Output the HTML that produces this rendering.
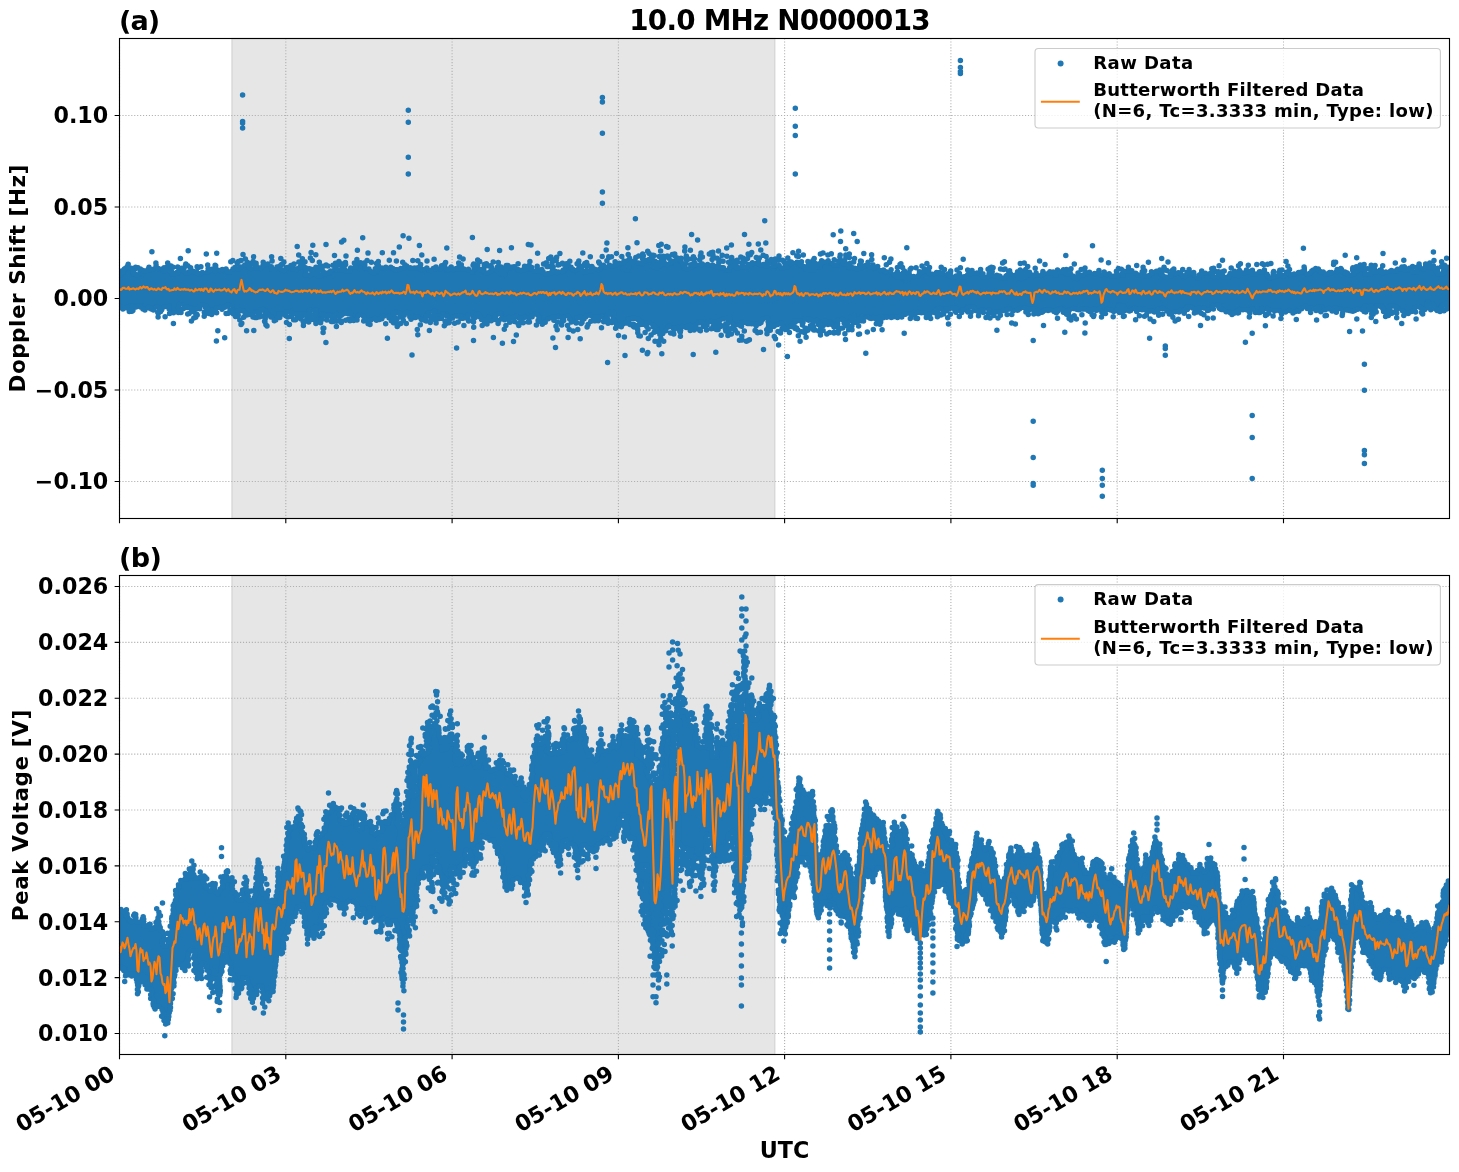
<!DOCTYPE html><html><head><meta charset="utf-8"><title>10.0 MHz N0000013</title><style>html,body{margin:0;padding:0;background:#fff;}svg{display:block;}text{font-family:"DejaVu Sans","Liberation Sans",sans-serif;font-weight:bold;fill:#000;}</style></head><body>
<svg width="1459" height="1172" viewBox="0 0 1459 1172">
<rect width="1459" height="1172" fill="#fff"/>
<defs><clipPath id="c0"><rect x="119.5" y="38.5" width="1330.0" height="480.0"/></clipPath></defs>
<rect x="231.8" y="38.5" width="543.2" height="480.0" fill="#808080" fill-opacity="0.2" stroke="#808080" stroke-opacity="0.2" stroke-width="1.39"/>
<path d="M119.5 38.5V518.5M285.8 38.5V518.5M452.1 38.5V518.5M618.4 38.5V518.5M784.6 38.5V518.5M950.9 38.5V518.5M1117.2 38.5V518.5M1283.5 38.5V518.5M119.5 115.5H1449.5M119.5 207H1449.5M119.5 298.5H1449.5M119.5 390H1449.5M119.5 481.5H1449.5" stroke="#b0b0b0" stroke-width="1.11" stroke-dasharray="1.11 1.83" fill="none"/>
<g clip-path="url(#c0)">
<path d="M119.5 272 L120.5 272 L121.5 270 L122.5 269 L123.5 269 L124.5 268 L125.5 267 L126.5 266 L127.5 263 L128.5 263 L129.5 267 L130.5 267 L131.5 267 L132.5 267 L133.5 267 L134.5 267 L135.5 273 L136.5 274 L137.5 274 L138.5 274 L139.5 268 L140.5 268 L141.5 269 L142.5 269 L143.5 270 L144.5 270 L145.5 270 L146.5 270 L147.5 269 L148.5 266 L149.5 266 L150.5 268 L151.5 268 L152.5 268 L153.5 268 L154.5 268 L155.5 262 L156.5 262 L157.5 266 L158.5 268 L159.5 268 L160.5 268 L161.5 268 L162.5 268 L163.5 267 L164.5 266 L165.5 271 L166.5 271 L167.5 271 L168.5 262 L169.5 265 L170.5 265 L171.5 265 L172.5 266 L173.5 273 L174.5 273 L175.5 273 L176.5 272 L177.5 271 L178.5 266 L179.5 267 L180.5 267 L181.5 267 L182.5 267 L183.5 267 L184.5 272 L185.5 272 L186.5 272 L187.5 272 L188.5 271 L189.5 271 L190.5 266 L191.5 267 L192.5 270 L193.5 270 L194.5 271 L195.5 271 L196.5 271 L197.5 266 L198.5 273 L199.5 273 L200.5 273 L201.5 272 L202.5 271 L203.5 272 L204.5 272 L205.5 272 L206.5 272 L207.5 264 L208.5 264 L209.5 268 L210.5 268 L211.5 268 L212.5 269 L213.5 270 L214.5 270 L215.5 270 L216.5 269 L217.5 269 L218.5 269 L219.5 269 L220.5 269 L221.5 269 L222.5 268 L223.5 268 L224.5 268 L225.5 268 L226.5 268 L227.5 270 L228.5 271 L229.5 271 L230.5 271 L231.5 271 L232.5 268 L233.5 268 L234.5 266 L235.5 266 L236.5 268 L237.5 268 L238.5 268 L239.5 267 L240.5 266 L241.5 266 L242.5 266 L243.5 265 L244.5 264 L245.5 264 L246.5 259 L247.5 261 L248.5 262 L249.5 262 L250.5 262 L251.5 268 L252.5 268 L253.5 268 L254.5 262 L255.5 262 L256.5 262 L257.5 264 L258.5 266 L259.5 267 L260.5 267 L261.5 267 L262.5 262 L263.5 261 L264.5 262 L265.5 263 L266.5 263 L267.5 263 L268.5 263 L269.5 265 L270.5 265 L271.5 266 L272.5 267 L273.5 268 L274.5 268 L275.5 268 L276.5 266 L277.5 266 L278.5 266 L279.5 265 L280.5 264 L281.5 263 L282.5 269 L283.5 269 L284.5 269 L285.5 268 L286.5 267 L287.5 267 L288.5 267 L289.5 267 L290.5 264 L291.5 264 L292.5 264 L293.5 263 L294.5 269 L295.5 269 L296.5 269 L297.5 268 L298.5 267 L299.5 266 L300.5 261 L301.5 257 L302.5 258 L303.5 266 L304.5 266 L305.5 266 L306.5 267 L307.5 274 L308.5 274 L309.5 274 L310.5 274 L311.5 268 L312.5 269 L313.5 269 L314.5 269 L315.5 266 L316.5 266 L317.5 266 L318.5 266 L319.5 274 L320.5 274 L321.5 274 L322.5 265 L323.5 270 L324.5 272 L325.5 272 L326.5 272 L327.5 272 L328.5 272 L329.5 271 L330.5 270 L331.5 270 L332.5 270 L333.5 264 L334.5 263 L335.5 262 L336.5 262 L337.5 269 L338.5 269 L339.5 269 L340.5 269 L341.5 269 L342.5 269 L343.5 269 L344.5 262 L345.5 269 L346.5 270 L347.5 270 L348.5 270 L349.5 268 L350.5 267 L351.5 267 L352.5 267 L353.5 267 L354.5 262 L355.5 262 L356.5 259 L357.5 263 L358.5 263 L359.5 263 L360.5 262 L361.5 262 L362.5 262 L363.5 262 L364.5 262 L365.5 261 L366.5 268 L367.5 268 L368.5 268 L369.5 268 L370.5 270 L371.5 271 L372.5 271 L373.5 271 L374.5 268 L375.5 268 L376.5 262 L377.5 261 L378.5 260 L379.5 265 L380.5 267 L381.5 267 L382.5 267 L383.5 267 L384.5 267 L385.5 266 L386.5 267 L387.5 267 L388.5 267 L389.5 267 L390.5 266 L391.5 267 L392.5 267 L393.5 268 L394.5 268 L395.5 268 L396.5 268 L397.5 269 L398.5 269 L399.5 269 L400.5 268 L401.5 267 L402.5 267 L403.5 267 L404.5 264 L405.5 264 L406.5 265 L407.5 265 L408.5 266 L409.5 266 L410.5 267 L411.5 267 L412.5 267 L413.5 267 L414.5 267 L415.5 267 L416.5 267 L417.5 267 L418.5 266 L419.5 263 L420.5 263 L421.5 268 L422.5 268 L423.5 268 L424.5 268 L425.5 268 L426.5 267 L427.5 267 L428.5 269 L429.5 269 L430.5 269 L431.5 269 L432.5 268 L433.5 267 L434.5 267 L435.5 266 L436.5 266 L437.5 268 L438.5 268 L439.5 268 L440.5 266 L441.5 265 L442.5 264 L443.5 264 L444.5 262 L445.5 261 L446.5 268 L447.5 268 L448.5 268 L449.5 267 L450.5 266 L451.5 266 L452.5 267 L453.5 268 L454.5 268 L455.5 268 L456.5 267 L457.5 267 L458.5 262 L459.5 262 L460.5 263 L461.5 264 L462.5 268 L463.5 268 L464.5 268 L465.5 269 L466.5 269 L467.5 269 L468.5 268 L469.5 269 L470.5 271 L471.5 271 L472.5 271 L473.5 263 L474.5 264 L475.5 264 L476.5 264 L477.5 264 L478.5 259 L479.5 268 L480.5 268 L481.5 268 L482.5 268 L483.5 264 L484.5 263 L485.5 272 L486.5 272 L487.5 272 L488.5 272 L489.5 271 L490.5 270 L491.5 266 L492.5 267 L493.5 269 L494.5 269 L495.5 269 L496.5 267 L497.5 266 L498.5 261 L499.5 266 L500.5 266 L501.5 272 L502.5 272 L503.5 272 L504.5 267 L505.5 265 L506.5 264 L507.5 264 L508.5 265 L509.5 266 L510.5 266 L511.5 266 L512.5 266 L513.5 266 L514.5 266 L515.5 267 L516.5 268 L517.5 268 L518.5 269 L519.5 269 L520.5 269 L521.5 269 L522.5 269 L523.5 269 L524.5 265 L525.5 266 L526.5 266 L527.5 266 L528.5 265 L529.5 260 L530.5 266 L531.5 266 L532.5 267 L533.5 270 L534.5 270 L535.5 270 L536.5 265 L537.5 265 L538.5 270 L539.5 270 L540.5 270 L541.5 268 L542.5 269 L543.5 271 L544.5 273 L545.5 273 L546.5 273 L547.5 272 L548.5 272 L549.5 272 L550.5 272 L551.5 262 L552.5 258 L553.5 266 L554.5 270 L555.5 270 L556.5 271 L557.5 271 L558.5 271 L559.5 271 L560.5 271 L561.5 271 L562.5 270 L563.5 269 L564.5 268 L565.5 268 L566.5 262 L567.5 262 L568.5 262 L569.5 266 L570.5 266 L571.5 266 L572.5 268 L573.5 269 L574.5 269 L575.5 269 L576.5 269 L577.5 269 L578.5 260 L579.5 260 L580.5 265 L581.5 265 L582.5 265 L583.5 270 L584.5 270 L585.5 270 L586.5 270 L587.5 270 L588.5 270 L589.5 270 L590.5 270 L591.5 265 L592.5 266 L593.5 268 L594.5 268 L595.5 269 L596.5 269 L597.5 269 L598.5 269 L599.5 268 L600.5 263 L601.5 264 L602.5 264 L603.5 264 L604.5 265 L605.5 266 L606.5 266 L607.5 266 L608.5 265 L609.5 264 L610.5 265 L611.5 265 L612.5 265 L613.5 265 L614.5 261 L615.5 261 L616.5 262 L617.5 262 L618.5 262 L619.5 262 L620.5 263 L621.5 263 L622.5 263 L623.5 260 L624.5 269 L625.5 269 L626.5 269 L627.5 260 L628.5 254 L629.5 257 L630.5 262 L631.5 262 L632.5 262 L633.5 260 L634.5 260 L635.5 257 L636.5 262 L637.5 262 L638.5 262 L639.5 263 L640.5 263 L641.5 263 L642.5 253 L643.5 253 L644.5 259 L645.5 259 L646.5 259 L647.5 259 L648.5 259 L649.5 258 L650.5 258 L651.5 254 L652.5 254 L653.5 254 L654.5 260 L655.5 267 L656.5 267 L657.5 267 L658.5 262 L659.5 262 L660.5 256 L661.5 256 L662.5 256 L663.5 255 L664.5 255 L665.5 263 L666.5 263 L667.5 263 L668.5 263 L669.5 256 L670.5 260 L671.5 260 L672.5 261 L673.5 261 L674.5 261 L675.5 254 L676.5 257 L677.5 257 L678.5 257 L679.5 257 L680.5 257 L681.5 257 L682.5 264 L683.5 264 L684.5 264 L685.5 255 L686.5 268 L687.5 268 L688.5 268 L689.5 267 L690.5 264 L691.5 263 L692.5 263 L693.5 263 L694.5 257 L695.5 262 L696.5 264 L697.5 264 L698.5 264 L699.5 264 L700.5 264 L701.5 263 L702.5 263 L703.5 264 L704.5 264 L705.5 264 L706.5 264 L707.5 263 L708.5 264 L709.5 265 L710.5 265 L711.5 265 L712.5 264 L713.5 265 L714.5 265 L715.5 265 L716.5 266 L717.5 266 L718.5 266 L719.5 266 L720.5 266 L721.5 266 L722.5 266 L723.5 267 L724.5 268 L725.5 269 L726.5 269 L727.5 269 L728.5 268 L729.5 261 L730.5 258 L731.5 257 L732.5 264 L733.5 264 L734.5 264 L735.5 260 L736.5 259 L737.5 266 L738.5 267 L739.5 267 L740.5 267 L741.5 262 L742.5 257 L743.5 266 L744.5 266 L745.5 266 L746.5 266 L747.5 265 L748.5 264 L749.5 263 L750.5 263 L751.5 262 L752.5 262 L753.5 263 L754.5 263 L755.5 263 L756.5 262 L757.5 257 L758.5 257 L759.5 257 L760.5 263 L761.5 263 L762.5 263 L763.5 263 L764.5 263 L765.5 263 L766.5 261 L767.5 260 L768.5 260 L769.5 266 L770.5 266 L771.5 266 L772.5 265 L773.5 259 L774.5 259 L775.5 258 L776.5 265 L777.5 265 L778.5 265 L779.5 265 L780.5 266 L781.5 267 L782.5 267 L783.5 267 L784.5 261 L785.5 262 L786.5 265 L787.5 265 L788.5 265 L789.5 261 L790.5 261 L791.5 261 L792.5 262 L793.5 263 L794.5 263 L795.5 263 L796.5 261 L797.5 261 L798.5 261 L799.5 261 L800.5 261 L801.5 261 L802.5 265 L803.5 265 L804.5 266 L805.5 266 L806.5 266 L807.5 261 L808.5 269 L809.5 269 L810.5 269 L811.5 261 L812.5 260 L813.5 258 L814.5 267 L815.5 267 L816.5 267 L817.5 266 L818.5 263 L819.5 262 L820.5 261 L821.5 260 L822.5 260 L823.5 261 L824.5 261 L825.5 261 L826.5 261 L827.5 260 L828.5 260 L829.5 261 L830.5 262 L831.5 262 L832.5 262 L833.5 264 L834.5 264 L835.5 264 L836.5 264 L837.5 260 L838.5 260 L839.5 254 L840.5 254 L841.5 259 L842.5 259 L843.5 259 L844.5 259 L845.5 254 L846.5 263 L847.5 263 L848.5 263 L849.5 263 L850.5 262 L851.5 266 L852.5 267 L853.5 267 L854.5 267 L855.5 268 L856.5 268 L857.5 268 L858.5 268 L859.5 264 L860.5 260 L861.5 260 L862.5 265 L863.5 265 L864.5 265 L865.5 264 L866.5 264 L867.5 261 L868.5 261 L869.5 265 L870.5 265 L871.5 265 L872.5 264 L873.5 264 L874.5 267 L875.5 267 L876.5 267 L877.5 266 L878.5 266 L879.5 269 L880.5 270 L881.5 270 L882.5 270 L883.5 269 L884.5 270 L885.5 270 L886.5 271 L887.5 271 L888.5 271 L889.5 271 L890.5 269 L891.5 269 L892.5 274 L893.5 274 L894.5 274 L895.5 273 L896.5 272 L897.5 276 L898.5 276 L899.5 276 L900.5 273 L901.5 273 L902.5 272 L903.5 267 L904.5 279 L905.5 279 L906.5 279 L907.5 272 L908.5 272 L909.5 269 L910.5 275 L911.5 275 L912.5 275 L913.5 275 L914.5 276 L915.5 276 L916.5 276 L917.5 275 L918.5 271 L919.5 271 L920.5 271 L921.5 271 L922.5 271 L923.5 267 L924.5 268 L925.5 269 L926.5 269 L927.5 269 L928.5 266 L929.5 266 L930.5 273 L931.5 273 L932.5 273 L933.5 273 L934.5 273 L935.5 272 L936.5 271 L937.5 272 L938.5 272 L939.5 272 L940.5 272 L941.5 272 L942.5 272 L943.5 268 L944.5 274 L945.5 274 L946.5 274 L947.5 273 L948.5 273 L949.5 271 L950.5 270 L951.5 276 L952.5 276 L953.5 276 L954.5 276 L955.5 275 L956.5 275 L957.5 275 L958.5 272 L959.5 272 L960.5 273 L961.5 276 L962.5 276 L963.5 276 L964.5 275 L965.5 275 L966.5 275 L967.5 274 L968.5 270 L969.5 270 L970.5 270 L971.5 270 L972.5 270 L973.5 272 L974.5 272 L975.5 272 L976.5 272 L977.5 272 L978.5 272 L979.5 269 L980.5 268 L981.5 269 L982.5 272 L983.5 273 L984.5 276 L985.5 276 L986.5 276 L987.5 276 L988.5 268 L989.5 267 L990.5 266 L991.5 266 L992.5 266 L993.5 275 L994.5 275 L995.5 275 L996.5 274 L997.5 275 L998.5 275 L999.5 275 L1000.5 275 L1001.5 277 L1002.5 277 L1003.5 277 L1004.5 277 L1005.5 275 L1006.5 274 L1007.5 274 L1008.5 271 L1009.5 270 L1010.5 270 L1011.5 273 L1012.5 274 L1013.5 274 L1014.5 274 L1015.5 274 L1016.5 272 L1017.5 271 L1018.5 270 L1019.5 269 L1020.5 269 L1021.5 278 L1022.5 278 L1023.5 278 L1024.5 272 L1025.5 268 L1026.5 267 L1027.5 271 L1028.5 271 L1029.5 271 L1030.5 272 L1031.5 274 L1032.5 274 L1033.5 274 L1034.5 274 L1035.5 272 L1036.5 272 L1037.5 274 L1038.5 274 L1039.5 274 L1040.5 274 L1041.5 274 L1042.5 271 L1043.5 271 L1044.5 273 L1045.5 273 L1046.5 273 L1047.5 273 L1048.5 272 L1049.5 271 L1050.5 271 L1051.5 271 L1052.5 271 L1053.5 271 L1054.5 271 L1055.5 274 L1056.5 274 L1057.5 274 L1058.5 270 L1059.5 271 L1060.5 271 L1061.5 271 L1062.5 269 L1063.5 269 L1064.5 269 L1065.5 269 L1066.5 268 L1067.5 272 L1068.5 272 L1069.5 272 L1070.5 268 L1071.5 273 L1072.5 275 L1073.5 275 L1074.5 277 L1075.5 277 L1076.5 277 L1077.5 272 L1078.5 272 L1079.5 274 L1080.5 274 L1081.5 274 L1082.5 274 L1083.5 274 L1084.5 273 L1085.5 267 L1086.5 272 L1087.5 272 L1088.5 272 L1089.5 271 L1090.5 272 L1091.5 273 L1092.5 273 L1093.5 273 L1094.5 272 L1095.5 273 L1096.5 273 L1097.5 273 L1098.5 270 L1099.5 270 L1100.5 273 L1101.5 273 L1102.5 273 L1103.5 271 L1104.5 271 L1105.5 273 L1106.5 273 L1107.5 273 L1108.5 273 L1109.5 273 L1110.5 274 L1111.5 275 L1112.5 275 L1113.5 275 L1114.5 275 L1115.5 275 L1116.5 270 L1117.5 268 L1118.5 274 L1119.5 274 L1120.5 274 L1121.5 268 L1122.5 269 L1123.5 270 L1124.5 270 L1125.5 271 L1126.5 271 L1127.5 271 L1128.5 266 L1129.5 270 L1130.5 270 L1131.5 270 L1132.5 270 L1133.5 272 L1134.5 272 L1135.5 272 L1136.5 273 L1137.5 273 L1138.5 274 L1139.5 274 L1140.5 274 L1141.5 271 L1142.5 266 L1143.5 266 L1144.5 269 L1145.5 275 L1146.5 275 L1147.5 275 L1148.5 275 L1149.5 274 L1150.5 271 L1151.5 271 L1152.5 272 L1153.5 272 L1154.5 272 L1155.5 271 L1156.5 270 L1157.5 270 L1158.5 270 L1159.5 269 L1160.5 269 L1161.5 271 L1162.5 271 L1163.5 275 L1164.5 276 L1165.5 276 L1166.5 276 L1167.5 276 L1168.5 276 L1169.5 273 L1170.5 273 L1171.5 270 L1172.5 269 L1173.5 268 L1174.5 268 L1175.5 272 L1176.5 272 L1177.5 272 L1178.5 272 L1179.5 272 L1180.5 272 L1181.5 272 L1182.5 274 L1183.5 275 L1184.5 275 L1185.5 275 L1186.5 272 L1187.5 271 L1188.5 269 L1189.5 269 L1190.5 272 L1191.5 272 L1192.5 272 L1193.5 271 L1194.5 272 L1195.5 277 L1196.5 277 L1197.5 277 L1198.5 274 L1199.5 274 L1200.5 271 L1201.5 270 L1202.5 270 L1203.5 272 L1204.5 272 L1205.5 272 L1206.5 273 L1207.5 273 L1208.5 273 L1209.5 273 L1210.5 272 L1211.5 268 L1212.5 267 L1213.5 276 L1214.5 277 L1215.5 277 L1216.5 277 L1217.5 270 L1218.5 271 L1219.5 271 L1220.5 271 L1221.5 271 L1222.5 270 L1223.5 270 L1224.5 276 L1225.5 276 L1226.5 276 L1227.5 276 L1228.5 276 L1229.5 273 L1230.5 272 L1231.5 272 L1232.5 272 L1233.5 270 L1234.5 270 L1235.5 275 L1236.5 275 L1237.5 275 L1238.5 270 L1239.5 269 L1240.5 270 L1241.5 272 L1242.5 272 L1243.5 272 L1244.5 272 L1245.5 270 L1246.5 269 L1247.5 270 L1248.5 271 L1249.5 271 L1250.5 271 L1251.5 270 L1252.5 269 L1253.5 273 L1254.5 273 L1255.5 273 L1256.5 273 L1257.5 273 L1258.5 272 L1259.5 271 L1260.5 271 L1261.5 271 L1262.5 271 L1263.5 270 L1264.5 269 L1265.5 273 L1266.5 273 L1267.5 273 L1268.5 275 L1269.5 277 L1270.5 277 L1271.5 277 L1272.5 271 L1273.5 270 L1274.5 271 L1275.5 275 L1276.5 275 L1277.5 275 L1278.5 270 L1279.5 269 L1280.5 274 L1281.5 274 L1282.5 274 L1283.5 274 L1284.5 274 L1285.5 272 L1286.5 271 L1287.5 271 L1288.5 265 L1289.5 268 L1290.5 273 L1291.5 273 L1292.5 273 L1293.5 273 L1294.5 273 L1295.5 273 L1296.5 273 L1297.5 273 L1298.5 272 L1299.5 271 L1300.5 271 L1301.5 271 L1302.5 271 L1303.5 266 L1304.5 266 L1305.5 268 L1306.5 273 L1307.5 273 L1308.5 273 L1309.5 272 L1310.5 271 L1311.5 270 L1312.5 269 L1313.5 269 L1314.5 268 L1315.5 267 L1316.5 268 L1317.5 268 L1318.5 268 L1319.5 269 L1320.5 270 L1321.5 271 L1322.5 271 L1323.5 271 L1324.5 272 L1325.5 273 L1326.5 273 L1327.5 273 L1328.5 272 L1329.5 271 L1330.5 271 L1331.5 271 L1332.5 272 L1333.5 272 L1334.5 272 L1335.5 271 L1336.5 269 L1337.5 269 L1338.5 269 L1339.5 269 L1340.5 268 L1341.5 268 L1342.5 269 L1343.5 271 L1344.5 271 L1345.5 271 L1346.5 272 L1347.5 272 L1348.5 273 L1349.5 274 L1350.5 274 L1351.5 274 L1352.5 274 L1353.5 266 L1354.5 271 L1355.5 271 L1356.5 271 L1357.5 266 L1358.5 266 L1359.5 264 L1360.5 264 L1361.5 269 L1362.5 269 L1363.5 269 L1364.5 264 L1365.5 273 L1366.5 273 L1367.5 273 L1368.5 273 L1369.5 273 L1370.5 265 L1371.5 264 L1372.5 265 L1373.5 265 L1374.5 265 L1375.5 265 L1376.5 271 L1377.5 271 L1378.5 271 L1379.5 269 L1380.5 269 L1381.5 269 L1382.5 270 L1383.5 271 L1384.5 271 L1385.5 271 L1386.5 271 L1387.5 271 L1388.5 271 L1389.5 271 L1390.5 270 L1391.5 269 L1392.5 270 L1393.5 270 L1394.5 270 L1395.5 270 L1396.5 269 L1397.5 268 L1398.5 268 L1399.5 268 L1400.5 267 L1401.5 266 L1402.5 266 L1403.5 266 L1404.5 266 L1405.5 267 L1406.5 268 L1407.5 268 L1408.5 268 L1409.5 267 L1410.5 267 L1411.5 266 L1412.5 265 L1413.5 271 L1414.5 271 L1415.5 271 L1416.5 266 L1417.5 266 L1418.5 263 L1419.5 263 L1420.5 266 L1421.5 267 L1422.5 267 L1423.5 267 L1424.5 267 L1425.5 263 L1426.5 263 L1427.5 263 L1428.5 263 L1429.5 267 L1430.5 267 L1431.5 267 L1432.5 265 L1433.5 265 L1434.5 266 L1435.5 267 L1436.5 267 L1437.5 267 L1438.5 267 L1439.5 273 L1440.5 273 L1441.5 273 L1442.5 261 L1443.5 264 L1444.5 264 L1445.5 265 L1446.5 266 L1447.5 266 L1448.5 267 L1449.5 267 L1449.5 303 L1448.5 303 L1447.5 310 L1446.5 310 L1445.5 306 L1444.5 306 L1443.5 306 L1442.5 312 L1441.5 312 L1440.5 312 L1439.5 312 L1438.5 312 L1437.5 312 L1436.5 311 L1435.5 310 L1434.5 309 L1433.5 309 L1432.5 309 L1431.5 304 L1430.5 303 L1429.5 303 L1428.5 303 L1427.5 309 L1426.5 309 L1425.5 310 L1424.5 311 L1423.5 315 L1422.5 315 L1421.5 314 L1420.5 309 L1419.5 308 L1418.5 308 L1417.5 308 L1416.5 308 L1415.5 313 L1414.5 312 L1413.5 312 L1412.5 312 L1411.5 313 L1410.5 313 L1409.5 313 L1408.5 314 L1407.5 314 L1406.5 314 L1405.5 314 L1404.5 316 L1403.5 316 L1402.5 312 L1401.5 311 L1400.5 309 L1399.5 309 L1398.5 309 L1397.5 309 L1396.5 308 L1395.5 308 L1394.5 307 L1393.5 307 L1392.5 307 L1391.5 307 L1390.5 307 L1389.5 316 L1388.5 317 L1387.5 317 L1386.5 312 L1385.5 312 L1384.5 312 L1383.5 313 L1382.5 312 L1381.5 308 L1380.5 308 L1379.5 307 L1378.5 307 L1377.5 307 L1376.5 308 L1375.5 313 L1374.5 313 L1373.5 315 L1372.5 317 L1371.5 318 L1370.5 311 L1369.5 311 L1368.5 306 L1367.5 306 L1366.5 306 L1365.5 313 L1364.5 313 L1363.5 312 L1362.5 311 L1361.5 310 L1360.5 310 L1359.5 310 L1358.5 310 L1357.5 311 L1356.5 311 L1355.5 311 L1354.5 312 L1353.5 312 L1352.5 312 L1351.5 312 L1350.5 312 L1349.5 312 L1348.5 311 L1347.5 311 L1346.5 311 L1345.5 311 L1344.5 311 L1343.5 315 L1342.5 317 L1341.5 310 L1340.5 310 L1339.5 309 L1338.5 308 L1337.5 308 L1336.5 308 L1335.5 313 L1334.5 312 L1333.5 312 L1332.5 312 L1331.5 312 L1330.5 310 L1329.5 310 L1328.5 310 L1327.5 310 L1326.5 310 L1325.5 311 L1324.5 311 L1323.5 311 L1322.5 311 L1321.5 312 L1320.5 308 L1319.5 308 L1318.5 308 L1317.5 309 L1316.5 311 L1315.5 311 L1314.5 310 L1313.5 310 L1312.5 310 L1311.5 313 L1310.5 314 L1309.5 309 L1308.5 309 L1307.5 309 L1306.5 309 L1305.5 308 L1304.5 308 L1303.5 308 L1302.5 309 L1301.5 310 L1300.5 310 L1299.5 312 L1298.5 312 L1297.5 312 L1296.5 312 L1295.5 313 L1294.5 313 L1293.5 314 L1292.5 314 L1291.5 312 L1290.5 312 L1289.5 312 L1288.5 312 L1287.5 312 L1286.5 312 L1285.5 313 L1284.5 313 L1283.5 313 L1282.5 314 L1281.5 315 L1280.5 314 L1279.5 312 L1278.5 311 L1277.5 311 L1276.5 311 L1275.5 311 L1274.5 312 L1273.5 311 L1272.5 311 L1271.5 311 L1270.5 311 L1269.5 314 L1268.5 315 L1267.5 310 L1266.5 309 L1265.5 309 L1264.5 309 L1263.5 312 L1262.5 312 L1261.5 313 L1260.5 313 L1259.5 314 L1258.5 314 L1257.5 313 L1256.5 313 L1255.5 313 L1254.5 313 L1253.5 310 L1252.5 310 L1251.5 310 L1250.5 314 L1249.5 318 L1248.5 313 L1247.5 311 L1246.5 311 L1245.5 311 L1244.5 311 L1243.5 311 L1242.5 311 L1241.5 311 L1240.5 311 L1239.5 313 L1238.5 314 L1237.5 314 L1236.5 314 L1235.5 314 L1234.5 314 L1233.5 315 L1232.5 315 L1231.5 315 L1230.5 314 L1229.5 313 L1228.5 313 L1227.5 313 L1226.5 313 L1225.5 312 L1224.5 311 L1223.5 311 L1222.5 311 L1221.5 311 L1220.5 310 L1219.5 310 L1218.5 309 L1217.5 307 L1216.5 306 L1215.5 306 L1214.5 306 L1213.5 310 L1212.5 310 L1211.5 310 L1210.5 310 L1209.5 311 L1208.5 311 L1207.5 312 L1206.5 311 L1205.5 309 L1204.5 309 L1203.5 309 L1202.5 309 L1201.5 309 L1200.5 309 L1199.5 313 L1198.5 313 L1197.5 313 L1196.5 313 L1195.5 313 L1194.5 309 L1193.5 309 L1192.5 309 L1191.5 308 L1190.5 308 L1189.5 308 L1188.5 309 L1187.5 311 L1186.5 311 L1185.5 313 L1184.5 314 L1183.5 314 L1182.5 311 L1181.5 311 L1180.5 311 L1179.5 313 L1178.5 313 L1177.5 313 L1176.5 313 L1175.5 313 L1174.5 313 L1173.5 313 L1172.5 318 L1171.5 315 L1170.5 315 L1169.5 315 L1168.5 315 L1167.5 312 L1166.5 312 L1165.5 310 L1164.5 310 L1163.5 310 L1162.5 310 L1161.5 309 L1160.5 309 L1159.5 309 L1158.5 316 L1157.5 315 L1156.5 313 L1155.5 313 L1154.5 313 L1153.5 313 L1152.5 312 L1151.5 312 L1150.5 312 L1149.5 312 L1148.5 312 L1147.5 315 L1146.5 316 L1145.5 311 L1144.5 311 L1143.5 311 L1142.5 311 L1141.5 311 L1140.5 311 L1139.5 311 L1138.5 311 L1137.5 313 L1136.5 312 L1135.5 311 L1134.5 309 L1133.5 309 L1132.5 309 L1131.5 311 L1130.5 312 L1129.5 312 L1128.5 312 L1127.5 312 L1126.5 312 L1125.5 312 L1124.5 312 L1123.5 312 L1122.5 306 L1121.5 306 L1120.5 306 L1119.5 314 L1118.5 313 L1117.5 312 L1116.5 312 L1115.5 312 L1114.5 312 L1113.5 313 L1112.5 312 L1111.5 312 L1110.5 311 L1109.5 310 L1108.5 310 L1107.5 310 L1106.5 314 L1105.5 315 L1104.5 314 L1103.5 314 L1102.5 314 L1101.5 313 L1100.5 310 L1099.5 310 L1098.5 310 L1097.5 311 L1096.5 311 L1095.5 311 L1094.5 311 L1093.5 311 L1092.5 311 L1091.5 316 L1090.5 313 L1089.5 313 L1088.5 312 L1087.5 311 L1086.5 311 L1085.5 310 L1084.5 310 L1083.5 310 L1082.5 310 L1081.5 310 L1080.5 310 L1079.5 311 L1078.5 311 L1077.5 311 L1076.5 310 L1075.5 310 L1074.5 310 L1073.5 310 L1072.5 310 L1071.5 310 L1070.5 310 L1069.5 320 L1068.5 319 L1067.5 316 L1066.5 315 L1065.5 315 L1064.5 314 L1063.5 313 L1062.5 313 L1061.5 310 L1060.5 310 L1059.5 310 L1058.5 312 L1057.5 313 L1056.5 314 L1055.5 313 L1054.5 313 L1053.5 312 L1052.5 311 L1051.5 311 L1050.5 311 L1049.5 311 L1048.5 311 L1047.5 311 L1046.5 311 L1045.5 311 L1044.5 312 L1043.5 312 L1042.5 313 L1041.5 314 L1040.5 314 L1039.5 314 L1038.5 315 L1037.5 315 L1036.5 310 L1035.5 310 L1034.5 310 L1033.5 310 L1032.5 310 L1031.5 310 L1030.5 310 L1029.5 311 L1028.5 311 L1027.5 315 L1026.5 313 L1025.5 313 L1024.5 309 L1023.5 308 L1022.5 308 L1021.5 308 L1020.5 309 L1019.5 310 L1018.5 311 L1017.5 311 L1016.5 310 L1015.5 310 L1014.5 310 L1013.5 312 L1012.5 315 L1011.5 310 L1010.5 310 L1009.5 310 L1008.5 311 L1007.5 311 L1006.5 310 L1005.5 310 L1004.5 310 L1003.5 312 L1002.5 311 L1001.5 311 L1000.5 311 L999.5 317 L998.5 313 L997.5 313 L996.5 313 L995.5 313 L994.5 316 L993.5 316 L992.5 316 L991.5 314 L990.5 314 L989.5 314 L988.5 318 L987.5 310 L986.5 310 L985.5 310 L984.5 312 L983.5 314 L982.5 313 L981.5 312 L980.5 312 L979.5 312 L978.5 317 L977.5 312 L976.5 312 L975.5 312 L974.5 311 L973.5 311 L972.5 308 L971.5 308 L970.5 308 L969.5 308 L968.5 308 L967.5 313 L966.5 312 L965.5 311 L964.5 311 L963.5 311 L962.5 313 L961.5 314 L960.5 316 L959.5 311 L958.5 311 L957.5 311 L956.5 313 L955.5 313 L954.5 312 L953.5 309 L952.5 309 L951.5 309 L950.5 309 L949.5 310 L948.5 310 L947.5 311 L946.5 312 L945.5 312 L944.5 314 L943.5 315 L942.5 315 L941.5 310 L940.5 310 L939.5 310 L938.5 317 L937.5 318 L936.5 317 L935.5 314 L934.5 314 L933.5 313 L932.5 313 L931.5 313 L930.5 320 L929.5 319 L928.5 319 L927.5 319 L926.5 319 L925.5 314 L924.5 314 L923.5 314 L922.5 314 L921.5 314 L920.5 313 L919.5 313 L918.5 313 L917.5 314 L916.5 314 L915.5 319 L914.5 316 L913.5 316 L912.5 316 L911.5 318 L910.5 319 L909.5 314 L908.5 314 L907.5 314 L906.5 314 L905.5 315 L904.5 316 L903.5 316 L902.5 318 L901.5 318 L900.5 318 L899.5 318 L898.5 318 L897.5 319 L896.5 318 L895.5 318 L894.5 318 L893.5 318 L892.5 318 L891.5 319 L890.5 318 L889.5 318 L888.5 318 L887.5 318 L886.5 318 L885.5 318 L884.5 318 L883.5 319 L882.5 318 L881.5 318 L880.5 318 L879.5 318 L878.5 318 L877.5 325 L876.5 325 L875.5 320 L874.5 319 L873.5 319 L872.5 319 L871.5 320 L870.5 320 L869.5 319 L868.5 318 L867.5 318 L866.5 317 L865.5 317 L864.5 317 L863.5 322 L862.5 322 L861.5 322 L860.5 322 L859.5 322 L858.5 322 L857.5 326 L856.5 324 L855.5 317 L854.5 317 L853.5 317 L852.5 322 L851.5 322 L850.5 322 L849.5 322 L848.5 323 L847.5 327 L846.5 327 L845.5 324 L844.5 324 L843.5 324 L842.5 321 L841.5 320 L840.5 320 L839.5 320 L838.5 334 L837.5 334 L836.5 328 L835.5 328 L834.5 328 L833.5 328 L832.5 326 L831.5 325 L830.5 325 L829.5 325 L828.5 325 L827.5 325 L826.5 322 L825.5 322 L824.5 322 L823.5 327 L822.5 331 L821.5 331 L820.5 331 L819.5 332 L818.5 326 L817.5 325 L816.5 323 L815.5 323 L814.5 323 L813.5 331 L812.5 330 L811.5 321 L810.5 321 L809.5 321 L808.5 321 L807.5 321 L806.5 320 L805.5 320 L804.5 320 L803.5 327 L802.5 326 L801.5 322 L800.5 322 L799.5 322 L798.5 322 L797.5 322 L796.5 322 L795.5 323 L794.5 329 L793.5 328 L792.5 328 L791.5 328 L790.5 328 L789.5 328 L788.5 328 L787.5 331 L786.5 331 L785.5 331 L784.5 330 L783.5 330 L782.5 330 L781.5 324 L780.5 324 L779.5 324 L778.5 325 L777.5 326 L776.5 326 L775.5 326 L774.5 327 L773.5 327 L772.5 327 L771.5 330 L770.5 331 L769.5 331 L768.5 331 L767.5 335 L766.5 319 L765.5 319 L764.5 319 L763.5 320 L762.5 321 L761.5 323 L760.5 324 L759.5 325 L758.5 325 L757.5 325 L756.5 327 L755.5 332 L754.5 325 L753.5 325 L752.5 325 L751.5 325 L750.5 325 L749.5 325 L748.5 325 L747.5 325 L746.5 324 L745.5 324 L744.5 323 L743.5 323 L742.5 323 L741.5 327 L740.5 327 L739.5 326 L738.5 326 L737.5 326 L736.5 326 L735.5 326 L734.5 327 L733.5 327 L732.5 327 L731.5 323 L730.5 323 L729.5 323 L728.5 324 L727.5 319 L726.5 319 L725.5 319 L724.5 319 L723.5 320 L722.5 320 L721.5 320 L720.5 321 L719.5 322 L718.5 322 L717.5 322 L716.5 331 L715.5 330 L714.5 330 L713.5 330 L712.5 323 L711.5 323 L710.5 323 L709.5 323 L708.5 323 L707.5 326 L706.5 331 L705.5 327 L704.5 327 L703.5 327 L702.5 323 L701.5 323 L700.5 323 L699.5 323 L698.5 324 L697.5 324 L696.5 329 L695.5 329 L694.5 331 L693.5 331 L692.5 331 L691.5 331 L690.5 332 L689.5 327 L688.5 327 L687.5 327 L686.5 328 L685.5 328 L684.5 328 L683.5 328 L682.5 328 L681.5 332 L680.5 337 L679.5 333 L678.5 331 L677.5 329 L676.5 329 L675.5 329 L674.5 335 L673.5 330 L672.5 329 L671.5 327 L670.5 327 L669.5 327 L668.5 328 L667.5 328 L666.5 331 L665.5 332 L664.5 332 L663.5 334 L662.5 335 L661.5 335 L660.5 341 L659.5 336 L658.5 333 L657.5 332 L656.5 332 L655.5 328 L654.5 328 L653.5 328 L652.5 327 L651.5 325 L650.5 324 L649.5 324 L648.5 324 L647.5 330 L646.5 327 L645.5 326 L644.5 326 L643.5 326 L642.5 326 L641.5 326 L640.5 326 L639.5 326 L638.5 321 L637.5 321 L636.5 320 L635.5 320 L634.5 320 L633.5 320 L632.5 320 L631.5 320 L630.5 320 L629.5 325 L628.5 324 L627.5 324 L626.5 324 L625.5 324 L624.5 324 L623.5 325 L622.5 327 L621.5 328 L620.5 327 L619.5 327 L618.5 327 L617.5 327 L616.5 329 L615.5 329 L614.5 323 L613.5 323 L612.5 323 L611.5 313 L610.5 313 L609.5 313 L608.5 316 L607.5 319 L606.5 322 L605.5 322 L604.5 322 L603.5 323 L602.5 318 L601.5 317 L600.5 317 L599.5 317 L598.5 322 L597.5 322 L596.5 322 L595.5 322 L594.5 322 L593.5 322 L592.5 317 L591.5 317 L590.5 317 L589.5 316 L588.5 316 L587.5 316 L586.5 318 L585.5 318 L584.5 320 L583.5 321 L582.5 323 L581.5 324 L580.5 319 L579.5 319 L578.5 319 L577.5 319 L576.5 324 L575.5 324 L574.5 322 L573.5 322 L572.5 322 L571.5 323 L570.5 323 L569.5 320 L568.5 319 L567.5 317 L566.5 317 L565.5 317 L564.5 321 L563.5 322 L562.5 326 L561.5 326 L560.5 318 L559.5 318 L558.5 318 L557.5 317 L556.5 317 L555.5 317 L554.5 322 L553.5 321 L552.5 319 L551.5 319 L550.5 319 L549.5 319 L548.5 320 L547.5 320 L546.5 320 L545.5 323 L544.5 324 L543.5 324 L542.5 325 L541.5 325 L540.5 323 L539.5 322 L538.5 322 L537.5 316 L536.5 315 L535.5 315 L534.5 315 L533.5 315 L532.5 318 L531.5 318 L530.5 318 L529.5 323 L528.5 318 L527.5 318 L526.5 318 L525.5 318 L524.5 319 L523.5 319 L522.5 323 L521.5 323 L520.5 323 L519.5 326 L518.5 319 L517.5 318 L516.5 318 L515.5 318 L514.5 323 L513.5 322 L512.5 319 L511.5 318 L510.5 318 L509.5 318 L508.5 320 L507.5 320 L506.5 320 L505.5 320 L504.5 321 L503.5 320 L502.5 320 L501.5 320 L500.5 315 L499.5 315 L498.5 315 L497.5 315 L496.5 321 L495.5 321 L494.5 321 L493.5 321 L492.5 321 L491.5 322 L490.5 321 L489.5 319 L488.5 319 L487.5 319 L486.5 325 L485.5 323 L484.5 323 L483.5 323 L482.5 321 L481.5 321 L480.5 320 L479.5 318 L478.5 315 L477.5 315 L476.5 315 L475.5 318 L474.5 322 L473.5 323 L472.5 317 L471.5 315 L470.5 315 L469.5 315 L468.5 322 L467.5 321 L466.5 318 L465.5 318 L464.5 318 L463.5 319 L462.5 319 L461.5 319 L460.5 320 L459.5 318 L458.5 317 L457.5 317 L456.5 317 L455.5 317 L454.5 317 L453.5 318 L452.5 319 L451.5 319 L450.5 322 L449.5 323 L448.5 318 L447.5 317 L446.5 317 L445.5 315 L444.5 315 L443.5 315 L442.5 319 L441.5 319 L440.5 320 L439.5 320 L438.5 320 L437.5 316 L436.5 316 L435.5 316 L434.5 320 L433.5 320 L432.5 312 L431.5 312 L430.5 312 L429.5 316 L428.5 316 L427.5 317 L426.5 322 L425.5 322 L424.5 321 L423.5 321 L422.5 321 L421.5 321 L420.5 320 L419.5 318 L418.5 318 L417.5 318 L416.5 318 L415.5 319 L414.5 319 L413.5 319 L412.5 319 L411.5 320 L410.5 320 L409.5 318 L408.5 314 L407.5 314 L406.5 314 L405.5 315 L404.5 316 L403.5 316 L402.5 316 L401.5 316 L400.5 318 L399.5 318 L398.5 314 L397.5 314 L396.5 314 L395.5 314 L394.5 323 L393.5 324 L392.5 323 L391.5 322 L390.5 321 L389.5 319 L388.5 319 L387.5 316 L386.5 316 L385.5 316 L384.5 317 L383.5 317 L382.5 319 L381.5 320 L380.5 320 L379.5 321 L378.5 321 L377.5 321 L376.5 321 L375.5 321 L374.5 319 L373.5 319 L372.5 319 L371.5 321 L370.5 321 L369.5 325 L368.5 325 L367.5 324 L366.5 322 L365.5 322 L364.5 322 L363.5 322 L362.5 316 L361.5 316 L360.5 316 L359.5 316 L358.5 317 L357.5 321 L356.5 321 L355.5 321 L354.5 321 L353.5 322 L352.5 322 L351.5 322 L350.5 314 L349.5 314 L348.5 314 L347.5 315 L346.5 315 L345.5 315 L344.5 315 L343.5 315 L342.5 315 L341.5 316 L340.5 317 L339.5 317 L338.5 317 L337.5 316 L336.5 315 L335.5 315 L334.5 315 L333.5 323 L332.5 323 L331.5 323 L330.5 317 L329.5 316 L328.5 316 L327.5 316 L326.5 321 L325.5 317 L324.5 316 L323.5 316 L322.5 316 L321.5 323 L320.5 324 L319.5 323 L318.5 323 L317.5 323 L316.5 324 L315.5 324 L314.5 316 L313.5 310 L312.5 310 L311.5 310 L310.5 315 L309.5 315 L308.5 315 L307.5 319 L306.5 319 L305.5 315 L304.5 315 L303.5 315 L302.5 317 L301.5 320 L300.5 320 L299.5 318 L298.5 318 L297.5 318 L296.5 320 L295.5 315 L294.5 315 L293.5 315 L292.5 320 L291.5 318 L290.5 313 L289.5 313 L288.5 313 L287.5 313 L286.5 317 L285.5 317 L284.5 316 L283.5 315 L282.5 315 L281.5 315 L280.5 318 L279.5 319 L278.5 319 L277.5 319 L276.5 321 L275.5 321 L274.5 322 L273.5 321 L272.5 318 L271.5 318 L270.5 318 L269.5 316 L268.5 316 L267.5 316 L266.5 316 L265.5 315 L264.5 314 L263.5 311 L262.5 311 L261.5 311 L260.5 318 L259.5 318 L258.5 318 L257.5 318 L256.5 313 L255.5 313 L254.5 313 L253.5 313 L252.5 318 L251.5 316 L250.5 315 L249.5 315 L248.5 315 L247.5 316 L246.5 316 L245.5 316 L244.5 318 L243.5 312 L242.5 312 L241.5 312 L240.5 312 L239.5 312 L238.5 320 L237.5 318 L236.5 318 L235.5 318 L234.5 317 L233.5 315 L232.5 314 L231.5 313 L230.5 306 L229.5 306 L228.5 306 L227.5 307 L226.5 307 L225.5 308 L224.5 308 L223.5 309 L222.5 310 L221.5 310 L220.5 309 L219.5 308 L218.5 308 L217.5 308 L216.5 314 L215.5 313 L214.5 311 L213.5 311 L212.5 311 L211.5 316 L210.5 315 L209.5 315 L208.5 315 L207.5 309 L206.5 309 L205.5 309 L204.5 308 L203.5 306 L202.5 306 L201.5 306 L200.5 309 L199.5 310 L198.5 310 L197.5 310 L196.5 310 L195.5 310 L194.5 310 L193.5 313 L192.5 313 L191.5 313 L190.5 313 L189.5 309 L188.5 309 L187.5 309 L186.5 309 L185.5 309 L184.5 309 L183.5 310 L182.5 305 L181.5 305 L180.5 305 L179.5 314 L178.5 314 L177.5 313 L176.5 313 L175.5 313 L174.5 313 L173.5 314 L172.5 314 L171.5 314 L170.5 314 L169.5 315 L168.5 310 L167.5 307 L166.5 307 L165.5 307 L164.5 308 L163.5 308 L162.5 310 L161.5 312 L160.5 313 L159.5 313 L158.5 318 L157.5 308 L156.5 308 L155.5 308 L154.5 310 L153.5 311 L152.5 310 L151.5 310 L150.5 310 L149.5 309 L148.5 308 L147.5 308 L146.5 308 L145.5 311 L144.5 311 L143.5 310 L142.5 310 L141.5 308 L140.5 308 L139.5 307 L138.5 307 L137.5 307 L136.5 308 L135.5 308 L134.5 308 L133.5 311 L132.5 312 L131.5 307 L130.5 307 L129.5 307 L128.5 312 L127.5 309 L126.5 309 L125.5 309 L124.5 309 L123.5 310 L122.5 310 L121.5 309 L120.5 308 L119.5 308Z" fill="#1f77b4"/>
<path d="M635.4 218.8h0M764.7 220.7h0M607.6 362.6h0M840.8 230.9h0M787.4 356.4h0M412 355.1h0M625 355.4h0M693.2 354.4h0M853.7 233.6h0M647.2 353.8h0M661.8 353.7h0M865.8 353.2h0M744.5 234.5h0M691.6 234.5h0M833.2 234.8h0M647.8 352.4h0M715.8 352.3h0M403.1 235.7h0M642.4 350.2h0M472.4 237.5h0M763.5 349.5h0M456.6 348h0M408.9 238.2h0M362.7 237.8h0M555.5 347.6h0M697.6 240.1h0M840.5 241.6h0M857.2 241.5h0M343.8 240.2h0M778.6 345h0M659 344.7h0M637 242.7h0M216.4 340.9h0M765.8 243.1h0M325.9 342.5h0M606.9 243.1h0M758.3 243.9h0M341.6 241.9h0M502.4 343.3h0M748.9 244.2h0M661.2 244.3h0M528.3 244.5h0M731.4 245h0M531 245.1h0M658.8 245.5h0M513.5 341.6h0M663.7 341.3h0M655 341.3h0M224.7 337.7h0M658.5 341.2h0M419.4 245.5h0M746.4 341.3h0M800.1 341.3h0M326 244.4h0M289.3 338.5h0M473.5 340.6h0M666.5 246.6h0M684.9 246.9h0M747.6 340.7h0M1092.5 245.8h0M668 247.2h0M312.8 245.2h0M739.5 340.2h0M742 340.1h0M627.9 247.7h0M749.4 339.8h0M387.4 338.3h0M1149.6 338.2h0M399.3 246.9h0M726.7 248.1h0M906.8 247.7h0M845.5 339.5h0M511.4 247.7h0M446.8 248h0M580.2 338.7h0M845.7 248.8h0M297.2 246.5h0M775.5 338.7h0M648.3 338.4h0M552.9 338.1h0M660.8 338.3h0M493.4 337.6h0M760.8 249.9h0M568.1 337.5h0M487.2 249.4h0M606.2 249.9h0M690.4 250.3h0M624.4 337h0M806.1 337.2h0M1303.4 248.3h0M499.6 250.5h0M660.6 250.9h0M718.5 251.1h0M798.6 251.3h0M684.7 251.1h0M774.3 336.4h0M680.4 336.3h0M647.7 251.3h0M741.8 336.2h0M640.3 335.9h0M638.9 335.7h0M618.5 335.6h0M357.4 250.2h0M417.8 334.7h0M798.3 335.8h0M516.3 335.1h0M712.8 252.2h0M727.9 335.4h0M751.7 252.4h0M651.1 335.1h0M721.2 335.3h0M792.9 252.7h0M1362.5 331.1h0M711.1 252.7h0M820.5 335h0M323.1 332.6h0M823 252.9h0M659.9 334.6h0M701 252.9h0M217.8 330.8h0M858.6 334.3h0M582.8 253h0M1084.9 332.9h0M859.5 334h0M649 253.4h0M537.6 253.2h0M616.5 253.4h0M731.3 334.1h0M863.8 253.5h0M826.8 334h0M246.6 330.7h0M673.8 333.9h0M844.9 333.8h0M831.3 253.8h0M748.1 253.9h0M820.4 253.9h0M559.9 253.5h0M767 333.8h0M849.3 253.9h0M382.3 252.7h0M1064.8 332.2h0M253.8 330.4h0M709.3 254.1h0M393.5 252.8h0M904.2 333.2h0M642.7 254h0M662.8 333.4h0M674.7 254.1h0M670.6 333.1h0M672.3 254.4h0M749.5 254.7h0M838.2 333h0M834 333h0M750.3 254.7h0M780.5 333.1h0M803.3 254.9h0M368 253.1h0M737.3 333h0M637.8 332.7h0M628.2 254.6h0M827.9 254.9h0M871.6 254.7h0M840.2 254.9h0M757.6 332.8h0M311.1 252.6h0M845.8 254.9h0M645.1 332.5h0M188.2 250.8h0M829.7 332.6h0M804.7 332.7h0M722.2 255.2h0M763.2 255.3h0M789.4 332.5h0M654.2 332.2h0M760.5 332.3h0M652.7 255.3h0M680.3 332.1h0M654.1 255.4h0M834.4 332.1h0M713 255.5h0M867.3 331.9h0M797 255.8h0M796.8 255.9h0M674.8 255.7h0M643.3 255.7h0M658.4 331.7h0M779 256.1h0M700.4 255.9h0M421.8 255.1h0M667.3 255.9h0M801.4 331.8h0M686.3 256h0M638.8 256h0M996.9 330.2h0M573.2 331.1h0M798.5 256.4h0M679.8 331.3h0M778 331.5h0M726.9 256.3h0M663.3 256.3h0M429.4 330.4h0M657.1 331.1h0M766.2 256.6h0M659.3 256.5h0M729 331.1h0M621.8 256.4h0M151.9 251.7h0M744.3 331h0M818.8 331h0M664.5 256.7h0M755.9 331h0M602.2 256.6h0M700.4 330.8h0M725.8 330.9h0M693.4 256.8h0M1065.8 255.5h0M665.8 330.7h0M608.7 256.7h0M611.5 256.7h0M740.8 257h0M315.8 254.7h0M690.2 330.6h0M590.3 256.8h0M702.4 257h0M839.9 257h0M216.7 253.3h0M323.1 328.3h0M417.3 329.5h0M699.9 330.4h0M1433.4 252h0M823.1 330.5h0M323.8 328.2h0M845.9 257.2h0M550.8 257h0M728.3 330.4h0M755.1 330.4h0M838.7 330.3h0M298.7 254.9h0M679.5 330.1h0M459.6 256.9h0M807.8 330.3h0M756.3 257.5h0M735.2 330.2h0M556.6 257.2h0M849.2 257.4h0M680.7 330h0M706.5 330.1h0M882.1 329.8h0M731.7 257.6h0M557.2 329.7h0M770.3 330.2h0M334.5 255.6h0M690.5 330h0M813.7 330.1h0M694.1 329.9h0M609 257.5h0M814.9 330.1h0M787.8 257.9h0M637.7 329.7h0M635.8 257.6h0M852 329.8h0M848.6 329.8h0M577.8 329.6h0M1383 253.5h0M797.9 330h0M206.3 253.9h0M742.8 257.9h0M346 256h0M651.6 257.8h0M243 254.6h0M766.7 329.8h0M504.3 329.3h0M686 257.9h0M759.3 258.1h0M569.2 329.4h0M884.3 257.8h0M674.2 329.5h0M729.3 329.6h0M873.3 329.4h0M652.2 258h0M717 258.2h0M681.1 258.2h0M716.3 329.4h0M785.3 329.5h0M718.1 329.4h0M668.9 258.2h0M677.9 258.3h0M648.2 329.1h0M747.5 258.5h0M692.9 258.4h0M629.6 258.3h0M838.8 329.1h0M814.2 258.6h0M691.8 329h0M692.6 258.6h0M267 326.1h0M1345.2 255.2h0M854.5 258.6h0M698.5 328.9h0M694.4 258.7h0M725.4 328.9h0M839.6 328.8h0M657.2 328.7h0M820.4 328.9h0M650.5 258.7h0M688.8 258.9h0M548.7 258.6h0M787.1 328.9h0M730.7 328.8h0M711.3 328.7h0M775.3 259.1h0M731.6 259h0M850.5 328.5h0M782 328.7h0M642.7 259h0M677.2 259.1h0M615.6 328.3h0M717.6 328.5h0M890.9 258.9h0M686.5 259.2h0M336.4 326.4h0M713.4 328.3h0M795.2 328.5h0M771.3 259.5h0M463.1 258.9h0M1401.7 323.5h0M767.9 328.3h0M712.1 259.4h0M173.4 323.6h0M673.1 328.1h0M601.5 327.8h0M842.7 328h0M271.6 256.8h0M241 324.6h0M303.4 325.6h0M805.1 328.1h0M809.7 328.1h0M840.1 259.7h0M649 259.6h0M796.6 328.1h0M871.8 259.6h0M1265.4 325.8h0M811 328h0M699.7 259.8h0M834.2 259.8h0M719.1 259.8h0M265.9 324.8h0M253.6 256.7h0M434.1 259.2h0M686.7 259.9h0M1161.7 258.5h0M643 259.8h0M473.7 327.2h0M782.6 260.2h0M397.2 326.4h0M778.8 260.2h0M553.3 259.8h0M676.1 260h0M677.7 327.4h0M963.2 259.2h0M649.1 260.1h0M686.2 327.4h0M737.1 260.3h0M692.2 327.3h0M634.2 327.1h0M310.4 258.1h0M477.7 260h0M719.4 260.5h0M289.4 324.6h0M661.4 260.4h0M587.1 326.9h0M813 260.6h0M838 327.1h0M1200.5 325.5h0M628.2 260.5h0M645.7 260.5h0M653.3 326.9h0M655.3 326.9h0M663.6 260.6h0M668.2 326.9h0M821.6 260.8h0M843.4 260.7h0M621.3 326.7h0M1043.5 325.5h0M813.6 327h0M634.9 260.6h0M828.2 260.8h0M556.2 260.5h0M767.6 261h0M833.9 326.7h0M735.6 261h0M241.8 323.3h0M758.4 261.1h0M767.5 261.1h0M556 326.3h0M828 261.1h0M606.9 260.8h0M646.8 326.5h0M773 261.2h0M721.5 261.1h0M302.4 258.7h0M726.8 326.6h0M782.9 326.7h0M682.4 326.5h0M792.7 326.7h0M723.1 261.2h0M720.4 326.5h0M790.4 326.6h0M633.3 326.3h0M624 261h0M713.2 326.5h0M844.7 261.1h0M705.9 326.4h0M633.7 326.3h0M654.3 261.1h0M280.8 258.5h0M444.3 325.8h0M774.7 261.4h0M860.5 261.1h0M771.2 326.5h0M838.8 261.3h0M861.3 261.2h0M356.9 259.6h0M578.8 261.1h0M619.4 326.1h0M633.9 261.2h0M703.2 326.2h0M669.1 326.2h0M745 261.5h0M671.9 261.3h0M858.6 326.1h0M1356.7 257.7h0M1101.1 260h0M807.9 261.6h0M412.8 260.4h0M655 261.3h0M716.7 326.1h0M851.9 326h0M636.3 326h0M741.5 326.2h0M774.4 261.7h0M801.5 261.7h0M771.8 326.2h0M569.8 261.3h0M625.6 261.4h0M784 261.7h0M774.1 326.2h0M389.3 260.3h0M417.8 260.7h0M681.1 261.6h0M482.2 325.6h0M822.3 326.1h0M789.4 261.8h0M463.9 325.5h0M370 324.4h0M734.3 326h0M655.1 261.6h0M518.8 325.5h0M740.8 325.9h0M529.9 261.4h0M567.6 325.6h0M1375.8 321.6h0M847 325.8h0M823.9 261.9h0M791.3 262h0M810.8 325.9h0M427 261.1h0M505.9 325.4h0M398.5 324.6h0M718.9 261.9h0M615.1 261.7h0M661.3 261.8h0M479.7 261.5h0M810.4 325.8h0M756.1 325.8h0M1222.5 260.3h0M721.7 325.7h0M315.9 323.4h0M367.1 260.4h0M420.3 324.7h0M670.8 262h0M633.5 325.4h0M797 262.3h0M811.5 262.2h0M767.3 262.3h0M536.4 325.1h0M793.7 325.6h0M853.7 262.1h0M823.3 325.5h0M638.5 325.3h0M646.1 325.3h0M1039.6 260.9h0M689.8 325.4h0M737.5 262.3h0M598.7 262h0M728.6 262.3h0M695.4 325.3h0M821.8 262.4h0M396.4 261.1h0M245.4 259.1h0M368.1 323.7h0M561.7 324.9h0M1015.4 323.9h0M286.5 322.6h0M191.4 320.9h0M616.7 325h0M493.2 262h0M718.8 262.5h0M656.9 262.4h0M868 262.3h0M707 325.1h0M385.7 323.7h0M814.5 262.7h0M652.8 325h0M654.4 262.5h0M889.5 262.3h0M802.4 325.1h0M739.2 325h0M752.4 262.8h0M320.6 322.7h0M731.1 262.8h0M741.9 262.8h0M768.4 262.8h0M586.6 262.5h0M784.8 262.9h0M639.3 324.7h0M756.5 324.9h0M312.3 260.5h0M757.1 262.9h0M670.9 262.8h0M768.6 324.9h0M792.3 263.1h0M630 324.6h0M640.4 324.6h0M948.5 323.9h0M180.4 258.5h0M316.9 322.4h0M264.9 321.7h0M498.3 262.6h0M542.3 324.3h0M378.3 261.6h0M588.1 324.4h0M445.5 324h0M631.3 324.4h0M400.7 323.4h0M445.6 262.5h0M822.8 324.6h0M546.3 262.8h0M1085.2 323.1h0M774.9 263.3h0M631 263h0M1004.4 261.8h0M879.9 324.3h0M406.3 323.4h0M552 262.9h0M777.7 324.6h0M832 324.5h0M303.9 322h0M818.6 324.5h0M828 324.5h0M303.3 322h0M694.8 263.2h0M308.7 322.1h0M643 324.2h0M850.2 263.2h0M622.6 324.2h0M487 323.9h0M638.4 263.1h0M633.5 324.2h0M1011.7 323h0M646 324.2h0M831.9 263.4h0M341.3 322.4h0M619.2 263.2h0M458.7 262.9h0M402.7 262.3h0M1168 261.9h0M757.6 263.6h0M685.9 263.4h0M599.4 263.3h0M264.6 321.2h0M338.9 261.5h0M518.1 323.7h0M562.4 263.2h0M843.6 263.5h0M725.8 324.1h0M800 263.8h0M1286.1 261.4h0M658.1 263.5h0M1446.6 258.2h0M819.2 263.7h0M756.6 324.1h0M876.3 323.8h0M393.5 322.7h0M584.9 263.5h0M1416.1 319h0M664.7 263.7h0M1148.4 262.3h0M727.3 323.9h0M733 323.9h0M498.1 323.4h0M436.1 323.1h0M371.3 262.3h0M627.4 263.7h0M567.2 263.6h0M454.6 323.3h0M272.1 261.1h0M665.4 263.8h0M642.2 263.8h0M232.8 260.4h0M704.1 323.7h0M241 260.6h0M702.3 263.9h0M566.1 263.7h0M751.8 323.8h0M577.1 263.7h0M331.3 321.6h0M812.6 264.1h0M793.4 323.8h0M581.1 323.4h0M518.1 263.7h0M926.9 263.5h0M900.9 263.7h0M843.8 264h0M837.7 323.6h0M305 261.7h0M848.8 264h0M759.6 323.6h0M789.8 264.3h0M692.6 264.1h0M274.3 320.7h0M608 323.3h0M333.3 321.4h0M578.3 263.9h0M486.4 263.8h0M714.3 323.4h0M1108.5 262.8h0M751.7 264.3h0M623.3 264.1h0M430.3 322.6h0M749 323.5h0M239.8 320h0M345.4 262.4h0M576.1 323.1h0M747.5 323.4h0M1002.6 263h0M1024.2 263h0M360.7 262.7h0M878.1 323.1h0M707.6 264.4h0M298.9 261.9h0M701.7 264.4h0M543.6 264.1h0M735.5 264.5h0M749 264.5h0M448.9 322.7h0M768.5 323.3h0M626.8 323h0M364.8 262.8h0M625.5 323h0M563.8 264.2h0M763.5 264.6h0M319.3 262.3h0M698.5 323.1h0M473.7 264.1h0M486.6 322.6h0M523.2 322.7h0M847.5 323h0M283.9 262h0M253.1 261.5h0M760.7 264.7h0M1153.8 321.5h0M700.6 264.6h0M336 321h0M837 264.7h0M627.3 322.8h0M813.2 323.1h0M690.8 264.7h0M337.3 321h0M666.8 264.6h0M341.1 321h0M444.8 264.1h0M354.4 263h0M844.1 322.9h0M781.3 323h0M315.5 320.6h0M1356.8 319.1h0M576.5 322.6h0M586.9 264.6h0M833.7 264.8h0M800.5 265h0M1316.6 320.1h0M1020.3 263.5h0M646.8 322.7h0M857 322.7h0M730.5 264.9h0M275.7 320h0M582 322.5h0M363.7 321.1h0M509.8 322.3h0M900 264.6h0M356.3 263.2h0M238.4 261.6h0M485.2 264.5h0M872.9 264.8h0M559 264.7h0M376.4 263.5h0M741.6 322.7h0M854 322.6h0M1403.8 260.3h0M684.1 265h0M458.2 322.1h0M612 322.4h0M649.1 322.5h0M696.1 265h0M886.3 264.8h0M616.1 264.9h0M350 320.8h0M557.5 322.3h0M545.2 322.2h0M484.3 264.6h0M859.7 265h0M712.5 265.1h0M568 264.9h0M302.5 262.7h0M477.7 264.7h0M528.1 322.1h0M449.3 322h0M558.1 264.9h0M473.5 322h0M263.2 262.2h0M808.2 265.4h0M315 320.2h0M867.2 265.1h0M335.4 263.2h0M293.6 319.8h0M571.3 322.1h0M529.4 322h0M461.3 264.8h0M561.9 322.1h0M1175.1 320.9h0M1396.7 317.7h0M880.7 322.1h0M561.9 322h0M761.1 322.4h0M230.8 261.8h0M803 322.5h0M353.7 320.5h0M603.4 265.2h0M1333.8 262.3h0M609.5 265.3h0M1074.3 264.1h0M659.9 265.4h0M295.6 319.7h0M247.3 262.2h0M683.2 265.4h0M1335.6 262.3h0M715.3 322.2h0M583.8 265.2h0M779.2 265.6h0M420.6 264.6h0M744.7 322.2h0M715.9 322.1h0M193.8 317.9h0M391.3 320.8h0M345.7 320.2h0M856.4 322h0M877.2 321.9h0M795.2 322.2h0M691.5 265.5h0M821.7 322.1h0M1240.4 263.8h0M295.8 319.5h0M772.8 265.8h0M603.7 321.8h0M774.9 265.8h0M326.8 319.9h0M484.4 321.5h0M426.2 321.1h0M601.2 265.5h0M1270.9 263.6h0M660.2 265.6h0M473.1 265.3h0M701.1 321.9h0M761 322h0M366.5 320.3h0M514.5 321.5h0M396 320.7h0M1296.3 319.6h0M506.3 265.4h0M582.1 321.6h0M728.5 321.9h0M587.8 265.6h0M335.1 319.8h0M855.4 321.7h0M707.9 321.8h0M1262.3 263.8h0M729.5 321.8h0M828.8 321.8h0M743.6 321.9h0M507.9 265.5h0M321.7 319.6h0M1434 260.6h0M265.2 318.8h0M376.4 320.3h0M445.1 321.2h0M1045 264.5h0M708.3 321.7h0M158.1 316.9h0M311.1 319.4h0M404.8 264.8h0M862.1 265.8h0M864.9 265.8h0M529 265.6h0M786.5 266.1h0M357 319.9h0M342.1 264.1h0M711 321.6h0M652.7 265.9h0M767.4 266.2h0M539.3 321.2h0M659.4 266h0M613.2 265.9h0M1371.3 317.4h0M613 265.9h0M468.6 321h0M301.1 319.1h0M165.1 316.8h0M370.9 319.9h0M823.8 321.6h0M490.3 265.7h0M590.9 321.2h0M403.3 320.3h0M628.8 321.3h0M803.7 266.4h0M614.9 321.2h0M345.6 264.4h0M1071 320h0M640.6 321.2h0M195.7 317.2h0M787.7 266.4h0M639.5 321.2h0M341.9 264.4h0M441.6 265.7h0M610.6 266.1h0M562.9 321h0M1267.6 264.3h0M768.1 321.4h0M491.2 320.8h0M256.1 263.3h0M747.4 266.5h0M922 265.9h0M1256.8 264.5h0M731.1 266.5h0M1135.6 319.7h0M719.3 321.2h0M484.4 266.1h0M537.2 266.2h0M364.6 264.9h0M488.8 266.1h0M364.8 264.9h0M611.6 320.9h0M863.5 320.9h0M343.9 264.7h0M254 263.5h0M348.5 319.2h0M379.4 319.6h0M598.3 320.8h0M743.4 266.7h0M627.9 266.5h0M524.6 266.3h0M715.7 266.6h0M595.2 320.8h0M852.3 320.9h0M594.2 320.7h0M605.4 320.8h0M294 264.1h0M538.1 320.6h0M378.3 265.2h0M795.8 321.1h0M547.9 266.4h0M587 266.5h0M861.1 320.8h0M341.3 264.8h0M591.9 266.5h0M825 321h0M691.7 266.7h0M653.5 266.6h0M237.2 263.3h0M250.9 263.6h0M820.1 266.8h0M819.5 266.9h0M1263.8 264.8h0M580.8 266.5h0M812.7 266.9h0M547.1 266.5h0M747 266.9h0M579.1 266.5h0M538.5 320.5h0M1280.9 318.6h0M499 320.4h0M267.8 263.9h0M877.7 266.6h0M855.8 320.7h0M473.4 320.3h0M1385.6 316.4h0M1136.7 265.4h0M423.9 319.9h0M521.4 320.4h0M729.9 320.7h0M552.5 266.6h0M1178.4 319.2h0M719.5 267h0M282.7 264.3h0M591.2 266.7h0M563.7 320.4h0M612.5 320.5h0M406.6 265.9h0M339.8 265h0M254.9 317.5h0M869.9 266.9h0M435.3 319.9h0M1441.6 261.7h0M554.2 320.2h0M485.8 320.1h0M243.7 317.2h0M799.7 320.7h0M326.1 265h0M598.8 320.3h0M730 320.5h0M817.5 267.2h0M1150.1 319h0M862.6 320.3h0M553.9 320.2h0M848.6 267.1h0M256.8 317.4h0M1248.3 265.3h0M1076.4 319h0M277.3 317.7h0M514.5 266.8h0M837.7 320.4h0M355.4 265.5h0M421.4 319.5h0M719.8 320.4h0M852.7 320.3h0M281.6 264.6h0M814 267.4h0M306.8 318h0M691.3 267.2h0M512.9 266.9h0M741.8 267.3h0M628.9 267.1h0M580 267h0M333 265.3h0M491.4 266.9h0M279.8 317.6h0M375.4 318.8h0M316.2 318h0M411 319.2h0M784.1 267.5h0M350.9 318.5h0M431.4 319.5h0M736.3 267.4h0M504.4 319.8h0M551.3 267.1h0M380.7 318.8h0M459.7 266.9h0M253 317.1h0M812.7 320.4h0M397 319h0M1219.1 265.7h0M204.2 316.2h0M1403.8 315.5h0M1386.8 315.7h0M256.1 264.4h0M501 267.1h0M816.5 320.3h0M571 267.2h0M1333.6 264.4h0M729.7 267.6h0M235.5 316.6h0M605.6 267.3h0M1238.5 265.7h0M808.6 320.2h0M167.7 262.9h0M381.8 318.7h0M393.9 318.8h0M604.6 319.8h0M451.2 267.1h0M768.3 320.1h0M1395.3 263h0M722.1 267.7h0M852 267.6h0M1388.3 315.5h0M738.5 267.7h0M436 267h0M468.1 319.5h0M808.1 320.1h0M495.2 319.5h0M497.3 267.3h0M902.5 267.4h0M481.6 319.4h0M508.7 267.4h0M335.9 265.8h0M375.2 318.4h0M723.4 267.8h0M897.4 267.5h0M1207.5 318.2h0M1027.7 266.5h0M627.9 319.6h0M506.6 267.4h0M1069.1 318.4h0M810.2 319.9h0M637.9 319.6h0M683.8 267.8h0M270.9 316.9h0M511 267.5h0M851.7 267.8h0M1213.2 318.1h0M259.8 316.7h0M287.9 317.1h0M873.3 267.7h0M458.3 267.4h0M562.5 319.4h0M290.9 265.4h0M531.7 267.6h0M1057.5 318.3h0M553.1 267.6h0M477.7 267.5h0M237.8 316.2h0M941.2 267.2h0M861.1 267.8h0M155.9 263.1h0M271.3 316.8h0M809.2 319.7h0M444.9 267.4h0M781.7 268.2h0M327.8 266h0M809.9 319.7h0M1287.9 265.9h0M656.9 268h0M391.2 318.3h0M685.2 268.1h0M500.6 267.7h0M929.5 267.5h0M842.1 319.5h0M324 266h0M861.3 268h0M809.5 319.6h0M1429.8 263h0M320.6 266h0M762.5 319.5h0M998 318.1h0M502.7 267.9h0M506.2 318.9h0M261.2 316.3h0M916.1 267.8h0M689.9 268.3h0M854.8 268.3h0M857.9 319.2h0M197.2 315.1h0M244.8 265.1h0M605.8 319h0M185.8 264.1h0M622.9 268.3h0M930.7 318.6h0M439.3 318.5h0M569.7 318.9h0M991.4 267.3h0M297.6 316.6h0M548.3 318.8h0M385.8 267.2h0M1364.1 264.6h0M990 317.9h0M332 317h0M390.8 267.3h0M263.1 265.6h0M389 317.8h0M450.8 318.5h0M278.9 316.3h0M332.5 317h0M960.4 267.7h0M911.2 268.2h0M1422.7 313.9h0M301.4 316.5h0M1342.2 315.6h0M584.1 318.7h0M917.5 318.5h0M291.5 316.4h0M1249.3 317h0M628.9 318.8h0M1164 267.3h0M441.3 318.3h0M1128.4 267.3h0M291.8 266.2h0M410.2 267.7h0M1143.1 267.3h0M300.6 266.3h0M355.8 267h0M501.8 318.4h0M1172.9 317.3h0M807.7 319h0M581.4 268.6h0M426.8 268h0M871.2 318.6h0M417.4 267.9h0M910.3 318.4h0M723.7 318.8h0M729.7 318.8h0M915.8 318.3h0M483.9 268.4h0M500.7 268.4h0M279.9 266.1h0M195.9 314.6h0M450 268.4h0M1325.1 315.8h0M632.4 318.6h0M461.2 318.2h0M404.3 267.8h0M1419.1 263.9h0M238.2 315.3h0M417.1 268h0M863.1 318.6h0M303.2 266.5h0M467.9 318.2h0M207.7 265h0M804.9 318.8h0M1360.2 265.1h0M986 317.5h0M322.3 266.8h0M434.9 268.3h0M463.1 318.2h0M857 268.9h0M414.5 268h0M607.3 318.4h0M531.2 268.7h0M875.1 318.4h0M519.2 318.2h0M474.3 268.6h0M947.7 317.8h0M993.1 267.8h0M394.6 317.3h0M414.9 317.6h0M686.9 269h0M565.4 268.8h0M989.9 267.9h0M215.1 265.3h0M805.5 318.7h0M435.6 268.4h0M806 269.3h0M1326.4 315.5h0M456.2 268.6h0M500.3 268.7h0M449.4 317.9h0M285.8 315.8h0M292.1 266.6h0M411.4 268.2h0M578.9 268.9h0M452.5 317.9h0M433.3 268.5h0M1425.6 264.1h0M634.7 318.3h0M600.2 269h0M303.8 266.8h0M578.6 269h0M415.5 317.4h0M768 318.5h0M1373.1 314.2h0M870.1 318.2h0M1304.1 266.9h0M211.7 314.5h0M1371.2 265.2h0M1101.5 316.9h0M924.3 268.8h0M1408.2 313.5h0M459.6 268.9h0M460.6 317.8h0M522.6 317.9h0M187.7 313.9h0M1113.2 316.8h0M463.8 268.9h0M420.8 268.5h0M729.3 318.3h0M522.3 317.8h0M1085 268h0M926.3 317.6h0M246.8 314.9h0M1273.1 316.1h0M376.6 268h0M851 318.1h0M593.2 269.3h0M300.3 267.1h0M128.2 264.2h0M215.7 265.7h0M271.3 266.7h0M727.8 318.2h0M594.8 269.3h0M332.7 316.1h0M529.4 317.8h0M381.8 268.1h0M363.7 316.5h0M572.7 269.3h0M158.3 313.3h0M577.2 317.8h0M266.6 315.2h0M440.4 268.9h0M623.3 269.4h0M251.5 314.9h0M330.5 316h0M315.9 267.3h0M246.9 314.8h0M196.5 313.9h0M526.3 269.2h0M1035.2 268.3h0M169.6 313.4h0M247.5 314.8h0M512.7 317.6h0M883.3 317.8h0M339.3 316h0M326.2 315.9h0M364.9 268h0M277 266.9h0M392.8 268.4h0M468.4 269.2h0M811.5 269.8h0M246.8 314.7h0M456.2 269.2h0M876.5 317.7h0M474.1 269.2h0M258.7 314.9h0M1093.5 316.5h0M452.5 317.4h0M400.8 268.6h0M475.1 317.4h0M1123.4 316.4h0M464.3 317.4h0M877.7 317.7h0M400.1 316.7h0M1069.5 316.5h0M1231.2 268h0M1391.9 313.3h0M1188.7 316.4h0M409.8 316.8h0M1375.1 265.6h0M1213.6 268.2h0M248.7 266.6h0M897.5 317.5h0M508.7 317.4h0M541.8 269.5h0M517.9 269.5h0M552.6 269.5h0M350.7 268h0M333 315.8h0M1371.7 313.7h0M488.7 317.3h0M318.9 267.6h0M357.9 316.1h0M873.2 317.6h0M551.8 317.4h0M581 269.6h0M810.3 270h0M729.1 269.9h0M388.7 316.4h0M563.5 317.4h0M189.1 313.4h0M293.1 267.4h0M891.3 317.4h0M1144.5 316.2h0M809.4 270.1h0M492.4 269.5h0M185.4 265.6h0M1118.4 268.5h0M325.4 315.5h0M851 317.6h0M426.4 316.8h0M850.8 317.6h0M910.1 269.6h0M593.7 317.4h0M417.7 316.7h0M891.1 269.7h0M598.4 269.8h0M453 269.5h0M305.5 267.7h0M524.9 317.2h0M766.5 317.7h0M1396.7 313h0M538.9 317.2h0M156.1 265.2h0M1421.5 312.5h0M233.5 314.1h0M480 317.1h0M1405.1 312.8h0M383.6 316.2h0M1382.7 265.7h0M506.1 269.7h0M580.2 317.3h0M1265.5 315.5h0M1071 268.7h0M258.8 314.4h0M480.7 269.7h0M187.8 265.8h0M421.4 269.3h0M268.2 314.6h0M886.8 317.2h0M883.5 269.9h0M727 270.2h0M208.8 313.5h0M901.8 317.1h0M287.3 267.6h0M937.4 316.7h0M585.6 317.1h0M375.3 268.8h0M1005 268.9h0M537.2 269.9h0M597.6 317.1h0M970.5 316.3h0M240.8 266.9h0M1000.5 269h0M563.4 270h0M306.5 314.9h0M337.7 315.3h0M1124.2 315.9h0M1211.8 268.7h0M312.6 315h0M959.3 316.4h0M173.5 312.7h0M881.5 317h0M334.9 268.4h0M432 316.5h0M944.4 269.6h0M1074.2 315.8h0M885 317h0M988.1 269.2h0M447.4 269.9h0M157.8 312.4h0M422.5 269.6h0M554.2 316.9h0M627.4 270.3h0M505.2 270h0M522.9 270.1h0M473.5 316.7h0M324.7 315h0M311.4 314.9h0M867.4 317h0M329.2 315.1h0M468.3 270h0M460.5 316.6h0M341.4 315.2h0M1139.4 315.7h0M850.7 317.1h0M1356.3 266.8h0M178.3 312.6h0M1173.8 269.1h0M285 314.4h0M1004.5 269.3h0M1304.3 268.2h0M226.1 313.4h0M368.9 269h0M532.1 316.7h0M980.6 269.5h0M558.6 316.7h0M893.7 316.7h0M613.3 316.8h0M852.2 316.9h0M1444.5 265.2h0M1342.5 313.6h0M427.3 316.2h0M350.4 268.9h0M879.6 270.4h0M1121.3 269.3h0M441.9 316.3h0M607.2 316.7h0M258.7 267.7h0M1070.6 269.3h0M181 312.5h0M171 266.1h0M1415.6 311.9h0M880.2 316.7h0M574.9 270.5h0M978.5 315.8h0M248.8 267.6h0M495.5 316.4h0M129.3 311.5h0M459 316.3h0M520.6 270.4h0M1066.3 269.4h0M1003.7 269.5h0M298.3 268.3h0M200.9 266.7h0M497 270.4h0M438.9 316.1h0M400 315.6h0M393.5 315.6h0M278.8 314.1h0M396 269.7h0M1182.7 269.4h0M957 270h0M1025.7 269.5h0M234.9 267.4h0M1440 311.4h0M228.4 313.2h0M862.3 316.6h0M197.1 266.8h0M286.5 268.3h0M537.5 270.6h0M1189.1 269.5h0M516.2 316.3h0M344.5 269.1h0M1158.7 315.2h0M1081.2 269.6h0M397.2 269.8h0M254.7 267.9h0M1433.3 265.8h0M993.8 315.4h0M591.1 270.8h0M1419.3 266h0M129.9 311.3h0M1394.3 312h0M282 313.9h0M558.4 316.3h0M428.9 270.3h0M281.6 313.9h0M937.7 315.9h0M233.3 313.1h0M601.6 316.3h0M308.9 268.8h0M967.7 270.1h0M1000.4 315.2h0M216.6 312.7h0M245.2 313.2h0M131.9 311.2h0M586 270.9h0M541.5 270.8h0M446.9 315.9h0M1266.9 314.4h0M1146.4 315h0M1063.5 269.8h0M297.8 314h0M531.5 316.1h0M430.8 270.4h0M1411.6 311.6h0M567.9 316.1h0M1094 315h0M1315.7 268.5h0M499.8 270.8h0M404.2 315.3h0M456.6 315.9h0M321.9 314.2h0M1232 314.6h0M613.1 316.2h0M904.4 270.9h0M1057.5 270h0M434 315.6h0M301.3 313.9h0M1352.9 267.7h0M310.2 269.1h0M1203.9 314.7h0M1092.1 314.8h0M1020.2 270.1h0M160.6 311.4h0M1412.6 266.5h0M303.7 313.8h0M336.6 314.2h0M292.7 268.9h0M294.2 313.7h0M177.7 267h0M1444 310.8h0M167.4 266.8h0M204.3 312.2h0M1081.9 314.7h0M359.8 314.4h0M1404.3 266.8h0M587.1 271.3h0M1353.6 267.9h0M239.4 268.2h0M1376.2 311.9h0M434.5 315.4h0M534.2 271.2h0M1281.6 313.9h0M1365.7 312.1h0M311.2 269.3h0M198.3 267.5h0M1159.9 270.1h0M260.6 268.6h0M586.7 315.8h0M972 270.6h0M172.6 267h0M563.1 271.3h0M1316.2 268.9h0M885.1 271.4h0M1383.6 311.6h0M562.3 271.4h0M344 269.8h0M315.6 269.4h0M1028.3 314.6h0M539.5 271.3h0M265.3 313h0M1011.8 314.6h0M1402 267h0M1267.2 313.9h0M925.8 271.1h0M341.5 269.8h0M1007.1 314.6h0M168.9 267.1h0M1246.5 269.9h0M950.7 270.9h0M928.7 271.2h0M555.5 271.5h0M250.9 268.6h0M890.5 271.5h0M173.1 267.2h0M1441.5 266.4h0M428.1 315.1h0M586.1 271.5h0M1289.5 269.6h0M1403.9 267.1h0M490.4 271.4h0M583.5 271.6h0M1318.3 269.1h0M132.9 310.5h0M376.3 270.4h0M265.4 312.8h0M1098.9 270.5h0M941 315h0M928.3 315.1h0M337.2 270h0M1066.6 314.3h0M190.6 267.7h0M318.7 269.7h0M1340.8 268.6h0M499.8 271.5h0M1162.6 314.2h0M612.7 315.5h0M1437.1 310.4h0M434.3 314.9h0M281.1 269.3h0M232.7 312.1h0M208.6 311.7h0M271.8 269.2h0M127.2 266.6h0M1166.8 270.6h0M192.8 311.4h0M886.1 271.8h0M1172.2 270.6h0M1364.1 311.6h0M1390.3 311.1h0M590.2 315.3h0M854.2 315.4h0M543 271.8h0M1402.5 310.8h0M1336.3 312.3h0M467.8 315h0M1009.6 270.8h0M1264.4 270.1h0M556.1 271.9h0M1144.7 270.7h0M897.6 271.9h0M1131.8 270.7h0M911.5 315h0M1252.4 270.2h0M1428.5 267h0M989.5 271h0M558.3 271.9h0M274.6 269.4h0M1169.3 313.9h0M1282 270h0M1171.3 313.9h0M914.6 314.9h0M344.3 313.5h0M296.6 269.8h0M1268.7 313.3h0M347.6 313.5h0M1388 310.9h0M208.1 268.4h0M1239.6 270.5h0M149 267.3h0M919.5 271.8h0M1279.8 270.2h0M350.8 313.5h0M1352.6 268.7h0M209.5 311.3h0M322.2 270.2h0M922.1 271.9h0M1033.8 313.9h0M1293 313h0M168.2 267.8h0M1201.7 270.9h0M1128.5 271h0M315.8 312.9h0M164.1 267.8h0M1038.2 313.8h0M1020.8 271.1h0M259.8 312.1h0M144.9 310.1h0M233 269h0M1310.6 312.5h0M1416.3 267.6h0M135.6 267.3h0M1313.3 269.9h0M950.4 314.3h0M311.5 270.3h0M469 314.6h0M255.6 312h0M1234 313.3h0M181.6 268.2h0M349.9 270.8h0M1058.6 271.2h0M1116.4 271.2h0M1105.5 313.6h0M1124.3 271.2h0M484.5 272.2h0M291.2 312.4h0M897.1 272.3h0M1156.4 271.2h0M472.1 272.2h0M556.9 272.4h0M1251.6 270.7h0M1038.6 313.6h0M226 269.1h0M1425.1 267.6h0M1352.9 311.3h0M1249.8 313h0M153.4 310h0M1313.3 270.1h0M903.5 272.4h0M238.1 269.3h0M912 314.5h0M1224.2 271h0M1364.5 268.8h0M1430.8 309.7h0M992.2 271.5h0M1447.6 267.3h0M537.1 314.5h0M929.8 314.3h0M1201.2 313.3h0M392.8 313.6h0M1367.5 268.8h0M215.5 311h0M183.9 268.4h0M1184.2 313.3h0M427.6 314h0M607.8 314.6h0M903.7 314.5h0M1337.1 269.6h0M370.2 271.3h0M1341.5 269.5h0M1238 312.9h0M1008.7 271.6h0M988.5 313.5h0M138 267.7h0M1422.3 309.7h0M237.2 311.3h0M478.4 314.2h0M1234.5 271.2h0M1304.4 270.5h0M1360.4 269.1h0M1042.9 271.6h0M551.1 272.7h0M943.5 313.9h0M988.4 313.4h0M1374.3 268.8h0M286.8 312h0M939.8 313.9h0M1409.4 268.2h0M283.8 270.4h0M1017.6 271.7h0M370.6 271.5h0M346.8 271.2h0M1446.7 309.1h0M1049.9 271.7h0M1320.8 311.7h0M330.7 271h0M497.4 314.1h0M1351.7 311h0M936.6 272.4h0M1400.9 268.4h0M905.4 314.2h0M161.7 309.8h0M1238.5 312.7h0M1424.8 309.4h0M405.3 313.4h0M500.7 272.7h0M1436 309.2h0M376.4 271.7h0M1142.2 271.7h0M222.3 269.5h0M1258.5 312.5h0M399.5 313.3h0M607.5 314.2h0M370.6 271.6h0M443 313.8h0M1194.4 312.9h0M1337.9 270h0M1169.7 312.9h0M211.9 269.3h0M1259.9 312.4h0M939.9 272.5h0M265.6 311.5h0M1411.1 268.4h0M410.6 313.4h0M318.1 271h0M1151.4 271.8h0M122.9 308.9h0M497.7 313.9h0M1255.4 312.4h0M243.5 311h0M1230 312.6h0M1370.8 269.3h0M905.4 273h0M1162 271.9h0M487.5 272.9h0M237.8 310.8h0M910.4 313.8h0M1354.7 310.6h0M1218.4 271.7h0M909.1 273h0M1216.6 271.8h0M1342.9 310.8h0M1158.1 312.7h0M158.3 268.6h0M1222.2 271.7h0M1432.8 268.2h0M1053.2 272.1h0M1448.5 268h0M1285.5 312h0M1061.9 272.1h0M191.5 309.9h0M950.5 272.7h0M1068.4 312.8h0M535.5 313.8h0M1437.6 268.2h0M180.1 309.7h0M143 309h0M179.5 309.6h0M1311.8 270.9h0M131.4 268.3h0M1104.2 272.1h0M1056.3 312.7h0M1273.7 271.5h0M1370.2 310h0M1435.7 308.7h0M1349.2 310.5h0M907.1 273.2h0M239.8 310.6h0M1332.1 310.9h0M162.3 268.9h0M1119.4 312.5h0M1213.5 272h0M398.3 312.8h0M1029.5 272.3h0M1089.5 272.3h0M1238.6 271.9h0M376.1 272.2h0M928.9 273.1h0M1247.6 271.8h0M473.6 313.4h0M614.1 313.7h0M992.4 312.6h0M217.6 270h0M500.9 313.4h0M151.2 308.9h0M169.8 269.2h0M217.8 270h0M429.1 313h0M240.4 310.4h0M1259.5 271.8h0M125.2 268.4h0M375.3 272.4h0M949.7 273h0M1352.7 270.2h0M549.1 273.5h0M1295.6 311.5h0M1423.1 268.8h0M122.3 308.3h0M330.3 271.8h0M1397.6 269.3h0M151.4 308.8h0M1250.8 272h0M1085.8 272.5h0M1193.7 272.4h0M211.2 309.8h0M1101.9 312.3h0M1319.6 271.2h0M547.3 273.7h0M373.2 272.5h0M1187 272.5h0M265 310.7h0M1042 312.2h0M1197.4 312.1h0M1070.2 272.7h0M315.2 311.3h0M140.4 268.9h0M983.3 312.4h0M1364.9 309.6h0M1063.3 312.2h0M1184.3 312.1h0M1147.2 312.1h0M1298.8 311.3h0M226.7 270.5h0M961.7 312.6h0M1154.3 312h0M396.2 312.3h0M1116.8 272.7h0M133.8 268.9h0M971 312.5h0M500.9 273.7h0M169.1 308.9h0M1260.9 272.1h0M1357.8 270.4h0M1120.4 312h0M1179 312h0M1178.2 272.7h0M1371.6 270.1h0M1421.7 308.4h0M1172.2 272.7h0M153.4 269.3h0M407.1 312.4h0M976.9 273.1h0M1346.8 309.9h0M230 309.9h0M919.4 273.7h0M545.3 273.9h0M1024.5 272.9h0M1320.2 271.4h0M1226.1 311.7h0M971.1 273.2h0M323.4 272.1h0M148.2 269.3h0M1362 309.5h0M1025.9 312h0M190.9 270h0M1301.4 271.9h0M1381.2 269.9h0M935 312.7h0M1261.6 272.3h0M1250.6 272.4h0M149.8 308.3h0M942.8 273.6h0M921.3 312.8h0M305.9 272h0M1357.6 270.6h0M924.4 312.7h0M973.2 273.3h0M150 269.4h0M1036.1 273h0M955.9 312.3h0M1175.3 311.7h0M159.1 308.4h0M1262.6 311.2h0M1189.9 272.9h0M126.3 307.8h0M969.3 312.2h0M1374.2 270.3h0M607.8 313h0M1042.7 311.8h0M1346.6 309.7h0M1420.9 308.1h0M1286.6 272.3h0M1365.8 309.2h0M1398.1 308.5h0M124.4 269.1h0M1370.3 309.1h0M1179.7 273h0M260.2 310.1h0M982.9 312h0M959.4 273.6h0M1078 273.1h0M1316.1 310.4h0M996.6 311.8h0M215.7 270.7h0M1357.7 309.3h0M1379.9 270.3h0M180.3 270.1h0M1336.6 271.4h0M1273.2 272.5h0M1274.6 310.9h0M183.6 308.6h0M967.9 312h0M1048.5 273.2h0M313.1 272.3h0M1122.6 273.2h0M1135.7 273.2h0M1241.5 272.8h0M998.9 311.7h0M933.8 312.3h0M1089.7 311.6h0M309.3 310.6h0M1098.3 273.3h0M1374.1 270.5h0M215 270.9h0M1279.3 310.8h0M1010.3 273.4h0M1113.8 311.5h0M937.3 312.2h0M222 309.2h0M947.9 273.9h0M1279.1 272.6h0M1152.3 273.3h0M949.3 273.9h0M978.3 311.8h0M1054 311.5h0M1382.7 308.5h0M917.7 312.4h0M1205.4 273.2h0M316.9 272.5h0M196 308.7h0M1322.6 310h0M1210.5 273.2h0M1044 273.4h0M504.8 274.4h0M901.6 274.5h0M1136.7 311.4h0M134.6 269.6h0M199.8 308.7h0M614.2 312.6h0M1428.1 307.6h0M1440.9 307.4h0M961.3 311.8h0M968.7 273.9h0M1323.2 272h0M150 307.7h0M904.9 274.6h0M170.8 270.3h0M932.6 274.3h0M982.9 273.8h0M1113.4 311.3h0M328.4 272.9h0M1298.6 272.6h0M260.6 309.7h0M931.1 274.3h0M1405.2 270.2h0M182.7 270.6h0M943.6 311.9h0M1414.9 307.8h0M1342.3 271.6h0M1289.4 310.4h0M1441.8 307.3h0M1175.5 273.5h0M1094.6 273.6h0M1325.3 309.7h0M1447.4 307.1h0M310.4 310.3h0M608.7 312.4h0M1122.9 311.2h0M1375.3 308.4h0M1057.6 311.2h0M989.1 273.8h0M1437.6 269.7h0M1391.4 270.6h0M1066.1 273.7h0M263.1 309.6h0M894.2 274.8h0M327.7 273h0M1150.6 311h0M1243.6 273.3h0M1129.3 311h0M1157.4 311h0M1018.1 273.8h0M1230.2 273.4h0M1129.5 311h0M1109.2 273.8h0M1146.9 310.9h0M227.5 271.6h0M178.5 307.9h0M1237.7 310.6h0M909.4 274.9h0M1166.9 310.9h0M315.7 310.1h0M1396.2 270.7h0M1151.5 310.8h0M1345 271.9h0M1198.4 310.7h0M191.2 308h0M142.3 270.3h0M434.9 311.5h0M169.8 270.8h0M136 307h0M1181 274h0M148.4 307.2h0M1441.9 306.8h0M1222.4 273.8h0M325.8 273.4h0M1115.1 310.7h0M909.4 275.1h0M1013.2 310.8h0M323.1 273.4h0M1136.7 310.7h0M1207.6 310.5h0M1340.2 308.8h0M1043.8 310.7h0M140.5 306.9h0M1130.7 310.6h0M1329.6 272.5h0M1207.6 310.5h0M1160.9 274.1h0M1331.6 272.5h0M207.2 308.1h0M1412 270.7h0M1170.2 274.1h0M230 272h0M1270.2 309.9h0M1180.1 310.5h0M1310.1 273.1h0M1056.9 310.6h0M1247.1 310.1h0M193.8 271.5h0M129 306.6h0M967.7 274.7h0M1064.3 310.6h0M1042.3 274.3h0M1088 310.5h0M1375.2 271.5h0M967.3 310.9h0M1394.1 271.2h0M1003.2 310.6h0M184.9 307.5h0M1029.3 274.4h0M1419.4 306.9h0M1030.7 274.4h0M1370.9 307.8h0M171.5 271.2h0M1116.9 274.3h0M1375.9 271.6h0M433.8 311.1h0M1016.8 274.5h0M1106.6 274.4h0M1443.7 270.4h0M1390.4 271.3h0M187.8 307.5h0M132.1 306.5h0M120.4 306.3h0M1121.9 310.4h0M1208.5 310.2h0M612.2 311.6h0M1125.6 310.3h0M1256 273.9h0M1070.6 274.5h0M1048.1 310.4h0M980.9 310.6h0M1200.6 274.4h0M1433.1 306.5h0M1433.5 306.5h0M1187.9 274.4h0M1328.9 308.7h0M1396 307.1h0M1020 274.6h0M1234 274.2h0M1069.2 310.3h0M1334.3 308.5h0M196.5 271.8h0M1063 310.3h0M144.8 270.9h0M164.6 271.3h0M156.7 306.8h0M1242.9 309.8h0M1376.6 271.8h0M1096.8 310.2h0M1328.6 308.6h0M208.3 272.1h0M946.5 310.8h0M975.6 310.5h0M1053.6 274.7h0M1388.7 307.1h0M123 270.6h0M1208.3 310h0M1017.6 310.2h0M1083.7 274.7h0M1110.6 310.1h0M1101.1 274.7h0M1427.7 306.4h0M1137.6 274.7h0M955 310.7h0M948.6 275.3h0M1315.2 308.8h0M122.2 270.7h0M1024.8 274.8h0M1447.3 306h0M1045.6 310.1h0M1273.2 274.1h0M1251.1 309.5h0M1036.6 274.8h0M216.7 307.7h0M1199.6 274.7h0M1267 274.2h0M178.1 271.7h0M1049.7 310.1h0M205.6 307.4h0M1294.1 273.9h0M164.4 306.7h0M948.7 275.4h0M1417.6 306.4h0M1240.1 309.5h0M207.3 272.3h0M1018.1 310h0M1199.2 309.9h0M959.2 275.4h0M1252.6 274.3h0M311.5 274h0M956.8 310.5h0M1194.1 274.8h0M988.8 310.1h0M991.2 275.1h0M194.9 272.1h0M195.6 272.2h0M1142 309.8h0M1223 309.6h0M1335.4 308.1h0M188.6 272.1h0M1229.9 274.6h0M1381.8 306.9h0M1311.9 308.6h0M1079 309.8h0M1234.3 274.6h0M1184.4 309.7h0M1062.4 309.8h0M1162.2 274.9h0M1122.8 275h0M958.9 275.5h0M1443.8 271h0M1344.9 273h0M140.1 271.3h0M220.3 307.4h0M1037.4 309.8h0M1120.7 275h0M311.9 274.2h0M323.2 274.3h0M1056.2 275.1h0M1301.6 308.8h0M918 276h0M910 276.1h0M1137.6 309.7h0M1385.9 272.1h0M1347.3 273h0M1317.3 308.3h0M1025.1 275.2h0M1221.2 309.4h0M990.1 275.3h0M983.2 309.9h0M1328.8 273.6h0M974.1 310h0M1195.8 309.5h0M202.4 272.6h0M1390.1 306.5h0M1029.7 309.7h0M996.8 275.3h0M1117.4 275.2h0M1092.6 309.6h0M1119 275.2h0M139.4 305.8h0M896.5 276.4h0M1307.7 274.2h0M1187.3 309.5h0M1007.2 309.6h0M1140.6 275.2h0M1290.3 274.4h0M1252.5 309h0M1371.3 272.6h0M1024.8 275.3h0M1307.2 308.4h0M1120.2 309.5h0M1077.4 309.5h0M1301.4 308.6h0M132.8 271.4h0M196.8 272.6h0M1080.5 275.3h0M1014.2 275.4h0M1144.5 309.4h0M1106.8 309.5h0M1412.7 271.9h0M1279.7 274.6h0M1157.8 309.4h0M936.9 310.2h0M1380.7 306.5h0M1040.9 275.4h0M956.1 275.9h0M1286.3 274.6h0M224.8 307.2h0M169.2 306.2h0M1006.7 275.5h0M902.2 276.5h0M1057.6 309.4h0M1307.2 274.3h0M1416.9 271.9h0M1144.1 275.4h0M1033.8 275.5h0M1149.1 275.4h0M949.8 276.1h0M1326.7 273.9h0M1086.9 309.3h0M1442.3 305.3h0M1309.8 308.1h0M963 309.7h0M1078.2 275.6h0M913.7 276.5h0M1139.8 309.2h0M1076.6 309.2h0M1094.1 309.2h0M1026 309.3h0M908.8 276.7h0M1085.6 309.1h0M1436.6 271.8h0M132.8 271.8h0M1433.5 305.3h0M902.7 276.8h0M1213.4 308.9h0M176.8 272.6h0M1222.1 275.4h0M305.1 274.7h0M1261.9 308.5h0M994.9 275.9h0M936.6 309.8h0M1171.1 275.7h0M1145.5 275.7h0M1266.7 308.4h0M225 306.8h0M1393.3 305.9h0M1009.5 309.1h0M1212.6 308.8h0M1382.7 272.9h0M197.3 273.1h0M188.3 272.9h0M908.8 276.9h0M1183.1 275.8h0M1083.6 308.9h0M1082.3 308.9h0M1183 275.8h0M960.8 276.4h0M898.9 277h0M999.6 276h0M1136.3 308.8h0M1073 276h0M1114.4 275.9h0M187.3 273.1h0M1032.6 308.9h0M1111.5 276h0M1370.7 306.1h0M1376.9 306h0M1061.5 308.8h0M1377.1 306h0M1443 304.8h0M1034.6 308.8h0M197.3 273.3h0M1238.4 275.7h0M1082.4 308.7h0M1030.4 308.8h0M1000 276.2h0M965.6 276.6h0M982.4 276.4h0M1219.6 308.4h0M1284.7 275.4h0M1163.3 308.6h0M1364.7 306.1h0M1282 275.4h0M186.3 273.2h0M1353.9 273.9h0M1005.9 276.3h0M1073.3 308.6h0M1124.7 308.5h0M309.1 275.3h0M1317.9 307.2h0M1437.3 272.4h0M964.2 276.7h0M310.1 275.4h0M1365.1 273.7h0M123 272.3h0M321.1 275.5h0M1099.7 308.5h0M177 273.2h0M1019 276.4h0M1161.9 308.4h0M988.3 276.6h0M1212.3 308.2h0M937.6 309.1h0M947.9 309h0M1347.6 274.3h0M907.9 277.4h0M1025.5 276.5h0M955.2 277h0M317.5 275.6h0M952.4 277h0M1025.6 308.4h0M903 277.5h0M1019.6 308.4h0M952.9 277.1h0M1184.6 276.4h0M205.9 305.7h0M1020 308.4h0M320 275.7h0M1369.3 273.9h0M1321.5 306.8h0M1134.3 308.2h0M1118.3 308.2h0M1365.8 305.7h0M1199.1 308.1h0M1073 276.6h0M943.9 308.8h0M1192.6 308.1h0M1445.7 304.1h0M226.4 305.9h0M1267.8 276.1h0M1217.8 276.5h0M984 277h0M1213 276.5h0M949.3 308.7h0M184.2 305.1h0M1204.1 307.9h0M1276.7 276.1h0M199.6 274.1h0M226.5 305.8h0M122.6 272.8h0M956.4 308.5h0M1267.9 276.2h0M200.6 305.2h0M1213.4 276.7h0M940.3 308.5h0M1444.3 273h0M172.2 273.9h0M227.5 305.6h0M1024.6 307.8h0M967.1 308.2h0M1228.9 276.8h0M1165.4 277.1h0M179.3 304.5h0M1073.5 277.2h0M1432.3 303.8h0M1223.4 277h0M999.6 277.4h0M908.9 278.3h0M173.8 274.1h0M1350.6 275.2h0M952 308h0M953.3 308h0M974.3 307.8h0M1187.6 307.3h0M1427 303.7h0M908.5 278.4h0M1443.3 273.5h0M228 305.2h0M1166.8 277.4h0M999.8 277.6h0M232.3 305.2h0M1212.4 307.1h0M202.3 304.7h0M1305.4 306.3h0M1226.9 277.2h0M1446.7 303.2h0M1437.9 273.7h0M1212.5 307h0M120.1 273.5h0M1019.4 277.7h0M120.2 273.6h0M1212.7 306.8h0M1218.7 306.8h0M1273.5 277.1h0M1191 306.9h0M133.6 274h0M973.4 307.2h0M1447.1 302.8h0M1118.1 306.8h0M135 274.2h0M139.3 274.2h0M1440.6 274.1h0M1198.9 278h0M1197.6 278h0M1004.1 278.3h0M135.7 274.4h0M969.7 307h0M1077.1 278.4h0M908.2 279.5h0M136.4 274.7h0M904.1 279.6h0M1269.7 278h0M1021.6 278.8h0M120.9 274.7h0M1219.1 305.5h0M1123.4 305.7h0M1213.4 305.5h0M1448.8 301.6h0M1427.9 301.8h0M1448.9 301.2h0M1217.7 304.8h0M1119.3 304.9h0" stroke="#1f77b4" stroke-width="5.50" stroke-linecap="round" fill="none"/>
<path d="M119.5 288.7 L120.5 290 L121.5 289.8 L122.5 288.1 L123.5 287.8 L124.5 287.9 L125.5 288.8 L126.5 288.7 L127.5 288.7 L128.5 287.2 L129.5 289.6 L130.5 288.9 L131.5 289.1 L132.5 288.5 L133.5 288.3 L134.5 289.1 L135.5 289.5 L136.5 288.6 L137.5 288.6 L138.5 289.1 L139.5 287.6 L140.5 287 L141.5 288.5 L142.5 287.7 L143.5 286.4 L144.5 287.3 L145.5 287.8 L146.5 287.1 L147.5 287 L148.5 288.7 L149.5 289.7 L150.5 288.7 L151.5 288.2 L152.5 289.3 L153.5 289.6 L154.5 288.9 L155.5 289.7 L156.5 290.1 L157.5 288.8 L158.5 288.2 L159.5 289.2 L160.5 289.6 L161.5 289.9 L162.5 287.9 L163.5 287.9 L164.5 287.7 L165.5 287.2 L166.5 289 L167.5 289.5 L168.5 288.9 L169.5 290.6 L170.5 290.5 L171.5 290.2 L172.5 290 L173.5 290 L174.5 288.3 L175.5 289.7 L176.5 289.6 L177.5 287.8 L178.5 289.2 L179.5 289.4 L180.5 290 L181.5 289.2 L182.5 289.4 L183.5 289.6 L184.5 288.8 L185.5 289.8 L186.5 289.6 L187.5 289.8 L188.5 289.4 L189.5 290.6 L190.5 290.4 L191.5 289.7 L192.5 290.5 L193.5 291.5 L194.5 291.3 L195.5 288.7 L196.5 290.3 L197.5 290.3 L198.5 289.5 L199.5 289 L200.5 290.4 L201.5 288.9 L202.5 290.3 L203.5 290.8 L204.5 288.5 L205.5 288.8 L206.5 288.5 L207.5 290.2 L208.5 291.9 L209.5 291.8 L210.5 288.5 L211.5 289.1 L212.5 290.9 L213.5 291.8 L214.5 290.6 L215.5 289.4 L216.5 290.1 L217.5 290 L218.5 289.7 L219.5 289.4 L220.5 290.4 L221.5 290.5 L222.5 290 L223.5 289.6 L224.5 288.7 L225.5 289.7 L226.5 291.2 L227.5 290 L228.5 289.1 L229.5 291.4 L230.5 291.6 L231.5 292.5 L232.5 290.8 L233.5 289.5 L234.5 289.1 L235.5 291.9 L236.5 293 L237.5 290.1 L238.5 289.7 L239.5 289.7 L240.5 284.2 L241.5 279.9 L242.5 284.6 L243.5 289.9 L244.5 291.6 L245.5 291.1 L246.5 291.4 L247.5 290.4 L248.5 290.3 L249.5 288.2 L250.5 288.8 L251.5 290.9 L252.5 290.4 L253.5 291.2 L254.5 291.7 L255.5 292.4 L256.5 292.1 L257.5 291.9 L258.5 290.7 L259.5 289.9 L260.5 289.8 L261.5 289.9 L262.5 289.4 L263.5 290 L264.5 290.7 L265.5 291 L266.5 290.1 L267.5 288.9 L268.5 290.4 L269.5 291.4 L270.5 292.2 L271.5 291.7 L272.5 290.3 L273.5 290.6 L274.5 293 L275.5 292.8 L276.5 293.6 L277.5 293.4 L278.5 290.9 L279.5 291.4 L280.5 291.8 L281.5 291.9 L282.5 291.9 L283.5 291.5 L284.5 291 L285.5 289.7 L286.5 290.5 L287.5 290.4 L288.5 291 L289.5 290.9 L290.5 291.9 L291.5 292.3 L292.5 291.9 L293.5 291.7 L294.5 291.4 L295.5 290.8 L296.5 290.9 L297.5 290.9 L298.5 291.6 L299.5 291.6 L300.5 291.6 L301.5 290.4 L302.5 291.8 L303.5 290.7 L304.5 290.5 L305.5 290.9 L306.5 290.9 L307.5 291.5 L308.5 290.7 L309.5 290.1 L310.5 290.7 L311.5 292.6 L312.5 291.6 L313.5 290.4 L314.5 290.9 L315.5 290.4 L316.5 292.6 L317.5 290.6 L318.5 291.8 L319.5 291.9 L320.5 290.4 L321.5 291.8 L322.5 292.8 L323.5 292.4 L324.5 292.3 L325.5 292.7 L326.5 292.2 L327.5 292.1 L328.5 291.8 L329.5 292.1 L330.5 291.2 L331.5 292.2 L332.5 291.2 L333.5 290.7 L334.5 292.3 L335.5 293.8 L336.5 293.1 L337.5 291.7 L338.5 292.3 L339.5 291.6 L340.5 291.7 L341.5 291.4 L342.5 289.7 L343.5 291.3 L344.5 290.8 L345.5 290.6 L346.5 289.9 L347.5 289.9 L348.5 290.9 L349.5 293 L350.5 293.9 L351.5 292.7 L352.5 293.1 L353.5 291.6 L354.5 290.1 L355.5 291.9 L356.5 292.5 L357.5 291.9 L358.5 292.5 L359.5 292.6 L360.5 291.1 L361.5 290.4 L362.5 291.5 L363.5 291.8 L364.5 292 L365.5 293.5 L366.5 294.1 L367.5 292.4 L368.5 293.1 L369.5 293.5 L370.5 293.5 L371.5 293.4 L372.5 292.4 L373.5 293.5 L374.5 294.7 L375.5 293.5 L376.5 292.1 L377.5 293.1 L378.5 293.9 L379.5 292.9 L380.5 292.3 L381.5 293.5 L382.5 291.7 L383.5 292.6 L384.5 292.3 L385.5 291.6 L386.5 293.5 L387.5 292.8 L388.5 291.6 L389.5 292.7 L390.5 291.8 L391.5 290.4 L392.5 291.5 L393.5 292.8 L394.5 293.3 L395.5 292.9 L396.5 292.8 L397.5 293.1 L398.5 292.8 L399.5 293.8 L400.5 293.2 L401.5 293.1 L402.5 293 L403.5 291.6 L404.5 292.1 L405.5 293.9 L406.5 291 L407.5 284.9 L408.5 285.2 L409.5 290.1 L410.5 292.6 L411.5 292.3 L412.5 292.5 L413.5 291.7 L414.5 293.6 L415.5 292.3 L416.5 291.1 L417.5 292.2 L418.5 292.5 L419.5 292.7 L420.5 291.9 L421.5 293.9 L422.5 296.3 L423.5 292.7 L424.5 292.9 L425.5 292.8 L426.5 292.7 L427.5 291 L428.5 291.5 L429.5 293.2 L430.5 293.5 L431.5 294.5 L432.5 292.8 L433.5 293.8 L434.5 295.8 L435.5 292.8 L436.5 292 L437.5 292.9 L438.5 293.3 L439.5 294 L440.5 293.3 L441.5 292.5 L442.5 293.9 L443.5 296.2 L444.5 294.5 L445.5 290.8 L446.5 292.2 L447.5 292.5 L448.5 293.6 L449.5 293.8 L450.5 295.4 L451.5 294.9 L452.5 294.5 L453.5 293.7 L454.5 293.4 L455.5 294 L456.5 294.8 L457.5 294.1 L458.5 293.4 L459.5 294.6 L460.5 293.8 L461.5 293.1 L462.5 292.4 L463.5 292.4 L464.5 291.9 L465.5 290.6 L466.5 293.8 L467.5 294.1 L468.5 293.5 L469.5 294.4 L470.5 294.1 L471.5 293.2 L472.5 290.9 L473.5 292.6 L474.5 294.2 L475.5 295.5 L476.5 295.9 L477.5 294.9 L478.5 292 L479.5 291 L480.5 293.4 L481.5 293.8 L482.5 294.3 L483.5 293.5 L484.5 293.2 L485.5 292 L486.5 293.3 L487.5 293.1 L488.5 293.7 L489.5 293.9 L490.5 293.5 L491.5 293.7 L492.5 293.6 L493.5 294.3 L494.5 293.9 L495.5 292.8 L496.5 293.1 L497.5 295 L498.5 294 L499.5 294.5 L500.5 293.9 L501.5 292.8 L502.5 292.6 L503.5 293.4 L504.5 293.8 L505.5 293.8 L506.5 292.2 L507.5 292.5 L508.5 293.6 L509.5 294.4 L510.5 291.6 L511.5 293.1 L512.5 293.1 L513.5 293.6 L514.5 293.1 L515.5 294.1 L516.5 295.2 L517.5 294.3 L518.5 294.1 L519.5 293.7 L520.5 292.9 L521.5 293.7 L522.5 293.2 L523.5 292.6 L524.5 293.2 L525.5 293.4 L526.5 294.1 L527.5 293.5 L528.5 293.3 L529.5 295 L530.5 295.1 L531.5 295.1 L532.5 294.4 L533.5 293.4 L534.5 293 L535.5 293.3 L536.5 294.4 L537.5 293.5 L538.5 292 L539.5 292.7 L540.5 292.1 L541.5 293 L542.5 292 L543.5 292 L544.5 293.3 L545.5 293 L546.5 292 L547.5 294.4 L548.5 295.5 L549.5 293 L550.5 294.8 L551.5 293.1 L552.5 292.8 L553.5 292.8 L554.5 292.3 L555.5 294.6 L556.5 294.1 L557.5 292.8 L558.5 292.7 L559.5 291.9 L560.5 293 L561.5 293.9 L562.5 291.9 L563.5 292.7 L564.5 293.8 L565.5 294.9 L566.5 295 L567.5 293.2 L568.5 292.8 L569.5 293.7 L570.5 293.2 L571.5 293.4 L572.5 295 L573.5 295.6 L574.5 294.2 L575.5 293.6 L576.5 293.6 L577.5 291.8 L578.5 292.8 L579.5 293.1 L580.5 295.9 L581.5 294.9 L582.5 293.8 L583.5 292.8 L584.5 291.2 L585.5 294.1 L586.5 295.2 L587.5 293.4 L588.5 294.3 L589.5 294.1 L590.5 292.5 L591.5 294.5 L592.5 295.2 L593.5 294.1 L594.5 293.8 L595.5 294 L596.5 292.3 L597.5 293.6 L598.5 294.3 L599.5 292.2 L600.5 289.8 L601.5 284 L602.5 285.8 L603.5 291.7 L604.5 292.6 L605.5 293.4 L606.5 292.8 L607.5 294.2 L608.5 293.2 L609.5 293.6 L610.5 293 L611.5 293.5 L612.5 294.8 L613.5 294 L614.5 293 L615.5 292.6 L616.5 294.7 L617.5 294.6 L618.5 293.6 L619.5 293.5 L620.5 292.4 L621.5 292.2 L622.5 292.7 L623.5 293.9 L624.5 293.8 L625.5 293.2 L626.5 294.4 L627.5 294.7 L628.5 294.3 L629.5 294.7 L630.5 293.6 L631.5 293.6 L632.5 294.1 L633.5 293.9 L634.5 294.1 L635.5 293 L636.5 294.6 L637.5 293.2 L638.5 293 L639.5 292.4 L640.5 294.3 L641.5 295.4 L642.5 295.3 L643.5 294.4 L644.5 292.2 L645.5 292.4 L646.5 292.8 L647.5 292.9 L648.5 294.6 L649.5 294.2 L650.5 293.8 L651.5 293.9 L652.5 292.6 L653.5 292.4 L654.5 292.7 L655.5 294.1 L656.5 294.3 L657.5 294.6 L658.5 294.6 L659.5 292.5 L660.5 292.9 L661.5 293.4 L662.5 292.3 L663.5 293.1 L664.5 294.9 L665.5 295.3 L666.5 295.1 L667.5 294 L668.5 293.8 L669.5 294.7 L670.5 293.7 L671.5 294.3 L672.5 295.1 L673.5 293.6 L674.5 293.1 L675.5 293.7 L676.5 294.5 L677.5 294.4 L678.5 294.2 L679.5 294 L680.5 292.1 L681.5 292.5 L682.5 293.5 L683.5 292.5 L684.5 291.9 L685.5 292 L686.5 292.5 L687.5 293.1 L688.5 292.8 L689.5 294.2 L690.5 295.5 L691.5 294.4 L692.5 295.1 L693.5 294.1 L694.5 292.7 L695.5 293 L696.5 292.9 L697.5 294 L698.5 293.2 L699.5 295 L700.5 294.2 L701.5 292.1 L702.5 294.5 L703.5 295.3 L704.5 293.6 L705.5 294.2 L706.5 292.3 L707.5 293.2 L708.5 292.3 L709.5 293.4 L710.5 291.5 L711.5 290.9 L712.5 294.1 L713.5 296 L714.5 294 L715.5 294.5 L716.5 294.1 L717.5 293.7 L718.5 294.8 L719.5 295.3 L720.5 293.2 L721.5 294.2 L722.5 294 L723.5 292.9 L724.5 295.6 L725.5 296 L726.5 293.8 L727.5 295.4 L728.5 294.3 L729.5 294.1 L730.5 295.4 L731.5 294.5 L732.5 294.6 L733.5 295.8 L734.5 295.7 L735.5 294.7 L736.5 292.3 L737.5 292.2 L738.5 294.4 L739.5 293.3 L740.5 293.5 L741.5 292.8 L742.5 293.1 L743.5 293 L744.5 294.9 L745.5 293.2 L746.5 293.5 L747.5 294 L748.5 294.7 L749.5 292.8 L750.5 293.5 L751.5 293.8 L752.5 294.5 L753.5 294.4 L754.5 293.6 L755.5 293.9 L756.5 293.7 L757.5 294.3 L758.5 293.8 L759.5 293.2 L760.5 293.8 L761.5 294.8 L762.5 296.2 L763.5 294.1 L764.5 294.5 L765.5 294.9 L766.5 291.8 L767.5 291.4 L768.5 292.3 L769.5 294.1 L770.5 296.4 L771.5 295.2 L772.5 295.2 L773.5 293.4 L774.5 290.9 L775.5 291.3 L776.5 294.4 L777.5 294.1 L778.5 293 L779.5 294.4 L780.5 293 L781.5 295.1 L782.5 295.5 L783.5 293.3 L784.5 292.9 L785.5 294.3 L786.5 293.3 L787.5 294.3 L788.5 293.2 L789.5 294.5 L790.5 294.2 L791.5 293.4 L792.5 292.9 L793.5 291.7 L794.5 286.1 L795.5 287.1 L796.5 291.8 L797.5 294.1 L798.5 293.3 L799.5 295.3 L800.5 293.8 L801.5 293.1 L802.5 295.5 L803.5 295.9 L804.5 294 L805.5 293 L806.5 293.6 L807.5 293.2 L808.5 293.9 L809.5 295.5 L810.5 294.8 L811.5 294.3 L812.5 294.3 L813.5 294.2 L814.5 295 L815.5 294.9 L816.5 293.8 L817.5 294.5 L818.5 296.4 L819.5 294.9 L820.5 294.3 L821.5 295.9 L822.5 294.1 L823.5 293 L824.5 294.1 L825.5 293 L826.5 293.2 L827.5 294 L828.5 293.6 L829.5 292.9 L830.5 293 L831.5 293.4 L832.5 294.7 L833.5 293.3 L834.5 293.6 L835.5 295.6 L836.5 294.1 L837.5 295.5 L838.5 295.4 L839.5 293.6 L840.5 292.5 L841.5 294.1 L842.5 294.8 L843.5 294.9 L844.5 294.4 L845.5 295.3 L846.5 295.2 L847.5 293.4 L848.5 295 L849.5 294.1 L850.5 293.2 L851.5 293.8 L852.5 295.8 L853.5 294.7 L854.5 292.2 L855.5 293.3 L856.5 293.5 L857.5 293.4 L858.5 292.8 L859.5 292.3 L860.5 294 L861.5 292.9 L862.5 292.9 L863.5 292.8 L864.5 293 L865.5 294.3 L866.5 294.1 L867.5 292.9 L868.5 292.4 L869.5 293.2 L870.5 294.5 L871.5 294.1 L872.5 293.8 L873.5 293.3 L874.5 293.3 L875.5 293.3 L876.5 292.2 L877.5 294.6 L878.5 293.1 L879.5 293.2 L880.5 294.8 L881.5 294.2 L882.5 293.5 L883.5 292.6 L884.5 291.9 L885.5 293.7 L886.5 294.6 L887.5 293.3 L888.5 294.4 L889.5 292.6 L890.5 292.7 L891.5 293.9 L892.5 293.8 L893.5 294 L894.5 292.7 L895.5 291.8 L896.5 291.1 L897.5 291.6 L898.5 291.8 L899.5 291.9 L900.5 293.3 L901.5 292.4 L902.5 291.9 L903.5 295.2 L904.5 292.9 L905.5 292.3 L906.5 294.6 L907.5 294.6 L908.5 292.2 L909.5 291.4 L910.5 292.3 L911.5 294.2 L912.5 293.1 L913.5 292.5 L914.5 293.4 L915.5 294.2 L916.5 292.1 L917.5 292.3 L918.5 292.4 L919.5 295.6 L920.5 295.9 L921.5 294.7 L922.5 293.5 L923.5 293.4 L924.5 291.4 L925.5 292.7 L926.5 291.6 L927.5 291.4 L928.5 292.1 L929.5 292.8 L930.5 293.9 L931.5 294.1 L932.5 293.4 L933.5 292.5 L934.5 293.6 L935.5 293.5 L936.5 294 L937.5 291.8 L938.5 290 L939.5 292.5 L940.5 295.2 L941.5 294 L942.5 293.2 L943.5 294 L944.5 293.9 L945.5 293.5 L946.5 292.7 L947.5 293 L948.5 293.1 L949.5 292.1 L950.5 291.8 L951.5 293.1 L952.5 294.1 L953.5 294 L954.5 293.7 L955.5 294.2 L956.5 295.7 L957.5 293.7 L958.5 291.2 L959.5 286.6 L960.5 286.8 L961.5 291.8 L962.5 294.3 L963.5 294.9 L964.5 293.7 L965.5 293.3 L966.5 292.7 L967.5 291.9 L968.5 293.6 L969.5 292.4 L970.5 291 L971.5 291.8 L972.5 290.8 L973.5 291.3 L974.5 292.3 L975.5 292.1 L976.5 293.2 L977.5 291.6 L978.5 292.8 L979.5 293.7 L980.5 294.5 L981.5 294 L982.5 293.2 L983.5 292.8 L984.5 292.9 L985.5 293.6 L986.5 292.4 L987.5 293 L988.5 292.7 L989.5 292.8 L990.5 292.9 L991.5 294.5 L992.5 292.5 L993.5 292.7 L994.5 293.1 L995.5 293.4 L996.5 293.3 L997.5 293.3 L998.5 293.2 L999.5 291.3 L1000.5 291.9 L1001.5 291.3 L1002.5 292.1 L1003.5 291.2 L1004.5 291.3 L1005.5 292.6 L1006.5 294 L1007.5 293.5 L1008.5 293.3 L1009.5 293.7 L1010.5 291.4 L1011.5 290.1 L1012.5 291.5 L1013.5 292.4 L1014.5 294.2 L1015.5 294.6 L1016.5 292.3 L1017.5 295 L1018.5 294.9 L1019.5 293.8 L1020.5 293.7 L1021.5 295 L1022.5 293.1 L1023.5 292.1 L1024.5 292.2 L1025.5 291.3 L1026.5 292.6 L1027.5 292.6 L1028.5 292.9 L1029.5 292.7 L1030.5 292.7 L1031.5 298.7 L1032.5 303 L1033.5 299.5 L1034.5 292.5 L1035.5 292.3 L1036.5 291.8 L1037.5 292.2 L1038.5 291.3 L1039.5 289.9 L1040.5 290.8 L1041.5 292.4 L1042.5 292.7 L1043.5 290.6 L1044.5 289.8 L1045.5 291 L1046.5 291.9 L1047.5 291.6 L1048.5 291.7 L1049.5 293.4 L1050.5 293.8 L1051.5 293.2 L1052.5 291.7 L1053.5 292.3 L1054.5 291.9 L1055.5 291.2 L1056.5 293 L1057.5 292.7 L1058.5 292.4 L1059.5 293.9 L1060.5 293.8 L1061.5 293.8 L1062.5 294 L1063.5 293.2 L1064.5 291.3 L1065.5 292 L1066.5 293.2 L1067.5 291.9 L1068.5 292.4 L1069.5 293.2 L1070.5 294.3 L1071.5 294.3 L1072.5 293.6 L1073.5 292.7 L1074.5 293.4 L1075.5 293.2 L1076.5 292.8 L1077.5 293.9 L1078.5 293.1 L1079.5 292.1 L1080.5 293.5 L1081.5 292.6 L1082.5 292.6 L1083.5 291.1 L1084.5 291.8 L1085.5 291.2 L1086.5 290.8 L1087.5 290.8 L1088.5 294 L1089.5 292.9 L1090.5 292.9 L1091.5 293.6 L1092.5 292.7 L1093.5 292.6 L1094.5 291.2 L1095.5 292.2 L1096.5 292.2 L1097.5 292.9 L1098.5 292.4 L1099.5 291.3 L1100.5 295.1 L1101.5 302.8 L1102.5 301.2 L1103.5 294.9 L1104.5 292.5 L1105.5 289.8 L1106.5 289.1 L1107.5 291 L1108.5 291.8 L1109.5 291.8 L1110.5 292.6 L1111.5 292 L1112.5 291 L1113.5 291.3 L1114.5 292.3 L1115.5 292.5 L1116.5 292.9 L1117.5 294.6 L1118.5 292.7 L1119.5 292.2 L1120.5 291.3 L1121.5 291.9 L1122.5 293 L1123.5 293 L1124.5 292.5 L1125.5 292.7 L1126.5 292 L1127.5 289.7 L1128.5 289.2 L1129.5 294.1 L1130.5 293.7 L1131.5 292.1 L1132.5 290.3 L1133.5 291 L1134.5 292.7 L1135.5 289.8 L1136.5 291.6 L1137.5 293.2 L1138.5 292.9 L1139.5 293.1 L1140.5 293 L1141.5 294.5 L1142.5 291.6 L1143.5 290.8 L1144.5 292.6 L1145.5 293.8 L1146.5 292.9 L1147.5 293.3 L1148.5 291.8 L1149.5 291.4 L1150.5 293.8 L1151.5 294.6 L1152.5 294.2 L1153.5 292 L1154.5 290.8 L1155.5 290.8 L1156.5 292 L1157.5 293 L1158.5 292.6 L1159.5 291.1 L1160.5 292.2 L1161.5 292.4 L1162.5 292.5 L1163.5 293.3 L1164.5 295.7 L1165.5 296.4 L1166.5 293.7 L1167.5 292.5 L1168.5 291.8 L1169.5 292.5 L1170.5 291.8 L1171.5 290.3 L1172.5 292.2 L1173.5 292.4 L1174.5 293.1 L1175.5 292.4 L1176.5 292.2 L1177.5 292.5 L1178.5 292.2 L1179.5 291.4 L1180.5 290.9 L1181.5 293.3 L1182.5 291.1 L1183.5 291.8 L1184.5 293 L1185.5 293 L1186.5 293.2 L1187.5 293.5 L1188.5 293.8 L1189.5 293.6 L1190.5 295 L1191.5 292.1 L1192.5 292.2 L1193.5 291.9 L1194.5 291.8 L1195.5 292.8 L1196.5 293.6 L1197.5 291.8 L1198.5 291.6 L1199.5 293 L1200.5 293.5 L1201.5 294.6 L1202.5 293.8 L1203.5 292.7 L1204.5 292 L1205.5 292.3 L1206.5 291.8 L1207.5 290.8 L1208.5 291.9 L1209.5 292 L1210.5 291.8 L1211.5 292.1 L1212.5 294 L1213.5 293.5 L1214.5 293.1 L1215.5 291.6 L1216.5 290.9 L1217.5 291.7 L1218.5 292.2 L1219.5 291.8 L1220.5 292.1 L1221.5 293.1 L1222.5 292.4 L1223.5 291.1 L1224.5 291.3 L1225.5 291.4 L1226.5 291.8 L1227.5 290.9 L1228.5 291.8 L1229.5 292.7 L1230.5 292 L1231.5 291 L1232.5 291.2 L1233.5 292.1 L1234.5 292.7 L1235.5 292.9 L1236.5 291.8 L1237.5 291 L1238.5 293.2 L1239.5 292.7 L1240.5 292.5 L1241.5 292.1 L1242.5 290.9 L1243.5 291.4 L1244.5 292.4 L1245.5 293 L1246.5 291.5 L1247.5 288.8 L1248.5 291 L1249.5 292.6 L1250.5 294.5 L1251.5 297 L1252.5 298.3 L1253.5 295.3 L1254.5 293.9 L1255.5 292.8 L1256.5 290.9 L1257.5 292.5 L1258.5 292.5 L1259.5 291.6 L1260.5 292.4 L1261.5 292.3 L1262.5 291.4 L1263.5 291.5 L1264.5 291.5 L1265.5 291.8 L1266.5 291.5 L1267.5 291.7 L1268.5 289.9 L1269.5 290.6 L1270.5 289.9 L1271.5 291 L1272.5 292.1 L1273.5 291.8 L1274.5 291.6 L1275.5 292.1 L1276.5 293 L1277.5 291.2 L1278.5 291.9 L1279.5 290.3 L1280.5 290.9 L1281.5 291.5 L1282.5 290.9 L1283.5 291.8 L1284.5 292.1 L1285.5 290.6 L1286.5 291.1 L1287.5 290.7 L1288.5 289.5 L1289.5 290.7 L1290.5 291.1 L1291.5 292.5 L1292.5 291.4 L1293.5 292.9 L1294.5 291.9 L1295.5 293.5 L1296.5 292.7 L1297.5 292.3 L1298.5 292.7 L1299.5 293 L1300.5 293.5 L1301.5 293.4 L1302.5 291.2 L1303.5 289.4 L1304.5 288.3 L1305.5 290.5 L1306.5 292.1 L1307.5 291.9 L1308.5 291.4 L1309.5 290.8 L1310.5 290.4 L1311.5 290.9 L1312.5 291.1 L1313.5 289.7 L1314.5 291.1 L1315.5 289.8 L1316.5 290.4 L1317.5 290.3 L1318.5 290.2 L1319.5 289.6 L1320.5 289.5 L1321.5 290.2 L1322.5 290.4 L1323.5 293 L1324.5 290.9 L1325.5 290 L1326.5 289.8 L1327.5 289 L1328.5 288 L1329.5 290 L1330.5 290.6 L1331.5 289.3 L1332.5 290 L1333.5 289.4 L1334.5 290.4 L1335.5 291.1 L1336.5 291.3 L1337.5 290.9 L1338.5 290.2 L1339.5 291.1 L1340.5 290.3 L1341.5 290.9 L1342.5 291.1 L1343.5 290 L1344.5 289.2 L1345.5 290.4 L1346.5 289.1 L1347.5 288.9 L1348.5 289.2 L1349.5 290.8 L1350.5 289.7 L1351.5 288.1 L1352.5 290.9 L1353.5 292.8 L1354.5 292.3 L1355.5 290 L1356.5 290.1 L1357.5 290.8 L1358.5 291 L1359.5 290.1 L1360.5 290.4 L1361.5 294.9 L1362.5 294.7 L1363.5 290 L1364.5 289.4 L1365.5 290 L1366.5 290 L1367.5 290.5 L1368.5 290.8 L1369.5 290.5 L1370.5 289.4 L1371.5 288.5 L1372.5 290.3 L1373.5 291.7 L1374.5 291.9 L1375.5 290.1 L1376.5 289.9 L1377.5 291.3 L1378.5 291.4 L1379.5 290.4 L1380.5 290.1 L1381.5 289 L1382.5 289.6 L1383.5 288.7 L1384.5 289 L1385.5 289.1 L1386.5 288.3 L1387.5 286.9 L1388.5 288.1 L1389.5 289.4 L1390.5 289.2 L1391.5 289 L1392.5 289.8 L1393.5 290.2 L1394.5 290 L1395.5 288.6 L1396.5 288.9 L1397.5 288.6 L1398.5 287.8 L1399.5 287.4 L1400.5 288.4 L1401.5 288.7 L1402.5 291 L1403.5 289.4 L1404.5 288.7 L1405.5 289 L1406.5 290.6 L1407.5 288.5 L1408.5 288.4 L1409.5 288.1 L1410.5 288.6 L1411.5 289.1 L1412.5 289.6 L1413.5 287.8 L1414.5 288.9 L1415.5 290.3 L1416.5 288.7 L1417.5 288.3 L1418.5 287.2 L1419.5 285.9 L1420.5 288.3 L1421.5 289.8 L1422.5 288.1 L1423.5 286.8 L1424.5 288.5 L1425.5 289.1 L1426.5 289.9 L1427.5 289.7 L1428.5 288.7 L1429.5 288.5 L1430.5 287.2 L1431.5 289.3 L1432.5 289.3 L1433.5 289.9 L1434.5 289.8 L1435.5 288.5 L1436.5 288.1 L1437.5 287.1 L1438.5 286.2 L1439.5 287.8 L1440.5 288.3 L1441.5 287.5 L1442.5 288.9 L1443.5 288.8 L1444.5 288.6 L1445.5 287.3 L1446.5 286.6 L1447.5 288.8 L1448.5 289.1 L1449.5 288.3" stroke="#ff7f0e" stroke-width="2.08" fill="none" stroke-linejoin="round"/>
</g>
<rect x="119.5" y="38.5" width="1330.0" height="480.0" fill="none" stroke="#000" stroke-width="1.11"/>
<path d="M119.5 518.5v4.86M285.8 518.5v4.86M452.1 518.5v4.86M618.4 518.5v4.86M784.6 518.5v4.86M950.9 518.5v4.86M1117.2 518.5v4.86M1283.5 518.5v4.86M119.5 115.5h-4.86M119.5 207h-4.86M119.5 298.5h-4.86M119.5 390h-4.86M119.5 481.5h-4.86" stroke="#000" stroke-width="1.11" fill="none"/>
<text x="108.3" y="123.4" font-size="22.22" text-anchor="end">0.10</text>
<text x="108.3" y="214.9" font-size="22.22" text-anchor="end">0.05</text>
<text x="108.3" y="306.4" font-size="22.22" text-anchor="end">0.00</text>
<text x="108.3" y="397.9" font-size="22.22" text-anchor="end">−0.05</text>
<text x="108.3" y="489.4" font-size="22.22" text-anchor="end">−0.10</text>
<text x="118.9" y="30.1" font-size="27.08" text-anchor="start" textLength="41.3" lengthAdjust="spacing">(a)</text>
<text x="779.9" y="30" font-size="27.78" text-anchor="middle" textLength="301.3" lengthAdjust="spacing">10.0 MHz N0000013</text>
<text x="0" y="0" font-size="21.53" text-anchor="middle" textLength="227.8" lengthAdjust="spacing" transform="translate(24.9 278.6) rotate(-90)">Doppler Shift [Hz]</text>
<rect x="1035" y="48.5" width="405.4" height="79.5" rx="3.5" fill="#fff" fill-opacity="0.8" stroke="#cccccc" stroke-width="1.11"/>
<path d="M1060.6 63.5h0" stroke="#1f77b4" stroke-width="6" stroke-linecap="round"/>
<path d="M1040.9 101.8H1079.8" stroke="#ff7f0e" stroke-width="2.08"/>
<text x="1093.2" y="69.1" font-size="18.06" text-anchor="start" textLength="100" lengthAdjust="spacing">Raw Data</text>
<text x="1093.2" y="95.8" font-size="18.06" text-anchor="start" textLength="270.8" lengthAdjust="spacing">Butterworth Filtered Data</text>
<text x="1093.2" y="117.1" font-size="18.06" text-anchor="start" textLength="340.2" lengthAdjust="spacing">(N=6, Tc=3.3333 min, Type: low)</text>
<defs><clipPath id="c1"><rect x="119.5" y="575.5" width="1330.0" height="479.0"/></clipPath></defs>
<rect x="231.8" y="575.5" width="543.2" height="479.0" fill="#808080" fill-opacity="0.2" stroke="#808080" stroke-opacity="0.2" stroke-width="1.39"/>
<path d="M119.5 575.5V1054.5M285.8 575.5V1054.5M452.1 575.5V1054.5M618.4 575.5V1054.5M784.6 575.5V1054.5M950.9 575.5V1054.5M1117.2 575.5V1054.5M1283.5 575.5V1054.5M119.5 1033.5H1449.5M119.5 977.6H1449.5M119.5 921.8H1449.5M119.5 865.9H1449.5M119.5 810H1449.5M119.5 754.1H1449.5M119.5 698.2H1449.5M119.5 642.4H1449.5M119.5 586.5H1449.5" stroke="#b0b0b0" stroke-width="1.11" stroke-dasharray="1.11 1.83" fill="none"/>
<g clip-path="url(#c1)">
<path d="M119.5 909 L120.5 909 L121.5 909 L122.5 910 L123.5 910 L124.5 910 L125.5 909 L126.5 909 L127.5 913 L128.5 917 L129.5 919 L130.5 920 L131.5 920 L132.5 920 L133.5 920 L134.5 913 L135.5 913 L136.5 914 L137.5 921 L138.5 921 L139.5 921 L140.5 921 L141.5 918 L142.5 916 L143.5 916 L144.5 919 L145.5 924 L146.5 924 L147.5 924 L148.5 924 L149.5 923 L150.5 923 L151.5 927 L152.5 927 L153.5 927 L154.5 927 L155.5 926 L156.5 921 L157.5 917 L158.5 911 L159.5 921 L160.5 926 L161.5 930 L162.5 930 L163.5 931 L164.5 945 L165.5 945 L166.5 945 L167.5 939 L168.5 939 L169.5 937 L170.5 937 L171.5 916 L172.5 905 L173.5 903 L174.5 900 L175.5 889 L176.5 889 L177.5 884 L178.5 883 L179.5 883 L180.5 880 L181.5 880 L182.5 880 L183.5 880 L184.5 878 L185.5 872 L186.5 873 L187.5 875 L188.5 875 L189.5 875 L190.5 868 L191.5 868 L192.5 868 L193.5 864 L194.5 874 L195.5 877 L196.5 877 L197.5 877 L198.5 877 L199.5 877 L200.5 876 L201.5 875 L202.5 875 L203.5 875 L204.5 875 L205.5 884 L206.5 885 L207.5 885 L208.5 890 L209.5 890 L210.5 890 L211.5 889 L212.5 882 L213.5 883 L214.5 883 L215.5 883 L216.5 892 L217.5 892 L218.5 892 L219.5 889 L220.5 888 L221.5 886 L222.5 881 L223.5 875 L224.5 875 L225.5 875 L226.5 870 L227.5 870 L228.5 878 L229.5 878 L230.5 878 L231.5 877 L232.5 877 L233.5 889 L234.5 891 L235.5 892 L236.5 894 L237.5 894 L238.5 899 L239.5 899 L240.5 899 L241.5 898 L242.5 898 L243.5 889 L244.5 888 L245.5 881 L246.5 879 L247.5 890 L248.5 890 L249.5 900 L250.5 900 L251.5 900 L252.5 899 L253.5 897 L254.5 895 L255.5 883 L256.5 883 L257.5 866 L258.5 867 L259.5 867 L260.5 867 L261.5 872 L262.5 888 L263.5 892 L264.5 892 L265.5 892 L266.5 892 L267.5 890 L268.5 900 L269.5 900 L270.5 900 L271.5 900 L272.5 899 L273.5 899 L274.5 899 L275.5 895 L276.5 890 L277.5 868 L278.5 872 L279.5 872 L280.5 872 L281.5 872 L282.5 867 L283.5 862 L284.5 855 L285.5 854 L286.5 838 L287.5 832 L288.5 822 L289.5 826 L290.5 826 L291.5 826 L292.5 826 L293.5 826 L294.5 826 L295.5 821 L296.5 817 L297.5 816 L298.5 815 L299.5 815 L300.5 819 L301.5 823 L302.5 831 L303.5 832 L304.5 833 L305.5 838 L306.5 843 L307.5 847 L308.5 847 L309.5 847 L310.5 846 L311.5 847 L312.5 847 L313.5 847 L314.5 841 L315.5 839 L316.5 832 L317.5 831 L318.5 836 L319.5 836 L320.5 836 L321.5 833 L322.5 832 L323.5 827 L324.5 827 L325.5 816 L326.5 811 L327.5 811 L328.5 811 L329.5 811 L330.5 811 L331.5 804 L332.5 803 L333.5 802 L334.5 806 L335.5 806 L336.5 807 L337.5 807 L338.5 808 L339.5 808 L340.5 819 L341.5 819 L342.5 819 L343.5 820 L344.5 823 L345.5 823 L346.5 823 L347.5 821 L348.5 816 L349.5 816 L350.5 816 L351.5 814 L352.5 813 L353.5 807 L354.5 808 L355.5 816 L356.5 816 L357.5 829 L358.5 829 L359.5 829 L360.5 829 L361.5 824 L362.5 812 L363.5 812 L364.5 813 L365.5 822 L366.5 822 L367.5 822 L368.5 821 L369.5 821 L370.5 820 L371.5 825 L372.5 826 L373.5 833 L374.5 833 L375.5 833 L376.5 832 L377.5 831 L378.5 831 L379.5 831 L380.5 831 L381.5 821 L382.5 821 L383.5 821 L384.5 821 L385.5 821 L386.5 821 L387.5 821 L388.5 818 L389.5 817 L390.5 814 L391.5 814 L392.5 813 L393.5 804 L394.5 803 L395.5 800 L396.5 798 L397.5 798 L398.5 824 L399.5 845 L400.5 845 L401.5 845 L402.5 824 L403.5 824 L404.5 819 L405.5 808 L406.5 802 L407.5 800 L408.5 791 L409.5 766 L410.5 759 L411.5 760 L412.5 762 L413.5 762 L414.5 793 L415.5 793 L416.5 793 L417.5 761 L418.5 761 L419.5 752 L420.5 752 L421.5 746 L422.5 750 L423.5 750 L424.5 753 L425.5 753 L426.5 753 L427.5 721 L428.5 721 L429.5 725 L430.5 725 L431.5 725 L432.5 725 L433.5 724 L434.5 722 L435.5 722 L436.5 719 L437.5 726 L438.5 726 L439.5 727 L440.5 737 L441.5 737 L442.5 737 L443.5 748 L444.5 748 L445.5 748 L446.5 742 L447.5 737 L448.5 736 L449.5 734 L450.5 733 L451.5 733 L452.5 743 L453.5 743 L454.5 743 L455.5 742 L456.5 735 L457.5 763 L458.5 763 L459.5 763 L460.5 753 L461.5 753 L462.5 755 L463.5 760 L464.5 761 L465.5 761 L466.5 761 L467.5 757 L468.5 750 L469.5 750 L470.5 751 L471.5 751 L472.5 754 L473.5 756 L474.5 757 L475.5 766 L476.5 766 L477.5 766 L478.5 761 L479.5 752 L480.5 752 L481.5 749 L482.5 748 L483.5 747 L484.5 747 L485.5 760 L486.5 760 L487.5 766 L488.5 766 L489.5 767 L490.5 769 L491.5 769 L492.5 769 L493.5 768 L494.5 768 L495.5 768 L496.5 768 L497.5 761 L498.5 760 L499.5 759 L500.5 760 L501.5 760 L502.5 767 L503.5 767 L504.5 768 L505.5 770 L506.5 772 L507.5 772 L508.5 772 L509.5 769 L510.5 769 L511.5 775 L512.5 776 L513.5 776 L514.5 776 L515.5 775 L516.5 782 L517.5 782 L518.5 782 L519.5 781 L520.5 777 L521.5 777 L522.5 782 L523.5 786 L524.5 799 L525.5 799 L526.5 799 L527.5 799 L528.5 788 L529.5 783 L530.5 783 L531.5 774 L532.5 756 L533.5 755 L534.5 744 L535.5 743 L536.5 736 L537.5 735 L538.5 743 L539.5 743 L540.5 743 L541.5 743 L542.5 737 L543.5 737 L544.5 736 L545.5 735 L546.5 735 L547.5 726 L548.5 731 L549.5 752 L550.5 752 L551.5 752 L552.5 752 L553.5 749 L554.5 744 L555.5 743 L556.5 751 L557.5 751 L558.5 751 L559.5 750 L560.5 751 L561.5 751 L562.5 751 L563.5 734 L564.5 738 L565.5 739 L566.5 739 L567.5 739 L568.5 739 L569.5 738 L570.5 738 L571.5 738 L572.5 737 L573.5 737 L574.5 727 L575.5 727 L576.5 727 L577.5 727 L578.5 721 L579.5 726 L580.5 727 L581.5 727 L582.5 727 L583.5 726 L584.5 732 L585.5 735 L586.5 746 L587.5 748 L588.5 750 L589.5 750 L590.5 750 L591.5 755 L592.5 756 L593.5 758 L594.5 758 L595.5 758 L596.5 754 L597.5 754 L598.5 748 L599.5 742 L600.5 740 L601.5 740 L602.5 749 L603.5 750 L604.5 750 L605.5 750 L606.5 750 L607.5 750 L608.5 750 L609.5 750 L610.5 744 L611.5 744 L612.5 741 L613.5 740 L614.5 741 L615.5 745 L616.5 745 L617.5 745 L618.5 735 L619.5 730 L620.5 729 L621.5 729 L622.5 734 L623.5 734 L624.5 734 L625.5 735 L626.5 735 L627.5 735 L628.5 736 L629.5 736 L630.5 736 L631.5 719 L632.5 719 L633.5 726 L634.5 726 L635.5 726 L636.5 726 L637.5 754 L638.5 754 L639.5 754 L640.5 754 L641.5 745 L642.5 758 L643.5 760 L644.5 760 L645.5 760 L646.5 759 L647.5 751 L648.5 775 L649.5 775 L650.5 775 L651.5 780 L652.5 784 L653.5 784 L654.5 784 L655.5 784 L656.5 778 L657.5 778 L658.5 785 L659.5 785 L660.5 785 L661.5 758 L662.5 737 L663.5 736 L664.5 723 L665.5 731 L666.5 731 L667.5 731 L668.5 730 L669.5 729 L670.5 729 L671.5 720 L672.5 721 L672.5 851 L671.5 920 L670.5 907 L669.5 907 L668.5 907 L667.5 862 L666.5 862 L665.5 862 L664.5 925 L663.5 925 L662.5 925 L661.5 936 L660.5 942 L659.5 944 L658.5 963 L657.5 969 L656.5 970 L655.5 970 L654.5 969 L653.5 959 L652.5 931 L651.5 931 L650.5 931 L649.5 936 L648.5 934 L647.5 932 L646.5 867 L645.5 867 L644.5 867 L643.5 900 L642.5 899 L641.5 898 L640.5 895 L639.5 888 L638.5 881 L637.5 872 L636.5 866 L635.5 851 L634.5 851 L633.5 840 L632.5 840 L631.5 840 L630.5 840 L629.5 840 L628.5 838 L627.5 837 L626.5 837 L625.5 818 L624.5 817 L623.5 817 L622.5 817 L621.5 817 L620.5 817 L619.5 829 L618.5 831 L617.5 832 L616.5 838 L615.5 838 L614.5 839 L613.5 840 L612.5 835 L611.5 835 L610.5 835 L609.5 835 L608.5 843 L607.5 842 L606.5 842 L605.5 842 L604.5 842 L603.5 844 L602.5 844 L601.5 844 L600.5 844 L599.5 844 L598.5 845 L597.5 850 L596.5 851 L595.5 852 L594.5 852 L593.5 848 L592.5 848 L591.5 848 L590.5 851 L589.5 851 L588.5 850 L587.5 849 L586.5 848 L585.5 846 L584.5 846 L583.5 846 L582.5 855 L581.5 855 L580.5 855 L579.5 863 L578.5 866 L577.5 866 L576.5 860 L575.5 859 L574.5 859 L573.5 847 L572.5 845 L571.5 845 L570.5 845 L569.5 845 L568.5 849 L567.5 841 L566.5 841 L565.5 841 L564.5 841 L563.5 848 L562.5 851 L561.5 852 L560.5 866 L559.5 866 L558.5 867 L557.5 863 L556.5 857 L555.5 856 L554.5 844 L553.5 844 L552.5 844 L551.5 849 L550.5 847 L549.5 844 L548.5 835 L547.5 835 L546.5 835 L545.5 841 L544.5 840 L543.5 840 L542.5 840 L541.5 844 L540.5 844 L539.5 845 L538.5 856 L537.5 856 L536.5 857 L535.5 858 L534.5 859 L533.5 860 L532.5 860 L531.5 865 L530.5 875 L529.5 881 L528.5 886 L527.5 896 L526.5 896 L525.5 889 L524.5 889 L523.5 885 L522.5 884 L521.5 884 L520.5 884 L519.5 883 L518.5 880 L517.5 880 L516.5 879 L515.5 879 L514.5 879 L513.5 881 L512.5 889 L511.5 890 L510.5 889 L509.5 889 L508.5 889 L507.5 891 L506.5 891 L505.5 888 L504.5 888 L503.5 879 L502.5 873 L501.5 865 L500.5 865 L499.5 857 L498.5 855 L497.5 855 L496.5 854 L495.5 848 L494.5 847 L493.5 843 L492.5 841 L491.5 841 L490.5 841 L489.5 841 L488.5 840 L487.5 839 L486.5 839 L485.5 838 L484.5 838 L483.5 838 L482.5 838 L481.5 838 L480.5 848 L479.5 848 L478.5 848 L477.5 849 L476.5 863 L475.5 863 L474.5 867 L473.5 868 L472.5 868 L471.5 865 L470.5 865 L469.5 860 L468.5 851 L467.5 851 L466.5 851 L465.5 866 L464.5 867 L463.5 866 L462.5 866 L461.5 866 L460.5 869 L459.5 878 L458.5 875 L457.5 875 L456.5 875 L455.5 875 L454.5 869 L453.5 869 L452.5 869 L451.5 869 L450.5 882 L449.5 882 L448.5 882 L447.5 888 L446.5 888 L445.5 888 L444.5 888 L443.5 880 L442.5 880 L441.5 879 L440.5 876 L439.5 874 L438.5 874 L437.5 863 L436.5 856 L435.5 856 L434.5 856 L433.5 876 L432.5 876 L431.5 877 L430.5 882 L429.5 881 L428.5 880 L427.5 877 L426.5 869 L425.5 869 L424.5 869 L423.5 869 L422.5 878 L421.5 878 L420.5 878 L419.5 880 L418.5 884 L417.5 889 L416.5 908 L415.5 908 L414.5 909 L413.5 925 L412.5 925 L411.5 910 L410.5 910 L409.5 910 L408.5 921 L407.5 937 L406.5 937 L405.5 956 L404.5 956 L403.5 992 L402.5 952 L401.5 952 L400.5 951 L399.5 950 L398.5 933 L397.5 932 L396.5 932 L395.5 924 L394.5 922 L393.5 922 L392.5 922 L391.5 925 L390.5 926 L389.5 926 L388.5 926 L387.5 925 L386.5 923 L385.5 920 L384.5 920 L383.5 920 L382.5 922 L381.5 933 L380.5 933 L379.5 921 L378.5 921 L377.5 921 L376.5 921 L375.5 921 L374.5 915 L373.5 915 L372.5 910 L371.5 909 L370.5 909 L369.5 909 L368.5 918 L367.5 918 L366.5 919 L365.5 915 L364.5 914 L363.5 914 L362.5 911 L361.5 911 L360.5 911 L359.5 910 L358.5 910 L357.5 910 L356.5 910 L355.5 904 L354.5 903 L353.5 903 L352.5 903 L351.5 902 L350.5 902 L349.5 902 L348.5 902 L347.5 903 L346.5 904 L345.5 909 L344.5 915 L343.5 906 L342.5 906 L341.5 906 L340.5 909 L339.5 909 L338.5 907 L337.5 902 L336.5 901 L335.5 901 L334.5 901 L333.5 901 L332.5 901 L331.5 901 L330.5 901 L329.5 901 L328.5 904 L327.5 904 L326.5 904 L325.5 916 L324.5 917 L323.5 918 L322.5 918 L321.5 929 L320.5 929 L319.5 929 L318.5 929 L317.5 930 L316.5 930 L315.5 930 L314.5 930 L313.5 939 L312.5 936 L311.5 936 L310.5 936 L309.5 935 L308.5 935 L307.5 935 L306.5 935 L305.5 928 L304.5 927 L303.5 913 L302.5 913 L301.5 907 L300.5 907 L299.5 907 L298.5 908 L297.5 910 L296.5 914 L295.5 917 L294.5 917 L293.5 917 L292.5 917 L291.5 923 L290.5 923 L289.5 924 L288.5 925 L287.5 933 L286.5 933 L285.5 940 L284.5 940 L283.5 950 L282.5 954 L281.5 955 L280.5 954 L279.5 954 L278.5 954 L277.5 954 L276.5 967 L275.5 977 L274.5 985 L273.5 992 L272.5 993 L271.5 993 L270.5 996 L269.5 997 L268.5 1002 L267.5 1001 L266.5 1000 L265.5 1000 L264.5 1000 L263.5 1007 L262.5 993 L261.5 989 L260.5 987 L259.5 987 L258.5 987 L257.5 995 L256.5 996 L255.5 996 L254.5 994 L253.5 994 L252.5 994 L251.5 1003 L250.5 1000 L249.5 995 L248.5 989 L247.5 984 L246.5 979 L245.5 979 L244.5 979 L243.5 979 L242.5 989 L241.5 990 L240.5 990 L239.5 994 L238.5 995 L237.5 995 L236.5 998 L235.5 982 L234.5 981 L233.5 981 L232.5 975 L231.5 975 L230.5 974 L229.5 964 L228.5 962 L227.5 962 L226.5 962 L225.5 963 L224.5 951 L223.5 951 L222.5 951 L221.5 974 L220.5 976 L219.5 996 L218.5 996 L217.5 995 L216.5 992 L215.5 980 L214.5 979 L213.5 979 L212.5 979 L211.5 981 L210.5 988 L209.5 986 L208.5 979 L207.5 972 L206.5 971 L205.5 965 L204.5 965 L203.5 965 L202.5 966 L201.5 979 L200.5 978 L199.5 978 L198.5 978 L197.5 980 L196.5 980 L195.5 974 L194.5 972 L193.5 952 L192.5 952 L191.5 952 L190.5 952 L189.5 954 L188.5 967 L187.5 966 L186.5 966 L185.5 966 L184.5 972 L183.5 970 L182.5 969 L181.5 968 L180.5 965 L179.5 965 L178.5 965 L177.5 966 L176.5 971 L175.5 977 L174.5 987 L173.5 987 L172.5 989 L171.5 1000 L170.5 1012 L169.5 1019 L168.5 1024 L167.5 1024 L166.5 1024 L165.5 1025 L164.5 1024 L163.5 1021 L162.5 1018 L161.5 1011 L160.5 1008 L159.5 1008 L158.5 1007 L157.5 1007 L156.5 1007 L155.5 1010 L154.5 1010 L153.5 1008 L152.5 1006 L151.5 1000 L150.5 991 L149.5 990 L148.5 990 L147.5 990 L146.5 990 L145.5 986 L144.5 977 L143.5 977 L142.5 977 L141.5 982 L140.5 983 L139.5 987 L138.5 994 L137.5 995 L136.5 985 L135.5 980 L134.5 976 L133.5 976 L132.5 976 L131.5 977 L130.5 976 L129.5 976 L128.5 976 L127.5 976 L126.5 976 L125.5 977 L124.5 972 L123.5 971 L122.5 970 L121.5 969 L120.5 969 L119.5 969ZM676.5 729 L677.5 726 L678.5 707 L679.5 691 L680.5 697 L681.5 709 L682.5 709 L683.5 709 L684.5 710 L685.5 711 L686.5 711 L687.5 714 L688.5 714 L689.5 724 L690.5 724 L691.5 725 L692.5 726 L693.5 726 L694.5 726 L695.5 724 L696.5 729 L697.5 737 L698.5 745 L699.5 746 L700.5 746 L701.5 746 L702.5 746 L703.5 746 L704.5 746 L705.5 746 L706.5 705 L707.5 711 L708.5 722 L709.5 731 L710.5 731 L711.5 735 L712.5 746 L713.5 757 L714.5 757 L715.5 757 L716.5 741 L717.5 737 L718.5 741 L719.5 741 L720.5 741 L721.5 740 L722.5 739 L723.5 740 L724.5 743 L725.5 743 L726.5 743 L727.5 742 L728.5 726 L729.5 720 L730.5 710 L731.5 703 L732.5 704 L733.5 725 L734.5 725 L735.5 725 L736.5 725 L737.5 725 L738.5 696 L739.5 696 L740.5 696 L741.5 792 L742.5 792 L743.5 792 L744.5 670 L745.5 676 L746.5 679 L747.5 695 L748.5 695 L749.5 695 L750.5 694 L751.5 694 L752.5 695 L753.5 709 L754.5 718 L755.5 718 L756.5 718 L757.5 708 L758.5 703 L759.5 703 L760.5 704 L761.5 705 L762.5 705 L763.5 705 L764.5 705 L765.5 705 L766.5 705 L767.5 692 L768.5 685 L769.5 684 L770.5 690 L771.5 712 L772.5 714 L773.5 714 L774.5 723 L775.5 731 L776.5 742 L777.5 781 L778.5 782 L779.5 806 L780.5 807 L781.5 815 L782.5 828 L783.5 837 L784.5 838 L785.5 839 L786.5 839 L787.5 839 L788.5 837 L789.5 836 L790.5 834 L791.5 828 L792.5 822 L793.5 812 L794.5 811 L795.5 807 L796.5 800 L797.5 785 L798.5 777 L799.5 777 L800.5 778 L801.5 786 L802.5 789 L803.5 789 L804.5 791 L805.5 793 L806.5 793 L807.5 793 L808.5 793 L809.5 793 L810.5 793 L811.5 791 L812.5 800 L813.5 801 L814.5 806 L815.5 834 L816.5 845 L817.5 853 L818.5 858 L819.5 858 L820.5 858 L821.5 850 L822.5 845 L823.5 837 L824.5 836 L825.5 825 L826.5 824 L827.5 824 L828.5 824 L829.5 825 L830.5 826 L831.5 826 L832.5 826 L833.5 816 L834.5 822 L835.5 837 L836.5 845 L837.5 856 L838.5 857 L839.5 857 L840.5 857 L841.5 855 L842.5 854 L843.5 853 L844.5 852 L845.5 852 L846.5 854 L847.5 854 L848.5 858 L849.5 865 L850.5 868 L851.5 869 L852.5 877 L853.5 878 L854.5 878 L855.5 878 L856.5 865 L857.5 865 L858.5 857 L859.5 847 L860.5 833 L861.5 828 L862.5 820 L863.5 814 L864.5 813 L865.5 808 L866.5 802 L867.5 804 L868.5 807 L869.5 808 L870.5 809 L871.5 813 L872.5 814 L873.5 814 L874.5 815 L875.5 818 L876.5 818 L877.5 818 L878.5 820 L879.5 821 L880.5 822 L881.5 822 L882.5 822 L883.5 821 L884.5 828 L885.5 838 L886.5 850 L887.5 850 L888.5 850 L889.5 850 L890.5 850 L891.5 845 L892.5 833 L893.5 822 L894.5 821 L895.5 825 L896.5 826 L897.5 826 L898.5 830 L899.5 830 L900.5 830 L901.5 830 L902.5 823 L903.5 824 L904.5 826 L905.5 827 L906.5 829 L907.5 847 L908.5 852 L909.5 852 L910.5 852 L911.5 853 L912.5 854 L913.5 858 L914.5 860 L915.5 863 L916.5 865 L917.5 867 L918.5 867 L919.5 867 L920.5 863 L921.5 869 L922.5 870 L923.5 870 L924.5 870 L925.5 870 L926.5 869 L927.5 864 L928.5 852 L929.5 846 L930.5 845 L931.5 838 L932.5 830 L933.5 829 L934.5 828 L935.5 822 L936.5 817 L937.5 810 L938.5 811 L939.5 813 L940.5 814 L941.5 822 L942.5 823 L943.5 825 L944.5 827 L945.5 832 L946.5 832 L947.5 832 L948.5 838 L949.5 839 L950.5 839 L951.5 839 L952.5 840 L953.5 843 L954.5 843 L955.5 852 L956.5 852 L957.5 856 L958.5 873 L959.5 880 L960.5 890 L961.5 891 L962.5 891 L963.5 891 L964.5 890 L965.5 889 L966.5 888 L967.5 888 L968.5 873 L969.5 872 L970.5 863 L971.5 858 L972.5 856 L973.5 849 L974.5 843 L975.5 836 L976.5 832 L977.5 837 L978.5 839 L979.5 839 L980.5 839 L981.5 839 L982.5 844 L983.5 846 L984.5 847 L985.5 847 L986.5 847 L987.5 843 L988.5 841 L989.5 847 L990.5 847 L991.5 848 L992.5 851 L993.5 852 L994.5 858 L995.5 862 L996.5 872 L997.5 876 L998.5 877 L999.5 880 L1000.5 886 L1001.5 886 L1002.5 886 L1003.5 885 L1004.5 877 L1005.5 871 L1006.5 863 L1007.5 861 L1008.5 854 L1009.5 851 L1010.5 847 L1011.5 847 L1012.5 858 L1013.5 859 L1014.5 859 L1015.5 859 L1016.5 854 L1017.5 846 L1018.5 846 L1019.5 846 L1020.5 847 L1021.5 849 L1022.5 850 L1023.5 854 L1024.5 855 L1025.5 855 L1026.5 855 L1027.5 855 L1028.5 854 L1029.5 855 L1030.5 855 L1031.5 855 L1032.5 854 L1033.5 853 L1034.5 847 L1035.5 843 L1036.5 843 L1037.5 845 L1038.5 850 L1039.5 857 L1040.5 858 L1041.5 870 L1042.5 882 L1043.5 892 L1044.5 892 L1045.5 892 L1046.5 892 L1047.5 892 L1048.5 879 L1049.5 867 L1050.5 866 L1051.5 861 L1052.5 866 L1053.5 867 L1054.5 867 L1055.5 867 L1056.5 861 L1057.5 855 L1058.5 852 L1059.5 851 L1060.5 851 L1061.5 844 L1062.5 843 L1063.5 843 L1064.5 843 L1065.5 842 L1066.5 841 L1067.5 841 L1068.5 841 L1069.5 835 L1070.5 838 L1071.5 840 L1072.5 848 L1073.5 850 L1074.5 853 L1075.5 855 L1076.5 858 L1077.5 858 L1078.5 858 L1079.5 858 L1080.5 858 L1081.5 858 L1082.5 863 L1083.5 866 L1084.5 869 L1085.5 870 L1086.5 872 L1087.5 872 L1088.5 872 L1089.5 872 L1090.5 869 L1091.5 868 L1092.5 861 L1093.5 861 L1094.5 860 L1095.5 860 L1096.5 858 L1097.5 859 L1098.5 859 L1099.5 860 L1100.5 861 L1101.5 862 L1102.5 863 L1103.5 867 L1104.5 873 L1105.5 877 L1106.5 877 L1107.5 877 L1108.5 876 L1109.5 874 L1110.5 874 L1111.5 875 L1112.5 876 L1113.5 876 L1114.5 877 L1115.5 881 L1116.5 881 L1117.5 882 L1118.5 882 L1119.5 884 L1120.5 884 L1121.5 885 L1122.5 887 L1123.5 887 L1124.5 887 L1125.5 887 L1126.5 874 L1127.5 864 L1128.5 857 L1129.5 854 L1130.5 845 L1131.5 844 L1132.5 839 L1133.5 838 L1134.5 843 L1135.5 845 L1136.5 847 L1137.5 864 L1138.5 867 L1139.5 873 L1140.5 873 L1141.5 873 L1142.5 868 L1143.5 867 L1144.5 862 L1145.5 854 L1146.5 855 L1147.5 858 L1148.5 858 L1149.5 858 L1150.5 857 L1151.5 852 L1152.5 847 L1153.5 843 L1154.5 841 L1155.5 836 L1156.5 840 L1157.5 842 L1158.5 843 L1159.5 843 L1160.5 848 L1161.5 855 L1162.5 857 L1163.5 865 L1164.5 866 L1165.5 867 L1166.5 873 L1167.5 874 L1168.5 874 L1169.5 874 L1170.5 874 L1171.5 871 L1172.5 870 L1173.5 870 L1174.5 863 L1175.5 863 L1176.5 863 L1177.5 863 L1178.5 854 L1179.5 854 L1180.5 854 L1181.5 854 L1182.5 854 L1183.5 855 L1184.5 859 L1185.5 861 L1186.5 863 L1187.5 863 L1188.5 864 L1189.5 866 L1190.5 866 L1191.5 867 L1192.5 871 L1193.5 871 L1194.5 871 L1195.5 871 L1196.5 870 L1197.5 869 L1198.5 867 L1199.5 864 L1200.5 864 L1201.5 868 L1202.5 868 L1203.5 870 L1204.5 870 L1205.5 870 L1206.5 863 L1207.5 857 L1208.5 857 L1209.5 857 L1210.5 857 L1211.5 857 L1212.5 862 L1213.5 863 L1214.5 863 L1215.5 864 L1216.5 868 L1217.5 872 L1218.5 876 L1219.5 893 L1220.5 903 L1221.5 905 L1222.5 906 L1223.5 906 L1224.5 911 L1225.5 912 L1226.5 913 L1227.5 916 L1228.5 917 L1229.5 917 L1230.5 917 L1231.5 915 L1232.5 914 L1233.5 909 L1234.5 909 L1235.5 907 L1236.5 901 L1237.5 900 L1238.5 898 L1239.5 897 L1240.5 895 L1241.5 890 L1242.5 890 L1243.5 890 L1244.5 890 L1245.5 890 L1246.5 890 L1247.5 890 L1248.5 891 L1249.5 891 L1250.5 891 L1251.5 891 L1252.5 896 L1253.5 897 L1254.5 898 L1255.5 908 L1256.5 915 L1257.5 918 L1258.5 926 L1259.5 942 L1260.5 943 L1261.5 943 L1262.5 943 L1263.5 939 L1264.5 932 L1265.5 926 L1266.5 920 L1267.5 908 L1268.5 898 L1269.5 896 L1270.5 894 L1271.5 893 L1272.5 889 L1273.5 881 L1274.5 878 L1275.5 886 L1276.5 890 L1277.5 890 L1278.5 891 L1279.5 907 L1280.5 910 L1281.5 910 L1282.5 910 L1283.5 910 L1284.5 909 L1285.5 910 L1286.5 915 L1287.5 916 L1288.5 917 L1289.5 920 L1290.5 922 L1291.5 922 L1292.5 923 L1293.5 924 L1294.5 924 L1295.5 924 L1296.5 923 L1297.5 917 L1298.5 917 L1299.5 920 L1300.5 920 L1301.5 920 L1302.5 923 L1303.5 923 L1304.5 923 L1305.5 923 L1306.5 913 L1307.5 908 L1308.5 912 L1309.5 916 L1310.5 917 L1311.5 920 L1312.5 922 L1313.5 922 L1314.5 926 L1315.5 926 L1316.5 926 L1317.5 921 L1318.5 921 L1319.5 919 L1320.5 917 L1321.5 901 L1322.5 900 L1323.5 900 L1324.5 893 L1325.5 895 L1326.5 895 L1327.5 895 L1328.5 894 L1329.5 889 L1330.5 888 L1331.5 887 L1332.5 888 L1333.5 891 L1334.5 894 L1335.5 894 L1336.5 898 L1337.5 901 L1338.5 902 L1339.5 906 L1340.5 907 L1341.5 907 L1342.5 907 L1343.5 907 L1344.5 911 L1345.5 921 L1346.5 921 L1347.5 921 L1348.5 921 L1349.5 913 L1350.5 895 L1351.5 889 L1352.5 884 L1353.5 886 L1354.5 887 L1355.5 887 L1356.5 887 L1357.5 887 L1358.5 886 L1359.5 881 L1360.5 887 L1361.5 892 L1362.5 894 L1363.5 901 L1364.5 902 L1365.5 902 L1366.5 903 L1367.5 906 L1368.5 906 L1369.5 906 L1370.5 902 L1371.5 906 L1372.5 907 L1373.5 913 L1374.5 914 L1375.5 915 L1376.5 917 L1377.5 917 L1378.5 917 L1379.5 915 L1380.5 915 L1381.5 914 L1382.5 914 L1383.5 913 L1384.5 911 L1385.5 910 L1386.5 910 L1387.5 909 L1388.5 914 L1389.5 916 L1390.5 917 L1391.5 917 L1392.5 918 L1393.5 918 L1394.5 918 L1395.5 917 L1396.5 916 L1397.5 916 L1398.5 911 L1399.5 917 L1400.5 918 L1401.5 919 L1402.5 920 L1403.5 923 L1404.5 924 L1405.5 924 L1406.5 924 L1407.5 924 L1408.5 916 L1409.5 917 L1410.5 920 L1411.5 921 L1412.5 928 L1413.5 928 L1414.5 928 L1415.5 928 L1416.5 928 L1417.5 927 L1418.5 926 L1419.5 926 L1420.5 925 L1421.5 922 L1422.5 922 L1423.5 926 L1424.5 926 L1425.5 926 L1426.5 921 L1427.5 923 L1428.5 925 L1429.5 928 L1430.5 931 L1431.5 931 L1432.5 931 L1433.5 927 L1434.5 926 L1435.5 922 L1436.5 913 L1437.5 912 L1438.5 905 L1439.5 904 L1440.5 903 L1441.5 902 L1442.5 900 L1443.5 889 L1444.5 888 L1445.5 885 L1446.5 884 L1447.5 880 L1448.5 880 L1449.5 880 L1449.5 933 L1448.5 933 L1447.5 936 L1446.5 941 L1445.5 944 L1444.5 946 L1443.5 948 L1442.5 962 L1441.5 963 L1440.5 963 L1439.5 963 L1438.5 963 L1437.5 966 L1436.5 971 L1435.5 976 L1434.5 984 L1433.5 988 L1432.5 993 L1431.5 993 L1430.5 994 L1429.5 993 L1428.5 984 L1427.5 977 L1426.5 973 L1425.5 973 L1424.5 973 L1423.5 973 L1422.5 971 L1421.5 971 L1420.5 971 L1419.5 971 L1418.5 975 L1417.5 976 L1416.5 978 L1415.5 979 L1414.5 980 L1413.5 979 L1412.5 978 L1411.5 978 L1410.5 978 L1409.5 978 L1408.5 983 L1407.5 983 L1406.5 984 L1405.5 991 L1404.5 992 L1403.5 987 L1402.5 986 L1401.5 982 L1400.5 982 L1399.5 981 L1398.5 981 L1397.5 981 L1396.5 983 L1395.5 984 L1394.5 979 L1393.5 979 L1392.5 979 L1391.5 979 L1390.5 979 L1389.5 980 L1388.5 980 L1387.5 974 L1386.5 970 L1385.5 970 L1384.5 970 L1383.5 971 L1382.5 973 L1381.5 978 L1380.5 981 L1379.5 981 L1378.5 979 L1377.5 979 L1376.5 979 L1375.5 978 L1374.5 975 L1373.5 968 L1372.5 968 L1371.5 965 L1370.5 957 L1369.5 957 L1368.5 957 L1367.5 955 L1366.5 954 L1365.5 954 L1364.5 953 L1363.5 953 L1362.5 953 L1361.5 946 L1360.5 938 L1359.5 938 L1358.5 938 L1357.5 938 L1356.5 939 L1355.5 939 L1354.5 944 L1353.5 948 L1352.5 954 L1351.5 968 L1350.5 987 L1349.5 1005 L1348.5 1010 L1347.5 1010 L1346.5 997 L1345.5 982 L1344.5 975 L1343.5 971 L1342.5 962 L1341.5 962 L1340.5 954 L1339.5 954 L1338.5 954 L1337.5 953 L1336.5 944 L1335.5 941 L1334.5 940 L1333.5 940 L1332.5 938 L1331.5 936 L1330.5 936 L1329.5 936 L1328.5 941 L1327.5 941 L1326.5 950 L1325.5 952 L1324.5 956 L1323.5 962 L1322.5 972 L1321.5 977 L1320.5 993 L1319.5 996 L1318.5 1002 L1317.5 998 L1316.5 992 L1315.5 986 L1314.5 984 L1313.5 983 L1312.5 982 L1311.5 981 L1310.5 977 L1309.5 970 L1308.5 968 L1307.5 967 L1306.5 967 L1305.5 967 L1304.5 967 L1303.5 967 L1302.5 967 L1301.5 967 L1300.5 967 L1299.5 967 L1298.5 975 L1297.5 975 L1296.5 978 L1295.5 979 L1294.5 980 L1293.5 974 L1292.5 974 L1291.5 973 L1290.5 973 L1289.5 972 L1288.5 968 L1287.5 967 L1286.5 965 L1285.5 961 L1284.5 961 L1283.5 961 L1282.5 962 L1281.5 962 L1280.5 961 L1279.5 959 L1278.5 958 L1277.5 957 L1276.5 956 L1275.5 955 L1274.5 955 L1273.5 955 L1272.5 955 L1271.5 957 L1270.5 958 L1269.5 966 L1268.5 970 L1267.5 978 L1266.5 989 L1265.5 993 L1264.5 993 L1263.5 993 L1262.5 999 L1261.5 998 L1260.5 998 L1259.5 991 L1258.5 990 L1257.5 982 L1256.5 979 L1255.5 968 L1254.5 964 L1253.5 960 L1252.5 960 L1251.5 960 L1250.5 963 L1249.5 964 L1248.5 963 L1247.5 960 L1246.5 960 L1245.5 958 L1244.5 956 L1243.5 956 L1242.5 956 L1241.5 956 L1240.5 961 L1239.5 964 L1238.5 964 L1237.5 964 L1236.5 974 L1235.5 970 L1234.5 968 L1233.5 967 L1232.5 963 L1231.5 963 L1230.5 963 L1229.5 963 L1228.5 966 L1227.5 966 L1226.5 967 L1225.5 968 L1224.5 970 L1223.5 981 L1222.5 982 L1221.5 982 L1220.5 972 L1219.5 965 L1218.5 957 L1217.5 939 L1216.5 925 L1215.5 923 L1214.5 921 L1213.5 921 L1212.5 921 L1211.5 922 L1210.5 923 L1209.5 924 L1208.5 925 L1207.5 927 L1206.5 928 L1205.5 934 L1204.5 935 L1203.5 935 L1202.5 927 L1201.5 926 L1200.5 925 L1199.5 924 L1198.5 923 L1197.5 918 L1196.5 918 L1195.5 918 L1194.5 909 L1193.5 909 L1192.5 909 L1191.5 908 L1190.5 908 L1189.5 908 L1188.5 908 L1187.5 908 L1186.5 909 L1185.5 909 L1184.5 907 L1183.5 907 L1182.5 907 L1181.5 908 L1180.5 908 L1179.5 914 L1178.5 914 L1177.5 915 L1176.5 916 L1175.5 917 L1174.5 917 L1173.5 917 L1172.5 922 L1171.5 925 L1170.5 925 L1169.5 925 L1168.5 925 L1167.5 924 L1166.5 922 L1165.5 922 L1164.5 921 L1163.5 921 L1162.5 920 L1161.5 913 L1160.5 913 L1159.5 913 L1158.5 913 L1157.5 913 L1156.5 912 L1155.5 910 L1154.5 910 L1153.5 910 L1152.5 915 L1151.5 921 L1150.5 922 L1149.5 922 L1148.5 926 L1147.5 924 L1146.5 918 L1145.5 918 L1144.5 918 L1143.5 921 L1142.5 922 L1141.5 927 L1140.5 931 L1139.5 933 L1138.5 934 L1137.5 934 L1136.5 924 L1135.5 917 L1134.5 916 L1133.5 911 L1132.5 910 L1131.5 907 L1130.5 907 L1129.5 907 L1128.5 911 L1127.5 931 L1126.5 941 L1125.5 949 L1124.5 950 L1123.5 951 L1122.5 946 L1121.5 940 L1120.5 939 L1119.5 939 L1118.5 939 L1117.5 939 L1116.5 940 L1115.5 943 L1114.5 943 L1113.5 943 L1112.5 943 L1111.5 943 L1110.5 943 L1109.5 944 L1108.5 945 L1107.5 945 L1106.5 945 L1105.5 946 L1104.5 945 L1103.5 938 L1102.5 936 L1101.5 930 L1100.5 928 L1099.5 922 L1098.5 921 L1097.5 921 L1096.5 920 L1095.5 918 L1094.5 918 L1093.5 918 L1092.5 920 L1091.5 921 L1090.5 922 L1089.5 921 L1088.5 921 L1087.5 921 L1086.5 921 L1085.5 920 L1084.5 919 L1083.5 918 L1082.5 918 L1081.5 918 L1080.5 918 L1079.5 919 L1078.5 919 L1077.5 915 L1076.5 914 L1075.5 912 L1074.5 912 L1073.5 912 L1072.5 912 L1071.5 912 L1070.5 912 L1069.5 912 L1068.5 912 L1067.5 911 L1066.5 911 L1065.5 911 L1064.5 911 L1063.5 918 L1062.5 918 L1061.5 919 L1060.5 919 L1059.5 920 L1058.5 921 L1057.5 923 L1056.5 924 L1055.5 924 L1054.5 923 L1053.5 923 L1052.5 923 L1051.5 923 L1050.5 928 L1049.5 933 L1048.5 935 L1047.5 945 L1046.5 944 L1045.5 943 L1044.5 943 L1043.5 942 L1042.5 936 L1041.5 934 L1040.5 919 L1039.5 905 L1038.5 897 L1037.5 893 L1036.5 893 L1035.5 893 L1034.5 900 L1033.5 902 L1032.5 902 L1031.5 906 L1030.5 906 L1029.5 905 L1028.5 905 L1027.5 905 L1026.5 905 L1025.5 907 L1024.5 908 L1023.5 912 L1022.5 912 L1021.5 912 L1020.5 912 L1019.5 915 L1018.5 915 L1017.5 913 L1016.5 907 L1015.5 907 L1014.5 905 L1013.5 904 L1012.5 898 L1011.5 896 L1010.5 896 L1009.5 896 L1008.5 903 L1007.5 905 L1006.5 920 L1005.5 924 L1004.5 927 L1003.5 933 L1002.5 934 L1001.5 938 L1000.5 934 L999.5 932 L998.5 931 L997.5 930 L996.5 923 L995.5 923 L994.5 918 L993.5 918 L992.5 918 L991.5 912 L990.5 905 L989.5 905 L988.5 905 L987.5 905 L986.5 904 L985.5 900 L984.5 896 L983.5 896 L982.5 896 L981.5 894 L980.5 893 L979.5 891 L978.5 890 L977.5 886 L976.5 886 L975.5 886 L974.5 904 L973.5 908 L972.5 910 L971.5 916 L970.5 918 L969.5 934 L968.5 935 L967.5 935 L966.5 942 L965.5 942 L964.5 942 L963.5 944 L962.5 945 L961.5 945 L960.5 942 L959.5 942 L958.5 941 L957.5 941 L956.5 933 L955.5 914 L954.5 911 L953.5 908 L952.5 907 L951.5 901 L950.5 901 L949.5 899 L948.5 898 L947.5 893 L946.5 893 L945.5 892 L944.5 892 L943.5 885 L942.5 885 L941.5 885 L940.5 886 L939.5 887 L938.5 888 L937.5 888 L936.5 888 L935.5 888 L934.5 893 L933.5 898 L932.5 904 L931.5 908 L930.5 919 L929.5 920 L928.5 921 L927.5 921 L926.5 935 L925.5 936 L924.5 936 L923.5 936 L922.5 936 L921.5 936 L920.5 936 L919.5 937 L918.5 939 L917.5 940 L916.5 939 L915.5 935 L914.5 934 L913.5 933 L912.5 926 L911.5 926 L910.5 926 L909.5 926 L908.5 931 L907.5 932 L906.5 930 L905.5 911 L904.5 911 L903.5 911 L902.5 916 L901.5 916 L900.5 915 L899.5 910 L898.5 910 L897.5 910 L896.5 911 L895.5 911 L894.5 911 L893.5 913 L892.5 914 L891.5 927 L890.5 928 L889.5 937 L888.5 937 L887.5 923 L886.5 912 L885.5 907 L884.5 900 L883.5 877 L882.5 870 L881.5 869 L880.5 869 L879.5 869 L878.5 869 L877.5 870 L876.5 873 L875.5 876 L874.5 876 L873.5 883 L872.5 883 L871.5 879 L870.5 877 L869.5 877 L868.5 877 L867.5 872 L866.5 872 L865.5 872 L864.5 877 L863.5 889 L862.5 891 L861.5 906 L860.5 911 L859.5 921 L858.5 937 L857.5 937 L856.5 937 L855.5 945 L854.5 958 L853.5 954 L852.5 948 L851.5 941 L850.5 939 L849.5 930 L848.5 928 L847.5 920 L846.5 918 L845.5 918 L844.5 918 L843.5 917 L842.5 917 L841.5 917 L840.5 917 L839.5 916 L838.5 915 L837.5 915 L836.5 912 L835.5 911 L834.5 909 L833.5 905 L832.5 904 L831.5 904 L830.5 904 L829.5 909 L828.5 907 L827.5 907 L826.5 906 L825.5 904 L824.5 904 L823.5 904 L822.5 905 L821.5 911 L820.5 913 L819.5 915 L818.5 919 L817.5 918 L816.5 915 L815.5 907 L814.5 899 L813.5 892 L812.5 885 L811.5 879 L810.5 872 L809.5 868 L808.5 865 L807.5 861 L806.5 859 L805.5 858 L804.5 858 L803.5 858 L802.5 863 L801.5 863 L800.5 863 L799.5 863 L798.5 867 L797.5 869 L796.5 882 L795.5 883 L794.5 891 L793.5 898 L792.5 898 L791.5 898 L790.5 898 L789.5 910 L788.5 918 L787.5 924 L786.5 928 L785.5 935 L784.5 935 L783.5 933 L782.5 933 L781.5 916 L780.5 913 L779.5 885 L778.5 882 L777.5 873 L776.5 844 L775.5 819 L774.5 814 L773.5 806 L772.5 805 L771.5 796 L770.5 795 L769.5 794 L768.5 794 L767.5 794 L766.5 804 L765.5 804 L764.5 803 L763.5 803 L762.5 803 L761.5 805 L760.5 810 L759.5 805 L758.5 803 L757.5 802 L756.5 802 L755.5 802 L754.5 803 L753.5 805 L752.5 806 L751.5 819 L750.5 825 L749.5 826 L748.5 829 L747.5 840 L746.5 855 L745.5 848 L744.5 848 L743.5 848 L742.5 908 L741.5 909 L740.5 911 L739.5 915 L738.5 906 L737.5 894 L736.5 872 L735.5 860 L734.5 850 L733.5 834 L732.5 834 L731.5 834 L730.5 834 L729.5 840 L728.5 840 L727.5 840 L726.5 856 L725.5 856 L724.5 862 L723.5 849 L722.5 849 L721.5 849 L720.5 853 L719.5 862 L718.5 860 L717.5 860 L716.5 860 L715.5 872 L714.5 877 L713.5 877 L712.5 864 L711.5 844 L710.5 836 L709.5 835 L708.5 835 L707.5 835 L706.5 853 L705.5 853 L704.5 853 L703.5 869 L702.5 875 L701.5 879 L700.5 861 L699.5 859 L698.5 859 L697.5 859 L696.5 860 L695.5 860 L694.5 862 L693.5 870 L692.5 877 L691.5 875 L690.5 875 L689.5 852 L688.5 852 L687.5 852 L686.5 850 L685.5 850 L684.5 850 L683.5 866 L682.5 866 L681.5 847 L680.5 845 L679.5 845 L678.5 845 L677.5 865 L676.5 803Z" fill="#1f77b4"/>
<path d="M740.1 650.9h0M663.2 695.8h0M672.5 702.5h0M744.9 636.7h0M677.6 643.5h0M743.4 656.1h0M670.2 695.6h0M737.4 673.5h0M656 1002.7h0M662.8 706.5h0M743.9 660.3h0M664.9 702.6h0M677.1 900.5h0M736.1 673h0M742.4 925.5h0M653.7 741.7h0M738.6 678.4h0M665 951.6h0M742.5 922.7h0M656 996.7h0M667.1 936.1h0M663.9 707.6h0M655.9 754.7h0M667.6 935.2h0M669.2 699.8h0M662.2 714.2h0M674.7 686.7h0M736.6 916.6h0M665.5 710.9h0M661.5 727.8h0M661.6 727.9h0M744.7 651.1h0M742.8 683.5h0M656.6 758.7h0M740.4 685.3h0M664.3 944.5h0M740.6 686.7h0M737.1 686.6h0M743.1 901.6h0M743.8 901.5h0M659.5 976.9h0M668.6 927.9h0M739.1 914.4h0M743.6 673.1h0M435 911.4h0M742.6 687.9h0M676.2 678h0M745.6 867.5h0M670.8 713h0M678.2 650.3h0M683.1 890.2h0M742.8 688.8h0M672.2 945.9h0M744.1 879.5h0M665.7 718.2h0M739.5 690h0M661.7 955.9h0M680 654.1h0M743.9 896.8h0M737.5 691.9h0M650.1 956.3h0M739.8 910h0M677.1 665.8h0M675.1 906.3h0M661.6 954.4h0M653.2 756.8h0M736 690.8h0M740.3 909.3h0M680.2 880.9h0M673.5 715.4h0M658.4 974h0M668.6 707.2h0M672.5 727.7h0M671 725.3h0M648.5 729.4h0M665.6 722.9h0M746.2 860.7h0M675.1 903.4h0M651.7 741.3h0M682.5 669.4h0M736.3 903.4h0M649.2 739.9h0M737.6 696.9h0M662 950.2h0M741.7 907.4h0M665.9 933.4h0M747.3 662.3h0M738.7 905.3h0M670.6 720.8h0M664.3 932.6h0M744.5 872.3h0M739 697h0M743.9 682.9h0M734.5 892.8h0M665 725.8h0M663.1 724.8h0M670.6 928.2h0M743 683.6h0M667.2 712.4h0M671.8 729.1h0M744.3 665.9h0M646.5 729.2h0M669.2 717.8h0M653.9 966.7h0M742.9 698.5h0M670.6 723.2h0M741.9 904.6h0M432.1 906.7h0M655.8 773.7h0M669.6 920.9h0M647.6 727.3h0M647.5 929.6h0M652.7 955.8h0M662.9 934.6h0M736.7 697.5h0M652.5 754h0M667.3 714.3h0M742.3 699.5h0M663.5 727.7h0M744 868.6h0M666.3 723.2h0M737.5 901.9h0M672.5 934.8h0M738.8 700.8h0M671.3 931.7h0M655.7 975.1h0M663.9 728.3h0M743 900h0M672.4 734.9h0M680.2 673.8h0M652.9 755.3h0M670.5 924.5h0M739.4 900.2h0M432.4 706h0M743.4 885.8h0M741.5 703.9h0M408.8 754.3h0M742.8 701.4h0M659.5 961.6h0M675.5 699.1h0M679.8 862.7h0M745.5 853.5h0M735.3 695.2h0M651.8 748.9h0M744.7 866.3h0M662.6 931.7h0M673.9 724.8h0M661.2 747.9h0M654.7 773.3h0M668.4 911.9h0M741.2 705.7h0M647.5 925.9h0M666.1 920.9h0M744.2 865.4h0M660.5 954.5h0M680.5 870.5h0M739.2 703.8h0M741.9 706.2h0M673 726.2h0M449.7 714.5h0M744.3 671.7h0M669.8 723.3h0M662.5 929.9h0M659.2 767h0M450.3 901.6h0M672.9 738.4h0M738.6 897.2h0M648.5 931.8h0M664.4 732.4h0M657.5 967h0M738.9 897.1h0M409.6 936.1h0M661 749.7h0M734.8 884.9h0M734.7 884.9h0M682.1 679h0M657.3 966.7h0M662.8 738.1h0M659 958.6h0M666.7 919h0M664.2 923.9h0M649.9 749.4h0M647.5 733.4h0M649.4 749.6h0M430.9 707.2h0M665.2 734h0M447.8 720.6h0M670.3 729.9h0M661.9 940.7h0M647.8 923.5h0M648.4 740.7h0M656.3 780.6h0M741.1 708.4h0M742.2 894.8h0M739.1 895.2h0M450.7 711.1h0M652 941.4h0M409.5 745.8h0M680.2 679.1h0M451.4 894.7h0M667.1 721h0M661.5 751.6h0M680.3 679.4h0M665.6 923.2h0M652.8 948.8h0M735.4 699.5h0M435.7 691.6h0M747.6 860.2h0M650.4 940.3h0M661.9 752.1h0M731.7 857.6h0M743.3 880.2h0M649.5 751.3h0M681.6 869.6h0M652.2 948.2h0M655.2 968.5h0M656.7 968.7h0M675.4 704.2h0M652.3 948.1h0M648.8 742.7h0M673.7 915.6h0M449.1 903.9h0M731.6 856.8h0M737.4 709.1h0M411.4 738.3h0M736.6 705.8h0M664.6 736h0M736.5 890.8h0M678.6 854.4h0M660.3 949.5h0M440.2 716.3h0M677.8 682.6h0M659.1 771h0M660.8 765.1h0M741.2 711h0M653.2 772.9h0M407 780.4h0M439.7 898.6h0M734.3 697.1h0M657.3 962.8h0M655 779.1h0M410.8 920.4h0M745 676.5h0M645.8 927.8h0M415.4 927.7h0M674.8 897.4h0M654.7 962.4h0M449.8 719.7h0M662.7 742.2h0M742.7 708.9h0M737.8 893h0M675 897.3h0M749 682.9h0M667.9 906.4h0M437.4 882.9h0M407.8 772.2h0M437 691.8h0M411 739.7h0M654.9 779.8h0M742.3 891.4h0M672.2 925.5h0M667.8 724.2h0M666.4 914.5h0M652 937.9h0M408 772.5h0M659 957.6h0M747 845.3h0M673 732.1h0M652.3 764.2h0M676.4 880.9h0M736.9 888.9h0M743.1 696.2h0M655.5 784.7h0M746.8 844.8h0M667.9 724.9h0M743.7 876.8h0M434.4 707.8h0M409.2 930.2h0M682.1 864.8h0M666.1 733.6h0M432.1 715.3h0M437.6 701.7h0M653 944.8h0M657 965.3h0M410.7 918.5h0M431 890.8h0M736.6 887.9h0M449.3 721.6h0M662.1 744.2h0M682.1 864.3h0M738.7 711.6h0M653.1 775.5h0M737.1 712.3h0M674.1 895.2h0M741.7 713.8h0M666.2 912.7h0M644.9 747.6h0M746 665.5h0M695.9 891h0M436.3 871.8h0M649.2 933.7h0M668.1 725.5h0M676.3 879h0M653.6 776.2h0M666 912.2h0M737.2 713h0M650.1 935.2h0M653.8 776.4h0M643.7 924.3h0M735.6 704.9h0M403.9 990.8h0M681 861.7h0M735.1 881.6h0M737.3 713.5h0M647.4 740.6h0M436.5 695h0M679.7 852.2h0M411.1 743h0M674.9 893.8h0M681.3 688.4h0M652.8 942.6h0M441.9 901.2h0M742.9 887.9h0M662.2 746.1h0M732.4 684.7h0M677.9 862.2h0M651.2 759.8h0M675.5 884.8h0M679 851.4h0M678.8 675.1h0M654.1 957.8h0M661.6 759h0M740.2 715.1h0M741.9 716.5h0M669.6 733.2h0M674.4 892.3h0M691.1 712.7h0M709.3 868.4h0M677.9 861.1h0M432.8 891.5h0M745.7 841.2h0M448.1 728.7h0M659 781.1h0M744.3 682.6h0M657.5 785.5h0M428.3 888.1h0M733.9 868.4h0M422.8 727.9h0M659.5 778h0M445.3 728.8h0M673.3 907.9h0M448.8 899.5h0M452.6 888.3h0M745.2 670.4h0M746.4 839.4h0M740.6 716.9h0M660.8 772.6h0M449.8 726.5h0M404.5 978.8h0M445.5 729.3h0M676.5 874.8h0M642.8 748.9h0M684.3 699.5h0M744.5 852.7h0M690 886.5h0M411.6 915.2h0M691.9 714.8h0M690.2 886.2h0M671.4 915.7h0M733.6 867.3h0M674.8 721.8h0M671.7 747.5h0M744.9 684.2h0M672.9 918.4h0M432.8 889.1h0M748 850.3h0M742.3 884h0M748.6 858h0M733.4 699.5h0M411.6 914.4h0M645.1 919.7h0M668.9 897.8h0M648.4 919.2h0M674.9 889.4h0M682.2 858.3h0M747.2 850h0M667 898.5h0M675.6 714.2h0M731.9 847.3h0M741.7 719.8h0M739.8 717.5h0M664.1 911.6h0M413 924h0M685.1 703.1h0M650 761.7h0M675.2 714.6h0M666.3 906.5h0M678.6 679.2h0M736.3 715.4h0M672.4 917.4h0M688.1 715.7h0M650.6 763.9h0M663.6 910.9h0M651.3 764.3h0M654.8 953.5h0M402.9 986.2h0M675 715h0M669.5 902.1h0M700.9 896.4h0M668 731.8h0M678.1 844.6h0M692.4 713.3h0M676.8 707.9h0M673.4 905.1h0M675.6 879.8h0M689.5 884h0M734.7 871.1h0M578.5 711h0M447.3 897.8h0M747.9 848.6h0M647.2 746.6h0M732.1 854.2h0M691.5 881h0M435.5 867.3h0M672.9 752.7h0M431.8 882.7h0M451.1 718.8h0M747.2 684.9h0M642.9 915h0M444 894.6h0M457.3 723.8h0M431.9 882.5h0M736.2 879.8h0M645.4 917.5h0M430.1 721.1h0M651.3 765.8h0M641.1 911.5h0M666.5 904.7h0M751.8 677.9h0M734.4 870.1h0M674 887h0M687.2 873.7h0M442.1 899.2h0M748.9 855.1h0M404.2 813.3h0M689.6 882.6h0M680.5 854.2h0M665.9 909.9h0M693 875.7h0M415.2 916.8h0M434.4 717.3h0M654.5 951.5h0M693.4 875.7h0M642.2 752.8h0M677.7 855.4h0M437.8 872.2h0M403.1 983h0M406.5 791.8h0M747 847h0M404 974.6h0M683.6 859.2h0M706.7 859.9h0M677.3 855.3h0M432.1 885.6h0M676 870.6h0M710.2 860.4h0M437.3 711.4h0M640.6 745.7h0M410.1 908.8h0M411.1 750.6h0M746.2 834.6h0M651.3 766.9h0M690.1 882.2h0M732.3 692.2h0M411.4 750.7h0M679.1 684.4h0M659.1 943h0M438.2 882.2h0M673.1 743h0M668 895h0M735.6 713.5h0M746.2 834.2h0M408.8 932.9h0M747.8 686.8h0M742.2 720.6h0M444.8 892.7h0M575.9 865.5h0M442 738.7h0M679.6 843.9h0M660.5 777.7h0M677 869.7h0M671.8 911h0M672.4 755.1h0M687.2 872.1h0M405.4 961.8h0M455.7 893.6h0M674.2 885.2h0M674.3 885.1h0M661.4 924.8h0M399.6 804.5h0M578 877.8h0M405.2 803.3h0M648.1 756.5h0M667.7 894.2h0M653.5 785.8h0M671.4 910.7h0M452.3 724.2h0M739.2 721.7h0M411.3 751.8h0M648 907.5h0M744.2 689.3h0M694.3 718.7h0M747.7 687.7h0M673 755.7h0M685.2 865h0M676.7 711.5h0M413.4 921.2h0M679.1 843h0M646.6 752.8h0M739.4 722.2h0M437.7 713.2h0M712.1 727.3h0M750.5 839.9h0M426 728.7h0M401.2 820.3h0M672.7 756.4h0M669.8 897.8h0M736.8 876.5h0M451.8 878.6h0M671.8 909.7h0M648.7 913.7h0M740.5 723.6h0M658.1 944.8h0M680 686.2h0M674.5 884h0M688.6 720.6h0M449.9 889.1h0M452.2 725.4h0M675.8 875.4h0M677.7 852.6h0M453.6 889.6h0M750.7 839.2h0M672.2 912.2h0M403.2 824.8h0M448.9 736.7h0M416.5 755.6h0M678.3 839.7h0M748.7 851.8h0M736.5 720.9h0M682.2 852.3h0M413.8 765.1h0M427 876h0M733 705.9h0M447.2 738.5h0M682 852.1h0M673.5 900h0M401.9 975.7h0M682.5 697.7h0M411.3 753.7h0M674 745.8h0M685.1 863.2h0M642.3 910.3h0M683.3 702h0M451.5 723.7h0M707.1 706.2h0M678.7 685.5h0M672.5 757.9h0M690.4 725.4h0M677.3 698.2h0M693 719.2h0M455.5 737.8h0M695.8 725.5h0M649.6 768.4h0M456.8 884.5h0M648 759.3h0M743 862.9h0M436 861.7h0M427.5 722.5h0M745.2 679h0M648 904.8h0M430.9 726.2h0M411.6 754.6h0M671.9 907.7h0M730.8 845.7h0M730 845.6h0M439.5 882.7h0M677.7 698.8h0M745 679.3h0M452.1 879.2h0M683.5 854.7h0M699 869.9h0M735.7 717.5h0M677.7 699h0M452.4 727.4h0M702.5 741.7h0M671.7 907.4h0M739.6 725h0M408.2 777.5h0M642 905.9h0M733 858.7h0M402.1 979.1h0M671.8 907.1h0M444.6 737.6h0M703.5 885.3h0M746.7 829.9h0M645.9 911.5h0M646.2 906.7h0M741.4 727.8h0M397.5 794h0M750.3 836.8h0M704.2 722.5h0M636.5 727.5h0M645 911.7h0M711 714.2h0M438.5 727.3h0M429.4 879.6h0M453.7 737h0M645.5 761.2h0M698.6 868.8h0M742.1 725.5h0M436.6 708.1h0M746.8 829.3h0M667.4 889.9h0M641.2 755.6h0M426.6 875.8h0M676.1 715.7h0M647.1 903.1h0M746.8 829h0M659.7 937.7h0M430.6 876.9h0M652.1 929.3h0M434.8 723.5h0M685.8 711.8h0M684.4 858.3h0M399.5 809.4h0M676.9 864.5h0M687.8 866.9h0M676.5 716.1h0M418.5 747.2h0M692.4 869.8h0M708.4 860.5h0M744.4 694.2h0M401 972.6h0M401.1 972.6h0M438.7 728.2h0M415.7 762.1h0M691.8 873h0M700.6 887.8h0M708.9 712.5h0M703.9 883.6h0M402.3 829.9h0M679.3 838.1h0M405.9 808.7h0M410.4 755.1h0M675.9 871.1h0M412.2 767.3h0M674.3 879.4h0M695.6 875.4h0M637.8 733.9h0M406.9 945.8h0M427.8 725.4h0M442 891.7h0M735.1 720.1h0M645 909.4h0M448.5 741.1h0M409.3 766.9h0M677.5 701.6h0M676.5 717.1h0M416.6 906.3h0M646.5 904.5h0M402.2 976.8h0M741.5 729.9h0M653.3 938h0M417.7 900.2h0M441.1 740.5h0M636.5 729.7h0M445.6 886.8h0M671.5 758.7h0M663.4 755.3h0M706.1 706.7h0M733.3 855.9h0M664.4 901.3h0M443 889.2h0M400.1 817.4h0M679.9 691.6h0M688.4 871.2h0M708.5 713.7h0M441.2 740.8h0M638 880h0M688.2 871.1h0M671.5 759h0M678.4 834.7h0M641.2 757.8h0M425.2 734.5h0M693.5 867.5h0M574.3 857.3h0M681.6 703.8h0M746.1 682.2h0M436.7 855.1h0M412.9 768.7h0M735.3 865.5h0M442.6 890.4h0M435.9 713.3h0M666.5 895.6h0M737.9 873.6h0M438.9 730.3h0M405.9 954.3h0M675.9 869.4h0M736.9 726.5h0M642.9 905.2h0M682.4 846.7h0M446.2 743.6h0M580.4 861.7h0M706.8 707.7h0M577.5 870.4h0M653.1 936.5h0M416.4 904.8h0M405.6 954h0M441 742h0M662.4 762.1h0M403.2 974h0M696.6 730.3h0M538.8 724.8h0M690.5 873.4h0M667.2 886.5h0M442.1 747h0M447.3 887h0M446.8 744.2h0M579 721.8h0M743.8 857.9h0M409.6 768.8h0M641.8 759.1h0M699.6 873.8h0M711.9 860.4h0M676.2 861.4h0M671.6 902.7h0M450.5 734.4h0M452.5 874.3h0M453.8 882.9h0M735.9 864.3h0M450.3 734.5h0M440 737.5h0M648.3 764.7h0M735.9 864.3h0M401.2 827.7h0M732.6 843.1h0M580.3 719h0M684.4 854.8h0M650.7 775.9h0M685.1 857h0M660.2 786.5h0M731.8 693.3h0M676.7 719.6h0M264.8 878.7h0M729.4 712h0M675.5 868.1h0M404.7 823.6h0M405.7 952.9h0M402.1 833.2h0M676.4 719.8h0M748.8 844.7h0M579.1 716.6h0M425.3 736.5h0M747.9 696.1h0M406.3 942.8h0M676.9 860.6h0M401.9 968.9h0M702.9 747.1h0M694.1 867.9h0M674.6 735.6h0M682.4 704.5h0M748.8 844.5h0M709.3 711.9h0M413.5 772.3h0M647.3 898.7h0M456.2 738.1h0M705.3 715.7h0M671.2 761.5h0M676.1 860.3h0M457.5 735.2h0M444.6 743.1h0M583.1 860.8h0M683.5 848.7h0M682.9 704.9h0M706.6 849.4h0M650.1 776.8h0M632.8 850.1h0M445.2 883.7h0M661.2 776h0M413 912.2h0M710.2 849.8h0M647.7 758.9h0M415.5 905.8h0M435.1 715.7h0M639.8 887.2h0M446.2 885.1h0M687.7 862.3h0M394.9 930.6h0M449.4 880.7h0M676.8 859.8h0M668.8 883.8h0M652.5 785.3h0M445.3 883.4h0M728.3 721.1h0M640.9 756.5h0M439 732.9h0M677.9 844.2h0M728.9 860h0M638.9 879.6h0M684 848h0M414.2 768.9h0M703.1 878.9h0M667.1 884.3h0M544.1 721.8h0M734.1 858h0M399.7 814.8h0M638.7 741.4h0M740.7 732.9h0M707.9 851.8h0M578.8 861.9h0M450.9 874.3h0M679.1 695.6h0M733.5 714.5h0M688 861.4h0M428.4 871.3h0M706.2 848.1h0M396.6 790.6h0M414.2 769.5h0M674 891.4h0M471.9 875.1h0M575.7 854.4h0M706.5 711h0M402.8 972.2h0M680 705h0M692.1 727.3h0M734.8 720.6h0M704.1 866.1h0M683.8 710.4h0M668.8 882.6h0M427.3 867h0M580.5 721.6h0M685.7 854.5h0M410.5 760.4h0M780.2 933.4h0M445 882.2h0M734.3 720.8h0M668.2 882.4h0M401 958.3h0M716.6 728.9h0M443.2 884.5h0M423.4 877.8h0M536.8 725.5h0M442.3 750.3h0M446.1 883.5h0M647.7 896.6h0M634.8 857.6h0M447.3 747.8h0M414.5 770.3h0M647.8 896.3h0M678.7 694.4h0M740.9 734h0M640.2 893.7h0M406.5 804.7h0M410.5 761h0M637.8 739.7h0M426.7 733.6h0M391.9 936.7h0M414.9 770.5h0M453.2 879.4h0M636.1 870.2h0M732 839.8h0M639.3 750h0M692.5 863.2h0M742.4 732.8h0M732.3 704.8h0M455.9 746.9h0M695.9 734.5h0M407.8 796h0M678.6 829.5h0M715.1 881.7h0M450.9 872.8h0M575.2 853.2h0M711.8 856.4h0M396.9 792.1h0M668.9 881.4h0M653.9 932h0M679.3 831.5h0M433.5 874.8h0M638.9 743.1h0M732.1 839.3h0M671.1 764.5h0M411.7 763.8h0M640.1 893h0M408.4 920.3h0M405.4 815.4h0M416.5 766.2h0M646.7 898.4h0M415.7 903.1h0M579.1 854h0M674.6 872.8h0M683 711.9h0M675.9 730.7h0M449.9 744.3h0M645.7 902.9h0M438.8 735.5h0M442.7 885.1h0M398.3 812h0M578.8 726.4h0M635.2 728.7h0M420.8 746.5h0M414.7 771.5h0M507.8 764.8h0M404.1 960.7h0M448.8 881h0M455 749.9h0M705.7 719.3h0M700.1 747.4h0M402.6 837.2h0M677.1 841.3h0M446.3 749h0M400.6 956.5h0M546 721.9h0M545.5 721.9h0M456.8 741.9h0M695.4 735.7h0M777.2 752.7h0M577.9 865h0M442.2 884.5h0M560.6 873.1h0M692 861.9h0M717.3 724.1h0M451.8 734.3h0M693.7 861.2h0M413.7 908.6h0M426.2 867.4h0M403.1 968.6h0M578.9 727h0M450.2 739.4h0M664.1 894.6h0M406 948.4h0M451.2 866.5h0M581.6 861.9h0M742.4 734.3h0M687.1 858.7h0M733.7 849.1h0M663.5 894h0M709.7 716.2h0M445.4 879.7h0M439.5 872.4h0M745.3 689.6h0M712 740h0M673.9 757.2h0M701.8 884.6h0M413.7 777h0M444.8 878.6h0M401 833.1h0M742.8 734.8h0M747.2 831.9h0M397.7 803.8h0M575.8 851.3h0M396.8 793.9h0M749.6 834.3h0M676.3 855.6h0M406.9 807h0M706.5 844.7h0M674.1 871.2h0M257.2 991.4h0M429 739.5h0M707.7 848.1h0M714.1 890.3h0M722 733.1h0M420.3 748.1h0M646.5 896.5h0M450.1 740.4h0M668.7 879.3h0M259.3 986.1h0M650.5 781.7h0M696.6 866.7h0M734.6 854h0M679 827.1h0M396.7 924.1h0M407.7 928.3h0M672.9 769.6h0M576.9 859.3h0M751.8 824h0M665.2 894h0M456.2 743.4h0M579.5 722.3h0M681 711.5h0M537.9 727.9h0M437.5 727.1h0M677.4 839.3h0M696.1 866.3h0M452.2 738.8h0M397 804.8h0M399.4 948.1h0M674.8 870.4h0M581.6 731.5h0M691.3 863.4h0M450.1 869.8h0M574.5 720.6h0M751.4 694.9h0M637.8 743.1h0M426.9 737h0M713.3 884.8h0M672.4 770.3h0M711.5 725h0M418.2 757.1h0M395.8 793.3h0M707.5 718.8h0M709.8 717.9h0M746 690.4h0M438.9 866.4h0M751 823.2h0M642.5 897.4h0M696.3 865.8h0M665.7 893.2h0M688 856.7h0M578.9 857.1h0M438.7 866.3h0M457.1 741.3h0M401.9 962.5h0M678.9 826.1h0M635.8 859.2h0M646.5 895.2h0M413.3 778.8h0M728.7 726.9h0M407.2 927.1h0M574.9 721.2h0M741.8 739.4h0M575.5 849.5h0M682.1 711.2h0M257 868.2h0M721.2 731.8h0M583.6 727.3h0M583.5 854.3h0M730.8 706.1h0M677.9 838.3h0M740.9 738.4h0M635.6 858.7h0M677 838.2h0M700.5 877.2h0M413.5 779.2h0M395.2 920.8h0M451 742.2h0M441.8 876.7h0M700 865.9h0M637.3 744.2h0M728.2 727.5h0M639 873.4h0M643.4 898.9h0M413.2 779.4h0M676.1 853.3h0M584.1 727.9h0M414.9 775.1h0M533.8 745.4h0M637.2 870.3h0M414.9 775.1h0M704.9 734.9h0M582.7 732h0M675.5 860.3h0M734.4 726.2h0M639.2 880.3h0M407.9 800.6h0M256.6 994.5h0M667.3 877.9h0M706.3 716.7h0M668.7 877h0M734.2 726.3h0M416.8 895.8h0M633.9 721.7h0M405.4 819.8h0M407.6 926h0M708.1 723.9h0M669.6 882.1h0M402.8 841.1h0M402.5 966.1h0M435 860.3h0M545.2 850.7h0M220.9 877h0M547.9 840.2h0M637.1 745h0M435.8 723.1h0M453.4 874.2h0M422.6 750.8h0M704.4 860h0M386.1 810.9h0M583.1 853h0M407.3 925.6h0M258.1 859.9h0M752 696.9h0M633.8 846.5h0M419 878.2h0M263.4 1013h0M418.3 883.4h0M437 720.8h0M747.9 828.6h0M674 760.8h0M439.5 868.7h0M719.9 861.4h0M443.2 878.4h0M398.2 816.8h0M674 867.8h0M639 755.6h0M775.9 840.9h0M389.1 933.3h0M407.6 925.2h0M428.4 740.8h0M674.5 744.2h0M502.8 877h0M574.1 846.6h0M777.3 880.7h0M675.6 859.2h0M676.7 851.9h0M400 945.3h0M640.6 887.5h0M573.9 728.4h0M470.4 863.7h0M702.5 879h0M408.5 791.7h0M746 693.8h0M636.9 864.1h0M414.1 776.7h0M219 1010.4h0M426 745.6h0M740.1 740.4h0M634.8 728.3h0M441.5 874.8h0M403.4 963.8h0M560 744h0M458.3 873h0M783.8 941.1h0M704.5 858.9h0M425.1 868.1h0M255.9 877.9h0M471.1 745.5h0M286.8 827.4h0M704.8 736.8h0M672.9 773.6h0M736 859.3h0M707.8 843.9h0M668.3 875.1h0M726.4 860.3h0M733 833h0M403.7 841.7h0M426.6 740.5h0M742.6 861h0M461.1 754h0M686.3 848.6h0M646.1 770.7h0M704.2 858.4h0M574.6 845.5h0M672.3 773.9h0M568.8 854.6h0M750.1 822.1h0M396.9 798.7h0M678.4 822.7h0M573.5 729.3h0M442.5 878.8h0M637.9 746.9h0M546.9 721h0M426.4 740.8h0M719.6 859.7h0M472.8 872.7h0M387.7 939h0M262.6 1003.3h0M510.3 886.7h0M732.1 712h0M401.7 958.8h0M420.4 752.9h0M751.5 698.9h0M714.2 885.4h0M480.8 858.3h0M422.5 873.3h0M737.4 861.8h0M676.8 730.1h0M696.9 741.6h0M641.2 890.4h0M676.6 730.1h0M727 854.9h0M694.5 857.6h0M474.1 875.3h0M743.7 846.6h0M673.8 882.8h0M558.6 865.9h0M695 737.7h0M254.3 1008.1h0M455.5 874.1h0M463.2 872.4h0M505 886.9h0M564 727.8h0M741.7 743.3h0M586.1 854.5h0M258 862.4h0M455.2 873.9h0M667.5 874.7h0M746.4 695h0M740.8 742.2h0M633 720.8h0M424.1 868.1h0M719.5 858.8h0M558.4 746.5h0M257.3 866.8h0M731.8 704.7h0M324.3 925.8h0M644.3 896h0M397.2 928.5h0M639.5 876.8h0M400.3 949.4h0M731.2 704.8h0M400.5 949.4h0M732.5 831.5h0M457.2 746.1h0M596 868.5h0M727.3 735.7h0M455.4 755.2h0M547.7 718.7h0M751.6 818.2h0M635.3 736.3h0M511.6 888.7h0M781.7 929.7h0M637.7 866.4h0M746.5 695.5h0M630.1 719.5h0M724.5 744.1h0M256.8 872.8h0M666.2 882.5h0M506.9 890.3h0M328.5 793h0M648.1 776.7h0M398.7 819.9h0M398.4 819.9h0M503.7 763.1h0M393.9 805h0M541.1 850.3h0M708.3 727.6h0M667.5 874h0M675.3 738.7h0M209.6 997h0M640.7 884.8h0M511.5 770.8h0M583.5 732h0M268.4 890.8h0M543.4 848.2h0M403 844.9h0M549 842.9h0M564.5 728.8h0M564.9 846.2h0M700 872.5h0M251.4 891h0M416.2 891.8h0M405.1 941h0M217.7 894.1h0M675.9 738.9h0M678.5 820.7h0M718.1 854.3h0M413.5 783.9h0M403.2 844h0M670.8 766.4h0M396.2 800.7h0M576.1 735.9h0M753.7 701h0M741.9 744.6h0M727.8 736.4h0M779 798.3h0M542.6 730.2h0M706 837.9h0M752.8 700.8h0M706.9 721.2h0M730.7 711.2h0M642.7 891.7h0M773.3 698.4h0M777.9 877.3h0M709.4 723.9h0M629.4 722.7h0M723.8 859.6h0M640.5 884.1h0M412.3 782.6h0M401.3 956.7h0M458.9 869.9h0M567.5 735h0M396.6 801.2h0M543.1 847.4h0M259.2 863h0M728.1 732.6h0M632.2 838.3h0M399.9 941.7h0M587.3 856.9h0M409.1 782.1h0M722.7 740.3h0M629.8 838.8h0M507.1 889.3h0M418.8 879.1h0M365.4 922.3h0M674.6 863.7h0M724.6 860.9h0M401.5 956.4h0M575.7 728.1h0M576.3 736.6h0M780.1 922.9h0M557.2 752.4h0M507.1 773.7h0M264.8 1007h0M677.9 832.5h0M413.9 784.9h0M400.1 832.5h0M418.1 763.7h0M776.7 854.9h0M288.2 822.9h0M413.3 785h0M678.1 819.7h0M714.1 882.7h0M732 714.7h0M679.7 706.8h0M560.7 864.4h0M381.1 822.3h0M688.9 856h0M474 757.8h0M637.5 749.9h0M432.4 862.6h0M459.9 877.2h0M467.3 747.1h0M504.3 769.7h0M382.9 813.8h0M707.1 725.6h0M676.5 847.6h0M673.2 765.5h0M402 960.9h0M254.8 891h0M548.3 726.9h0M526 902.5h0M397.5 926.4h0M762 698.5h0M421.8 870.8h0M261.2 874.9h0M400.2 833h0M645.3 893.2h0M403.4 959.6h0M646.8 888.5h0M457 751.2h0M407.1 806.4h0M535.5 856.7h0M353.3 917.7h0M403 845.5h0M260.8 867.5h0M429.3 747.7h0M396 802.3h0M582.9 851.8h0M719.7 856.2h0M539.3 854.9h0M673.9 765.9h0M397.1 926.1h0M735.8 850.2h0M729.9 725.7h0M647.4 771.8h0M455.9 871.1h0M263.2 894.1h0M436.4 726.2h0M776.9 854.1h0M431.9 857.8h0M751.6 815.8h0M451.6 743.8h0M402.7 847h0M586.2 738.2h0M409 783.4h0M454.8 759.8h0M696.4 858.4h0M480.2 854.7h0M722.6 741.6h0M560.2 863.4h0M528.2 895h0M708.4 842.9h0M676.7 846.7h0M413.4 786.1h0M470.5 745.8h0M687.4 849.1h0M537.3 736.1h0M715.4 870.7h0M212.8 992.6h0M673.8 766.5h0M741.8 746.7h0M469.4 857.1h0M230.2 979.7h0M433.2 864h0M510.2 770.1h0M719.4 743h0M470.6 745.9h0M646.4 887.7h0M765 697.7h0M266.8 884.3h0M396.1 803h0M462.3 755.6h0M647.1 772.4h0M629.9 837.1h0M905.7 925h0M782.1 819.6h0M673.5 766.6h0M341.5 807.9h0M357.6 811.6h0M413.8 786.3h0M513.6 770.1h0M587.9 855.1h0M427.1 742.6h0M673.4 766.7h0M470 856.9h0M773.7 812.8h0M752.3 703.1h0M677.5 830.9h0M388.8 820.8h0M584.4 734.9h0M779.9 800.7h0M563.1 844h0M576.3 738.4h0M532.6 757.3h0M770.3 801.3h0M687.9 848.7h0M256.3 987.7h0M708 730.5h0M322.5 933.2h0M710.5 724.2h0M720 852.2h0M476.5 871.2h0M780.1 809.3h0M528.2 894.3h0M634.4 845.5h0M454 867.7h0M468.7 745.5h0M705.6 841.6h0M393.9 808.1h0M733.9 839h0M200.2 872.1h0M624.3 841.2h0M396 803.5h0M701.8 874.7h0M408.9 797.6h0M524.4 895.9h0M698.1 738.3h0M764.5 809.6h0M753.7 815.1h0M429.4 749.1h0M554.6 850.5h0M706.6 723.9h0M399.6 828.2h0M416.3 777.7h0M261.4 876.5h0M634.5 845.2h0M708.2 841.9h0M387.7 823.2h0M674.1 750.4h0M399.5 939.2h0M484.4 737.2h0M379.8 931.5h0M679.9 708.9h0M733.9 838.6h0M702.1 872.9h0M423.4 754.4h0M644.4 892.1h0M674.7 861.3h0M626.3 835.8h0M390.5 924.5h0M500.9 863.4h0M268 999.6h0M575.2 730.6h0M749.6 824.2h0M672.8 779.3h0M415.3 891.4h0M645.8 891.3h0M248.4 890.9h0M511.6 884.8h0M553.5 852.6h0M455.9 759.1h0M669.6 874.8h0M782.3 820.6h0M416.8 888.3h0M780.5 810h0M904.7 919.7h0M429.4 749.5h0M575.7 730.7h0M262.6 998.1h0M262 987.1h0M468.1 746.3h0M531.9 765.7h0M206.8 977.2h0M512.6 885.1h0M416 781.1h0M723.5 856.4h0M779.9 911.8h0M710.7 835.1h0M405.4 937.4h0M771 803.8h0M503 870.2h0M156.7 908.8h0M638.9 755.3h0M387.6 933.6h0M677.8 829.7h0M360.5 811.9h0M402.6 958.5h0M555.9 743.6h0M733 838h0M376.6 931.8h0M255.7 993.8h0M705.9 840.5h0M713.2 875.4h0M414.3 783.3h0M504.8 881.8h0M562.3 846.2h0M634 839h0M256.2 877.1h0M503.1 876.6h0M460.1 874.2h0M382.2 925.8h0M678.7 816.8h0M378.1 818.1h0M543.5 844h0M692.1 850.3h0M201.8 876.4h0M326.5 913.1h0M505.3 884.8h0M906.9 929h0M574.9 730.3h0M409.8 785.6h0M706.7 834h0M906 923.3h0M248.1 891.7h0M536.3 739h0M193.9 970.6h0M717 742.6h0M400.7 835.7h0M716.3 742.6h0M502.6 760.8h0M253.4 900.2h0M438.3 856.7h0M634.9 844.1h0M391.7 814.7h0M730.2 715.2h0M234.4 881.8h0M467.3 858.9h0M704.4 852.1h0M588.1 858.8h0M678.1 816.5h0M646.1 885.7h0M571.8 738.7h0M731.7 709.8h0M637 856.9h0M395.6 803.2h0M630.4 724.3h0M391.2 814.9h0M457.9 751.1h0M527.3 789h0M727 849h0M364.6 913.2h0M568.3 848.2h0M432.6 859.3h0M467.4 858.6h0M727.2 848.9h0M729.1 836.7h0M210.6 885h0M751.9 705h0M771 691.2h0M778.2 786.3h0M623.6 838.3h0M398.3 824.8h0M740.5 747.7h0M635 843.7h0M513 880.2h0M509.4 772.9h0M461.6 760.7h0M673.8 876.8h0M424.5 754.7h0M409.1 786.2h0M708.5 732.5h0M584.4 844.8h0M383.6 811.5h0M384 811.5h0M632.8 726.5h0M307.5 943.9h0M392.4 920.9h0M559.2 858.9h0M631.2 725.4h0M766.6 801.4h0M751 812.8h0M751.1 812.8h0M559.8 751.5h0M558 859.7h0M358.4 816h0M467.3 750.8h0M383.9 811.7h0M634.8 843.3h0M458.3 758.1h0M403.4 956.1h0M770.8 691.7h0M779.7 910.4h0M540.3 849.1h0M732 718.7h0M711.4 735.6h0M503.8 768.4h0M718.5 742.2h0M778.5 893.9h0M646.3 884.9h0M697.3 742h0M501.2 863.8h0M600.6 728.9h0M455.6 760.8h0M673.2 876.3h0M409.6 786.6h0M219.7 1002.5h0M403 957.1h0M673.3 769.4h0M330.7 905.1h0M630 727.5h0M674.2 859.3h0M363.3 804.9h0M398.7 932.1h0M323.9 819.2h0M690.8 855.4h0M541.4 738.1h0M782.8 929.1h0M569.6 739.6h0M209.8 884.9h0M416.7 886.5h0M730.6 716.3h0M414.4 784.9h0M563.4 841.2h0M779.1 910h0M677.3 828h0M766.2 694.5h0M564 734.4h0M560.2 860h0M536.6 846.6h0M676 850.7h0M414.1 785h0M778 872.1h0M220.1 992.5h0M428.2 749.5h0M537.7 739.4h0M711.2 842.3h0M164.8 1035.8h0M712.5 752.6h0M646.3 884.4h0M830.8 811.5h0M474 761.7h0M612.9 736.4h0M779.2 909.8h0M389.4 818.5h0M753.5 812.4h0M636.9 749.7h0M623.9 837.2h0M636.9 855.5h0M527.4 790.2h0M428.4 749.7h0M957 946.5h0M261.8 879.2h0M705.7 838.6h0M713.9 873.4h0M775.3 726.2h0M383.3 918.1h0M262 879.2h0M635.7 848.1h0M471.3 753.8h0M400.3 942.9h0M637.1 754.6h0M621.5 724.9h0M500.4 755.2h0M702 870.2h0M581.1 848.6h0M784.6 831.7h0M560.5 859.6h0M585.9 740.4h0M471.5 859.3h0M316.8 933.9h0M414.3 785.4h0M718.8 848.5h0M212.6 883.5h0M260.4 871.8h0M401.7 845.9h0M559.8 752.5h0M769.5 685.3h0M716 867h0M250.7 998.4h0M534.6 752.4h0M553.6 850.1h0M748.2 826.9h0M723.9 854.1h0M711.4 736.6h0M420.1 760.5h0M478 755.1h0M590 752.3h0M433.4 860.2h0M717.1 737.7h0M724.6 855.6h0M428.3 750.1h0M707.2 730.4h0M776.5 744.9h0M261.7 879.6h0M544.9 738.4h0M712.1 753.2h0M778.6 788h0M716.8 744.6h0M531.9 768.3h0M765 700.3h0M741.6 750.7h0M574.9 732.5h0M553.6 745.1h0M691.9 851.4h0M470.5 854.5h0M473.2 867h0M706.9 727.2h0M778.5 892.6h0M235 988.4h0M688.6 850.8h0M400.3 837.9h0M297.9 808.1h0M674.5 858.1h0M457.1 753.1h0M232 877.8h0M401.5 846.4h0M521.2 778h0M401.4 950.7h0M548.1 732h0M474 763.2h0M361.1 915h0M707.3 730.9h0M610.4 840h0M562.5 739.5h0M353.8 808.7h0M538.8 744.2h0M545.4 736.3h0M463.4 760.7h0M613.2 741.2h0M623.7 836.2h0M610 844.4h0M573.9 738h0M711.8 841.1h0M676.8 842.1h0M666.2 875.3h0M545.8 840h0M794.4 897.6h0M585.3 844.9h0M601.3 734.4h0M288 932.1h0M713.5 872.3h0M557.1 861.7h0M399.8 935.3h0M464.9 865.7h0M598.5 844h0M463.9 864.3h0M559.3 856.8h0M760.7 809.4h0M236.1 997.5h0M400.6 838.6h0M703.8 861.3h0M246.7 880.6h0M456.3 756.7h0M574.8 733.4h0M432.6 856.7h0M255.6 887.6h0M721.9 846.8h0M759.3 703.6h0M783 931.4h0M537 742.1h0M585.8 741.8h0M602.9 843.1h0M520.7 781h0M504.6 878.4h0M350.7 807.3h0M403.9 953.7h0M702.8 868.7h0M570.7 843.7h0M428.2 751.4h0M534.9 753.9h0M769.5 686.8h0M262.2 891.9h0M714.2 876.3h0M727.4 743.7h0M220.3 990.5h0M268.8 1000.7h0M283.6 856.3h0M501.7 861.3h0M185 970.6h0M697.2 744.5h0M515.2 776.5h0M676.1 739.2h0M701.8 870h0M778 789.4h0M559.7 856.1h0M711.6 738.2h0M627 729.4h0M531.9 871.6h0M753.3 810.4h0M668.4 865.1h0M259.6 870.2h0M298.3 907.2h0M503.6 872.9h0M675.7 848.4h0M243.4 983h0M535.2 748.9h0M779.5 907.6h0M482 847.9h0M779 891.2h0M519.7 782.5h0M287.8 833.3h0M648 879.4h0M237.8 895h0M193.9 865.3h0M574.9 734.1h0M662.4 782.9h0M534.9 754.3h0M477.1 858.4h0M200.2 877.2h0M582.3 845.6h0M566.4 840.1h0M461 764h0M389.4 922.2h0M631.2 728.4h0M394.3 810.3h0M706.1 728.8h0M326.2 909.2h0M261.8 881.4h0M555.8 849.1h0M711.2 839.8h0M340 907.7h0M363.5 908.9h0M765.8 803.3h0M455.7 763.7h0M258.3 871.5h0M668.8 864.8h0M531.7 770.1h0M501.3 860.8h0M568.2 844.5h0M527 794.8h0M287.9 833.6h0M533.4 858.9h0M298.8 906.8h0M212.1 986.6h0M220.4 888.9h0M697.5 745.1h0M536.5 743.1h0M544.2 740.5h0M510.8 776h0M215.2 883.8h0M470.7 751.8h0M713.6 871h0M254.2 897.9h0M547.4 727.4h0M469.7 851.1h0M646.2 881.7h0M461.5 865h0M386.7 822.8h0M669.9 869.9h0M771.2 698.6h0M794.1 896.1h0M428 748.5h0M523.9 786.9h0M216 984.5h0M630.5 728.3h0M548.8 734h0M783.1 829.8h0M697.2 745.4h0M315.2 935.3h0M588.6 754.3h0M542 838.8h0M340.1 810.1h0M559 855.3h0M631.2 729h0M325.8 811.8h0M292.4 921.6h0M907.8 930.6h0M712.7 855.7h0M286.3 938.5h0M269.4 900.9h0M472.8 862.4h0M520.6 882.4h0M267.9 994.2h0M319.6 936.6h0M561 851.3h0M668.9 864.2h0M465.1 863h0M380.9 931.9h0M779.2 806.8h0M751.1 809h0M232.7 979.9h0M632.9 730.4h0M407.4 913.3h0M235 892.5h0M527.7 793.3h0M730.9 719.7h0M230.6 973.2h0M315.4 935h0M212.7 886.4h0M414.6 788.3h0M400.7 840.3h0M596.7 758.9h0M680.3 723.7h0M378.7 822.9h0M548.6 833.9h0M469.4 751.1h0M470.1 752.5h0M401 840.5h0M669 869.2h0M324.5 916h0M629.7 731.3h0M677.2 824.4h0M777.2 769.4h0M248.2 896.6h0M561.4 850.9h0M778.4 889.9h0M317.6 831.8h0M523.8 787.6h0M753 709.7h0M376.1 827.5h0M782.6 925.3h0M796.2 789.5h0M556.8 856.4h0M613.4 743.7h0M725.4 852.1h0M690.4 851.4h0M548.3 734.8h0M386.9 922.5h0M288.8 929.8h0M360.4 916.2h0M412.4 791.5h0M255.1 889.7h0M531 870h0M563 738.6h0M777.4 769.7h0M215.1 884.9h0M267.3 895h0M715 863.6h0M761.1 706.4h0M780.7 815.9h0M468.6 752.1h0M552.6 849.2h0M674.8 756.7h0M598.5 743.2h0M780.1 816h0M250.7 994.9h0M753.3 710.3h0M246.3 883h0M780.2 816h0M387 922.3h0M561.7 850.4h0M407.9 912.5h0M465.3 862.1h0M251.8 900.6h0M627.7 832.6h0M241.9 893.5h0M200.8 976.9h0M286.9 839.4h0M774.7 716.9h0M173.1 993.8h0M339.4 906.1h0M373.9 922h0M513.3 777.2h0M333.9 900h0M556.5 855.9h0M770.8 696.4h0M236.5 994.8h0M562.9 742.6h0M220.1 890.5h0M262.7 991.9h0M265.2 894.2h0M564.2 738.7h0M587.7 847.8h0M360.5 818h0M307.6 938.9h0M196.7 878h0M712.3 756.9h0M706.3 730.7h0M245.1 877.2h0M500.6 856.7h0M523.4 788.3h0M595.3 760.5h0M459.7 868.6h0M263.3 999.6h0M238.5 993.3h0M217.2 1001.4h0M609.2 841.2h0M360.5 818.1h0M832.1 903.1h0M197.1 978.7h0M468.8 752.7h0M675.3 846.2h0M243.9 883.6h0M345.2 815.5h0M301.8 911.9h0M623.2 735.7h0M164.5 934.1h0M827.3 816.5h0M778.9 791.8h0M588.7 755.9h0M456.8 759.7h0M713.9 869.1h0M538.7 844.6h0M703.9 858.3h0M301.5 814.8h0M758.8 802.4h0M474.2 863.7h0M754.1 711.1h0M264.1 997.8h0M533.3 760.1h0M740.3 753.4h0M542.8 740.3h0M412.2 792.5h0M666.9 871.8h0M474.9 766.9h0M548.8 735.9h0M725.8 850.9h0M812.5 791.5h0M211.9 987.7h0M211.1 987.6h0M1318.7 1016h0M860 838.7h0M958 860.2h0M607.4 750.8h0M210.1 890.8h0M770.4 793.5h0M316.8 832.9h0M158.7 1006.3h0M290.1 827.1h0M830.5 816.3h0M251.3 901.5h0M628.1 736.9h0M561.6 849.4h0M725.1 850.8h0M728.3 838.7h0M703 857.9h0M728.7 742.5h0M740.1 753.7h0M186 874.2h0M242.6 889.9h0M160.4 915.7h0M833.9 904.5h0M781.6 822.7h0M344.2 913.9h0M366.3 823.1h0M771.3 700.9h0M597.2 755.1h0M247.9 892.8h0M595.9 857.2h0M627.2 831.5h0M710.3 732.2h0M529.3 784.6h0M584.5 743h0M317.3 929.2h0M587.3 751.1h0M759.8 802.9h0M213 888.3h0M521.9 782.4h0M675.6 749.7h0M602.9 743.9h0M339.7 904.9h0M370.3 916.2h0M677 838.1h0M252.4 1002.3h0M415.8 788.3h0M763.5 800.7h0M318.3 837.5h0M333.3 803.4h0M621.6 730h0M585.2 745.4h0M646.3 879.1h0M517.1 783.9h0M704 857.5h0M783.3 927.7h0M678.3 809.8h0M574.7 737.2h0M388 924.5h0M524.7 887.9h0M353.4 813.1h0M266.3 892.9h0M777.5 866.6h0M346 908h0M304.3 834.3h0M527.3 890.7h0M200.8 975.5h0M698.8 746.4h0M753.7 711.9h0M678.2 809.7h0M257.6 878.7h0M678 809.6h0M256.1 884.3h0M526.6 892.8h0M541.3 743.9h0M415.9 788.7h0M903.8 816.6h0M635.4 842.8h0M183.9 968.6h0M327.7 902h0M593.4 851.8h0M740.7 849.1h0M346.9 813h0M201.6 978.4h0M529.6 879.9h0M739.9 753.4h0M289.6 830.1h0M458.9 764.4h0M669.1 866.9h0M680.1 726.1h0M380.5 929.3h0M331.7 805.6h0M321.9 927.7h0M908 927.8h0M561.7 848.6h0M211.5 986.7h0M161.6 1016.3h0M646.3 878.6h0M833.7 903.7h0M230.2 970.6h0M482.2 843h0M256.4 884.6h0M548.1 737h0M249.1 993.3h0M527.2 890.3h0M741.8 755.9h0M268.1 996.7h0M298.3 809.3h0M557.9 857.2h0M317.6 928.4h0M766.8 700.6h0M361.7 910h0M266.9 893.4h0M355.3 816.7h0M667 870.6h0M189.3 868.9h0M478.3 753.2h0M202.8 882h0M627.6 736.5h0M892.2 827.6h0M184.1 966.6h0M672.5 787.6h0M781.6 823.7h0M620 730.5h0M338.2 808.5h0M906.2 921.5h0M609.8 745.6h0M496.3 762.8h0M556 845.4h0M815.3 820.6h0M300.8 811.8h0M370.5 821.5h0M621.2 730.8h0M708.1 739.6h0M1350 913.6h0M902.9 915.3h0M295.7 822.1h0M482.4 749h0M677.4 821.6h0M193.1 869.3h0M752.5 712.4h0M296.6 818.2h0M336.3 807.7h0M625.4 735.7h0M741.6 756.4h0M459.7 866.5h0M905.8 915.5h0M668.8 860.9h0M517.2 878.3h0M723.1 848.1h0M591.6 750.1h0M676.6 836.9h0M369 822.2h0M366.6 917.8h0M760.5 804.5h0M795.2 888.1h0M273.1 991.5h0M679 808.8h0M518.5 878.8h0M618.3 828.6h0M647.5 875.2h0M191.8 861.1h0M504 868.6h0M209 984.8h0M331.1 899.5h0M386.7 919.7h0M778.1 793.8h0M248.3 899.6h0M785.3 934h0M615.8 747.4h0M586.5 748.5h0M903.1 910.5h0M906 915.3h0M481.4 843.5h0M227.6 960.4h0M563.3 741.5h0M548.1 737.7h0M237.2 899.3h0M763.8 706.5h0M673.4 776.4h0M624.1 831.9h0M525 886.7h0M562.4 745.1h0M758.7 707.5h0M529.2 878.9h0M412 794.4h0M784.5 930.9h0M555.4 752.2h0M476.1 861.6h0M637 853.7h0M678.6 808.5h0M427.7 752.4h0M231.7 880.4h0M584.7 744.7h0M562.9 745.2h0M616.1 837.1h0M225.1 962.2h0M185.3 873.4h0M241.2 988.8h0M272.1 900.3h0M217.4 998.9h0M706.3 733.2h0M171.9 917h0M668.1 860.4h0M771.9 795h0M781.7 824.5h0M551.7 753.9h0M496.9 763.5h0M316.2 835h0M1349.3 914.4h0M503.6 868.1h0M219.2 995.1h0M705.9 739.7h0M204 876h0M329.6 805.2h0M778.3 794.3h0M277.8 868.6h0M242.6 983.9h0M175.6 890.6h0M618.2 827.9h0M155.1 1009h0M528.4 884.4h0M499.6 760.4h0M828.9 819.7h0M197.6 976h0M196.1 972.8h0M618.8 736h0M158.9 912.2h0M219.7 994.9h0M542.7 742.7h0M368.1 917.1h0M769.5 692.1h0M545.4 834.2h0M497.6 853.4h0M257.7 880.3h0M357.4 913.7h0M478.4 846.1h0M544 836.8h0M367 917h0M343 820.7h0M356.3 820h0M206.7 968h0M782.7 921.5h0M551 845.8h0M548.4 738.5h0M314 938.2h0M613.7 838.8h0M370.9 914.1h0M750.8 807.2h0M755.7 712.4h0M677 820.5h0M477.1 853.4h0M397 823.6h0M540.5 841.1h0M742 848.7h0M172.3 998.5h0M539.3 843.7h0M554.4 749.3h0M246.1 886.5h0M612.9 743.8h0M751.4 804.7h0M597.2 757.4h0M337.6 901.2h0M673.1 777.2h0M544.7 836.5h0M182.3 967.8h0M758.2 708.4h0M204.4 963.4h0M210.3 984.5h0M412.4 795.3h0M528.3 883.9h0M241.7 988h0M631.9 733.7h0M515 782.1h0M363.3 812.9h0M547.7 732.4h0M371.3 914h0M814.1 809.7h0M1349.7 915.1h0M589.7 850.2h0M167.6 933.3h0M701 859.2h0M359.7 915.3h0M702.1 862.8h0M555.6 843.8h0M332 807.7h0M752.6 804.5h0M769.7 692.7h0M620.5 732.2h0M1349.6 915.2h0M238.9 989.8h0M601 740.8h0M757.1 800.6h0M503.4 867.2h0M272.5 901.4h0M325.5 816.7h0M712.9 850.8h0M767.2 693.6h0M295 916.5h0M753.5 714.4h0M333.6 806h0M728.1 835.7h0M676.4 835.3h0M524.2 795.2h0M589.5 849.9h0M590 849.9h0M170.2 926.3h0M714.9 870.2h0M784.8 839.5h0M533.4 763.4h0M262.2 988h0M675.3 752.6h0M896.8 909.2h0M637 852.3h0M168.3 1019.4h0M812.7 794.9h0M612.1 744.5h0M779.5 901.6h0M716.7 752.2h0M352.5 814.3h0M752.7 804h0M215.6 979.1h0M250.1 900.9h0M729.3 737.7h0M236.4 990.7h0M673.6 778h0M831.9 813.2h0M294.8 826.6h0M226.8 956.6h0M232.3 885.3h0M385.1 821.6h0M514.7 780.3h0M712.2 850.4h0M269.6 995.7h0M667 868.2h0M291 920h0M549.9 839.2h0M382.3 826.6h0M1106.2 961.6h0M622 825.1h0M527 887.7h0M724.9 847.7h0M832.1 809.8h0M617.2 831.2h0M768.9 689h0M300 811.1h0M206.9 966.8h0M613.8 837.7h0M902.2 823.9h0M224.1 876.2h0M705.2 741.2h0M309.7 842.6h0M321.4 924.9h0M263.9 995.4h0M230.8 878.8h0M484.2 748.1h0M171.7 918.7h0M239.9 900h0M326.3 903h0M361.5 818.5h0M766 797.2h0M481.3 752.6h0M716.5 752.6h0M622.4 825h0M742 758.6h0M798.8 778h0M362.4 815.9h0M226.1 956.3h0M263.8 995.3h0M313.9 848h0M674.6 850.3h0M377.7 919.9h0M195.7 967.3h0M613.9 837.5h0M743.7 742.3h0M266.2 896.1h0M167.8 1023.1h0M304.6 926.3h0M678.9 806.5h0M627.8 827.9h0M532 776.3h0M714 865h0M524.6 884.6h0M251.4 994h0M717.5 745.9h0M484.3 837h0M306.9 934.3h0M255.6 894.7h0M734.5 833.3h0M405 938.4h0M616.1 835.1h0M831.9 813.7h0M293 827.1h0M619.1 823h0M297 909.2h0M323.5 916.8h0M184.9 963.8h0M1351.5 884.7h0M669.1 863.8h0M717.8 746.1h0M381 926.1h0M185.8 875.5h0M603.4 840.9h0M676.4 834.4h0M523.1 793h0M813.3 801.7h0M287.6 928.1h0M603.8 840.9h0M1350.7 899.8h0M702.4 861.5h0M343.2 822.4h0M772 795h0M253.3 998.6h0M629.5 736.9h0M957.2 857.6h0M188.5 966.1h0M590.7 756.1h0M605.5 839.6h0M158 918.1h0M468.5 757.4h0M296 912.8h0M251.4 993.5h0M289.3 921.3h0M346.5 816.5h0M341.3 820.2h0M776.7 841.3h0M679.2 720.5h0M252.9 998.3h0M261.3 888.2h0M1349.1 1004.3h0M194.3 964.2h0M794 889.7h0M1245.1 879.5h0M222.6 965.9h0M194.8 964.2h0M344.2 909.6h0M525.9 800.1h0M268.6 993.3h0M729.7 738.9h0M253.1 998.3h0M200.7 971.6h0M257.7 882.6h0M646.9 875h0M780 813.1h0M208.7 978.1h0M253.5 998.2h0M304.6 838.3h0M608.3 841.3h0M203.1 878.4h0M369.1 912.5h0M252.1 998h0M889.1 934.6h0M288.6 924h0M364.5 815.5h0M322.1 833.8h0M830 908h0M356.9 909.4h0M186.8 878.8h0M310.2 847.4h0M598.7 748.9h0M478.8 756.7h0M589.4 848.4h0M270.1 992.7h0M800 779h0M725.1 846.1h0M206.7 878.7h0M288.5 837h0M255.2 895.6h0M176 893.2h0M399 840.3h0M250.3 989.1h0M497.3 850.9h0M797.6 788h0M167 940.3h0M164.9 939.4h0M702 862.3h0M377.9 832.2h0M728.8 833.9h0M356.1 822.6h0M216.9 988.1h0M371 825.4h0M364.8 815.8h0M678.3 805.4h0M315.2 841.9h0M741.2 759.8h0M270.8 992.5h0M227.5 870.7h0M241.7 899.3h0M703.3 853h0M792.9 817.3h0M725.3 845.9h0M300.3 815.4h0M372.6 827h0M357.3 824.6h0M726 842.7h0M703.2 853h0M267.8 901.1h0M348 901.4h0M531.7 863.8h0M832.5 811.3h0M501.2 767.1h0M756.8 713.4h0M554.5 751.8h0M381.1 922.9h0M221.9 971.5h0M646.9 874.5h0M159.5 915.5h0M647.7 871.6h0M234.1 979.2h0M322.1 834.3h0M902.8 825.4h0M779.3 899.8h0M753.3 802.5h0M273.2 987.8h0M782 832.9h0M181 964.4h0M613.9 836h0M315.4 842.3h0M286.2 845.5h0M860.1 918.1h0M377.5 832.7h0M670.7 782.2h0M286.5 845.6h0M547.7 735h0M159 915.4h0M701.9 861.8h0M468.4 758.5h0M893.6 910.7h0M777.9 861.8h0M399.3 841h0M547.7 735.1h0M678 804.9h0M777.9 861.7h0M735.3 836h0M314.8 846.5h0M343.3 823.8h0M234.7 893.5h0M414.5 795.5h0M335 806.9h0M618.1 739.3h0M339.2 814.4h0M887.1 851.5h0M731.4 721.5h0M1347.8 1008.8h0M215.4 891.7h0M207.2 970.3h0M891.7 839.2h0M159.4 916h0M208.9 977h0M645.7 878.6h0M229.9 963.4h0M360.2 909.3h0M781.5 828.2h0M897 827.1h0M726.1 842h0M711.9 746.7h0M1065.3 917.3h0M531.1 778.2h0M530.6 869.7h0M955.7 844.6h0M889 936.5h0M498.2 848.3h0M498 765.1h0M267 898.1h0M679.7 721.9h0M641.8 872.7h0M307.1 932.5h0M618.2 739.6h0M552.6 842.4h0M735.2 835.7h0M284 865h0M284.4 856.8h0M287.2 841.7h0M754.4 801.8h0M352.6 901.4h0M261.6 889.7h0M208.2 976.8h0M799.8 861.8h0M247.5 983h0M677.3 817.1h0M290.6 917.5h0M465.3 855.3h0M227.8 871.7h0M1072.3 841.1h0M911.7 845.9h0M713.1 862.8h0M266.7 898.3h0M175.8 894.4h0M610.7 745.8h0M188.1 964.3h0M625 827.6h0M376.1 919.1h0M212.3 978.3h0M563 745.9h0M797.8 873.4h0M313.1 934.5h0M222.4 964.2h0M642.5 875.4h0M731.5 722.1h0M598.4 750.4h0M210.5 981.1h0M348.3 817.3h0M479.9 840.1h0M678.8 804.2h0M233.2 974.1h0M168.8 1016.4h0M787.3 922.8h0M622.8 822.4h0M752.4 717.2h0M205.1 876.9h0M676.8 832.2h0M382.5 829.3h0M788.1 917.1h0M375.9 917.7h0M154.3 1007.2h0M815 825.6h0M305.4 845.1h0M315.6 927h0M339.7 815.2h0M216.1 986.7h0M608.8 839.5h0M906 832.7h0M602 749.9h0M1349.9 918.6h0M467.4 762.7h0M193.7 957.9h0M717.3 748.4h0M776.2 755.6h0M754.8 801.3h0M302.5 826.7h0M249.1 987.9h0M278 872.9h0M479 756.4h0M563.8 746.3h0M609.9 834.2h0M236.8 987.5h0M304.5 840.2h0M783.6 838.3h0M711.7 747.6h0M596.2 850.3h0M860.7 833.6h0M226.3 953.4h0M891.5 923.3h0M774.6 724.4h0M221.5 970h0M258 880.5h0M219.1 990.6h0M347.3 816.8h0M171.8 921.7h0M316.5 839.6h0M671.9 790.1h0M773.7 715.2h0M678.2 803.6h0M775.8 737.5h0M234.7 977.6h0M642 871.7h0M955.7 928.5h0M331.4 811.5h0M193.8 874.7h0M765.6 794.1h0M767 706.3h0M176 895.3h0M674.5 764.6h0M549.5 753.2h0M321.2 921.6h0M484 751.4h0M479.8 756.9h0M173.9 986.1h0M857.2 944.1h0M627.3 824.8h0M190.2 868.8h0M779.6 898h0M162.5 931.7h0M907.2 839.3h0M673.4 781.6h0M609.4 751.3h0M548.3 743h0M231.1 967.9h0M372.7 829.1h0M530 873.6h0M237.1 986.9h0M595.7 850.4h0M258 881h0M779.8 897.9h0M647.8 869.6h0M894.3 822.3h0M788.4 916.2h0M1133.7 832.9h0M602.7 750.7h0M232.1 889h0M219.1 990h0M729.1 741.5h0M284.9 858.1h0M676.1 831.2h0M677.6 815.8h0M283.6 948.3h0M1133.2 914.8h0M740.8 760.8h0M742.9 759.4h0M466.1 850.3h0M523.5 796.2h0M826.1 825.8h0M415.8 795.2h0M784.8 925.4h0M238.3 985.5h0M203.1 962.9h0M811.8 875.9h0M229.3 961.7h0M232.6 889.2h0M846.9 924.8h0M223.9 880.4h0M619.3 819.5h0M497.4 848.3h0M592.6 758.4h0M193.9 956.9h0M671.9 790.8h0M599.2 743.1h0M157.2 921.3h0M939 886.3h0M889 931.8h0M305.3 846.2h0M787.2 921.5h0M497.9 766.9h0M374.7 834.5h0M364.4 818.4h0M678.1 721.5h0M625.9 823.1h0M797.9 790.8h0M670.1 865.6h0M222.7 962.8h0M245.7 885.3h0M773.1 797.2h0M716.9 756.4h0M162 1009.6h0M156 922.4h0M956.4 853.1h0M356.9 825.3h0M185.1 879.1h0M886.3 845.2h0M782.8 916.3h0M201.7 971.5h0M774.8 806.4h0M770.9 704.8h0M199.9 968.1h0M794.6 886.3h0M482.2 836.2h0M777.6 859.5h0M531.8 780.2h0M780.5 905.6h0M307 930.6h0M891.5 841.2h0M827.1 905.5h0M304.3 922.3h0M717.4 749.8h0M275.1 972.5h0M672 791.2h0M372.4 829.8h0M549.5 834.9h0M307.8 849.7h0M793.2 894.6h0M190.4 950.4h0M891.1 922h0M382.2 830.9h0M242.8 978.3h0M209.6 978.5h0M828.7 825.3h0M180.8 880.6h0M178.5 963.3h0M373.1 913.4h0M795.3 881.7h0M222.3 881.9h0M324.9 906.7h0M381.8 920h0M479.8 757.9h0M591.5 756.5h0M340.3 820h0M345.2 904.4h0M679.1 724.1h0M898.4 914h0M1056.8 930.1h0M298.4 816.2h0M341.6 904.2h0M600.2 742.2h0M892.5 834.5h0M226.3 871.7h0M193.7 876h0M674.2 846h0M716.8 756.9h0M218.2 994h0M203.8 881.9h0M273.6 985h0M211.2 979.5h0M345.8 824.1h0M707.1 742.9h0M156.8 923.8h0M230.5 963.4h0M671.6 791.6h0M226.4 871.9h0M359.8 830.1h0M828.9 905.6h0M563.6 748h0M313.2 932.4h0M889.1 851.2h0M711.5 749.3h0M957.2 861.7h0M249.7 986h0M1349.7 1000.3h0M483.8 753.5h0M617.4 746.8h0M237.1 985.6h0M905.7 908.6h0M488.1 838.2h0M481.6 836.9h0M785.7 927.3h0M216.4 984.7h0M893.2 828.1h0M780.1 905h0M731.4 724.3h0M221 968.2h0M283.5 867.6h0M284.8 859.4h0M1348.8 1009.5h0M124.7 981.4h0M677.6 814.6h0M1352.3 960.2h0M195.8 962.6h0M782.3 915.5h0M673.7 783.1h0M177.1 965.3h0M892.3 835h0M826.8 827h0M1136.1 847.8h0M214.7 887.6h0M791.5 823.5h0M594.6 847.6h0M283 947h0M905.2 829.2h0M359.7 830.5h0M779.9 896.3h0M743.2 747.2h0M528.8 799h0M753.1 720h0M218.1 993.4h0M908.2 924.2h0M813.4 806.3h0M562.2 752.1h0M497.8 768.2h0M673 795.1h0M477.8 847.1h0M279.9 873.1h0M642.4 872.8h0M890.5 926.9h0M304.2 842.6h0M597 848h0M285.9 932.4h0M345.8 903.4h0M260.6 885.3h0M677 829.5h0M311.1 934.9h0M611.1 747.5h0M788.2 914.3h0M665.3 868.3h0M300.2 819.5h0M532.4 774.2h0M599.5 744.7h0M356.2 826.7h0M276 961.4h0M219.9 988.1h0M328.6 812.9h0M955.4 848h0M163.9 938.6h0M171.9 924.1h0M794 884.9h0M900.3 914.2h0M355.4 902.8h0M369.5 907.9h0M775.1 818h0M897.4 830.5h0M173.2 905.8h0M826.2 827.7h0M170.1 1010.3h0M849.2 859.4h0M169.2 1012.7h0M301.3 824.4h0M678.3 801.1h0M165.6 1024h0M1272.4 882.2h0M813.9 806.8h0M225.6 954.8h0M165.2 946.2h0M854.9 879.9h0M675.2 836.4h0M203.9 883.2h0M783.3 918.8h0M277.2 953.4h0M1351.9 890.1h0M745.9 794.1h0M795.7 880.2h0M708.2 747.7h0M1104 942.3h0M222.4 960.7h0M1236.8 973.3h0M342.8 905h0M903 829.9h0M242.3 899.4h0M793.7 815.7h0M854.4 880.2h0M283.5 945.8h0M858.2 935.9h0M376.7 915.5h0M782.2 914.2h0M902.7 830h0M154.2 1003.7h0M479 761.8h0M186.6 960.7h0M782.2 914.2h0M286.5 850h0M892.4 913h0M488.5 760h0M1351.3 967.2h0M855.2 951.1h0M324.2 828h0M361.7 824.6h0M799 781.2h0M622 816h0M813.2 884.1h0M811.6 796.7h0M805.4 864.9h0M1351 905.5h0M277.9 876.3h0M710.9 741.8h0M815.1 829.2h0M152.9 928.6h0M903.3 825.8h0M178.5 884.7h0M190.6 871.8h0M782.7 837.5h0M284.8 937.3h0M785.9 925.7h0M192.6 872h0M1351 905.6h0M532.2 775.1h0M217.2 990.9h0M905.7 830.6h0M626.8 818.5h0M483.7 755.1h0M676.9 828.4h0M283.6 945.5h0M797 877.1h0M226.6 950h0M150.7 998.6h0M200.4 966.1h0M282.4 952.8h0M228.5 879.9h0M894.7 825.3h0M1111.7 868.8h0M642.6 871.5h0M812.2 877.9h0M495.1 846.6h0M493.9 840.1h0M854.9 956.8h0M774 727.9h0M357 905.8h0M930.1 918.2h0M873 881.8h0M778.1 802.4h0M356.3 903.8h0M1068.8 836h0M738.8 763.1h0M489.8 840.2h0M891.6 919.6h0M619.1 740.8h0M174 982.7h0M1351.7 891h0M598.2 754.5h0M1224 977.6h0M799.5 781.7h0M398.9 840.9h0M226.5 949.6h0M712 843.5h0M835.3 908.4h0M1207.2 933.1h0M164 1020.5h0M154.9 927.5h0M707.4 745.2h0M956.2 855.9h0M957.4 939.3h0M222.2 959.9h0M166.1 945.9h0M929.6 846.8h0M892.6 912.3h0M194.4 958.1h0M618.8 744.3h0M247.3 978.4h0M486.9 837.9h0M601.2 748.4h0M798.6 784.8h0M188.4 959.7h0M832.9 816.8h0M530 864.9h0M779.1 894.4h0M844.2 916.6h0M201.2 968.6h0M957 864h0M888 931.6h0M1275.6 953.2h0M244.7 889h0M711.8 751.6h0M237.7 983.3h0M194.5 957.9h0M237.3 983.3h0M280.8 952.3h0M226.4 949.3h0M663.4 865.6h0M285 861.6h0M903.8 826.6h0M1134.7 838.4h0M825 830.7h0M1157.7 912.2h0M192.6 872.8h0M863.2 885.6h0M888.3 931.4h0M209 971.9h0M550 836.5h0M188.2 959.4h0M1268.6 899.2h0M399.7 846.4h0M888.5 931.4h0M1317.8 925.6h0M531.8 783.4h0M773.6 719.3h0M276.2 959.6h0M494.1 842h0M327 821.3h0M479.9 760.9h0M528.2 875.7h0M320.1 921.1h0M810.1 867.3h0M890.9 924.8h0M223.4 958.4h0M173.4 982h0M476.8 852.5h0M220 986.2h0M796.1 801.7h0M647 865.8h0M237.7 982.9h0M758.7 716.7h0M283.8 870.2h0M774.2 728.8h0M664.5 865.7h0M814.1 818h0M596.6 845.8h0M917.5 938.6h0M756.7 719.4h0M828.4 902.8h0M795.8 878.5h0M195.3 960h0M990.5 910.5h0M624.9 822.5h0M281.3 953.8h0M528.4 875.5h0M1268.1 973.6h0M916.2 866.5h0M547.9 740.7h0M802.8 789.9h0M153.3 1005.3h0M1351 965.9h0M188.4 959.1h0M777.5 782h0M919.7 935.3h0M676.6 827.3h0M793.3 891.2h0M624.2 822.4h0M192.8 873.2h0M484.9 755.7h0M1069 911h0M742.1 763.3h0M641.9 867.2h0M921.1 863.3h0M284.5 862.2h0M1221.4 906.3h0M917.3 938.4h0M904.5 827.7h0M1207.4 858.5h0M374.2 912h0M1248.1 891.9h0M911.4 925h0M348.6 822.5h0M1275.5 878.8h0M775.5 742.2h0M1102 863.5h0M1066.6 909.8h0M222.7 885.4h0M1348 1006.5h0M827.5 901.8h0M936.3 886.1h0M834.6 825.7h0M158.7 921.4h0M1347.7 1002.9h0M396.6 822.5h0M285.1 856.4h0M347.9 821.6h0M174.3 903.8h0M777.8 782.3h0M857.1 866.1h0M396.8 822.6h0M918.2 936.1h0M745.6 791.9h0M302.1 905h0M767.6 702.1h0M137.5 993.7h0M956.8 857.1h0M888.9 930.6h0M815.9 904h0M796.5 802.4h0M284.5 935.7h0M495.3 845h0M214.9 890.7h0M548.9 747.7h0M797.7 794.9h0M814.6 818.6h0M302.6 904.9h0M772.2 714.5h0M371.8 832.2h0M814.1 891.6h0M361.9 826.5h0M273.7 981.4h0M663.5 864.6h0M914.4 863.3h0M776.2 833.9h0M811 871.5h0M1268.2 900.1h0M676.2 826.7h0M861.8 828.7h0M170.1 1007.7h0M827 903h0M665.1 865.5h0M478.9 763.8h0M175.6 900.2h0M827 903h0M175.7 900.3h0M1222.2 981.2h0M642.3 869.7h0M371.8 832.3h0M283.1 943.7h0M563.3 751.7h0M273.3 981.1h0M673.3 786.6h0M872.8 879.1h0M841.2 923.1h0M869.4 809.1h0M302.3 832.2h0M1247 890.4h0M160.2 927.5h0M170.5 1007.4h0M679.4 728.2h0M800.8 786.3h0M799.4 783.4h0M171.4 999.3h0M150.1 924.3h0M600 747.8h0M1137.3 859.6h0M178.6 886.9h0M174.5 976.6h0M788 911.2h0M223.2 957.3h0M164 1013.7h0M949.5 831.4h0M808.9 861.8h0M664.2 864.5h0M1154.9 837h0M810.4 794h0M226.5 875.8h0M236.8 981.9h0M363.7 822.3h0M921.4 864.2h0M1347.5 1002.2h0M175.4 900.6h0M1061.7 916.1h0M793.2 818.2h0M832.1 818.4h0M675.6 833.5h0M928.5 925h0M800.6 858.3h0M812.8 803.9h0M326.6 822.7h0M1239.7 898.3h0M869.1 809.5h0M1252.6 891.4h0M677.7 810.6h0M226.6 876h0M1267.4 909.5h0M600.2 746.6h0M194.1 956.2h0M320.8 919.6h0M859.5 851.2h0M173.5 980.5h0M283.3 943.1h0M1320.6 919.5h0M814.7 890.8h0M169.9 938.1h0M1408.8 917.5h0M248.1 981.8h0M373.1 908.7h0M774 730.3h0M1275.7 880h0M789.8 905.9h0M940.2 815h0M226.6 876.2h0M801 858h0M832.8 818.9h0M1265.3 927.7h0M190.7 874.5h0M274.8 975.9h0M226.7 876.3h0M1222.8 980.4h0M714.6 860.7h0M1180.8 919.3h0M153.1 1003.7h0M861.9 829.7h0M856.8 941.8h0M1133.1 909.3h0M957.3 937h0M206.3 886.8h0M776.1 762h0M494.4 769.3h0M832.8 819h0M627.2 818.9h0M865.6 802.1h0M1107.9 877.7h0M1152.5 914.1h0M304.4 917.2h0M891 846.4h0M912.1 854.7h0M275.1 967.4h0M774.1 730.7h0M189.8 951.2h0M158.6 922.9h0M900.8 910.4h0M1273.3 953.7h0M202.8 964.2h0M1060.6 918.1h0M793.6 819h0M1220 903.9h0M1157.1 910h0M774.3 730.7h0M219.4 984.2h0M797.4 866.6h0M742.8 765.1h0M1103.6 868.5h0M802.6 862.1h0M1099.6 926.7h0M188.1 957.3h0M216.8 980h0M1321.5 906.7h0M858 867.7h0M220.3 974.5h0M797 803.8h0M906.7 909.6h0M792.3 895.6h0M812.4 874.9h0M1320.9 920.1h0M850.3 868.6h0M324.8 831.3h0M841.1 921.9h0M1019 914.4h0M1061.8 845.1h0M220.2 974.4h0M219.7 984h0M678.2 727.1h0M324.2 831.4h0M398.1 843.8h0M485.2 761.9h0M1222.3 909.9h0M1154.9 908h0M1136 852.5h0M193.8 951h0M475.6 851.7h0M325.6 827h0M273.2 979.8h0M151.1 928.7h0M222.3 887.3h0M417.9 792.3h0M1220.1 904.3h0M859.7 852.1h0M777.3 853.8h0M813.7 880.5h0M1346.3 922.1h0M220.3 974.1h0M926.3 934.4h0M825.6 833h0M173.1 910.1h0M1217.8 938.1h0M1209 922.7h0M174.3 975.2h0M642.2 868.1h0M803.9 792.2h0M868.1 876.4h0M163.1 1012.3h0M1236.6 969.4h0M1266.4 921.6h0M776.9 832.1h0M1222.2 979.5h0M1404.6 991h0M861.7 830.5h0M417.8 792.5h0M777.8 784.4h0M913.8 929.3h0M1348.1 1004.4h0M174.5 975.1h0M905.5 834.2h0M939.7 882.7h0M622 815.1h0M1320.5 920.6h0M858.7 932h0M776.2 832h0M832.5 819.8h0M863.5 882.7h0M1135 915.1h0M1348.2 1004.3h0M797.7 796.8h0M776.4 762.9h0M932.9 833.1h0M774.6 731.4h0M224.1 955.3h0M281.8 951.2h0M743.6 752.2h0M788.8 909.7h0M622.6 815h0M276.3 956.8h0M671.2 797.1h0M304.5 916.3h0M206.3 887.7h0M894.6 828.9h0M742.6 765.8h0M286.8 854h0M1100 925.9h0M813.2 880.2h0M1380.5 915.7h0M1062.8 913.3h0M1277.4 956h0M854.2 953.1h0M710.9 745.7h0M243.7 897.8h0M673.3 788.4h0M138.3 991.9h0M121 909.6h0M1346.2 991.3h0M491.1 771h0M644.2 871h0M201.7 965.3h0M1206.9 863.7h0M326.2 824.2h0M1208.2 924.3h0M1267.3 911h0M201.9 965.3h0M160.1 929.4h0M1148.9 859.6h0M1063.2 844h0M278.5 877.5h0M957.6 867.3h0M1132.5 839.9h0M858.3 931.6h0M1209.8 922.2h0M1273.9 884.3h0M163 1011.9h0M150.7 994.7h0M642 867.6h0M1071.2 845.8h0M1349.3 994.6h0M321 918.1h0M930.7 914.3h0M741.3 768.9h0M910 853.3h0M1348.1 1003.9h0M1110.4 942h0M869.3 811.2h0M1159.7 843.9h0M1219.9 963.7h0M195 954.5h0M671.5 797.5h0M1249.5 962.7h0M1320.3 989.2h0M1069.8 838.7h0M939.4 814.2h0M1058.9 919.3h0M774.3 732h0M417.9 793.2h0M190.3 876.1h0M174.8 974.4h0M889.4 925h0M797.3 865.3h0M1016.4 846.6h0M856.6 872.5h0M125.5 975.8h0M676.3 824.1h0M151.4 997.4h0M303.6 908.8h0M675.4 831.4h0M176 970.4h0M1242.3 955.1h0M530.8 861.1h0M913.7 860.8h0M1278.2 893.7h0M931.6 840.5h0M160.4 929.9h0M548 744h0M789.8 904.1h0M647 865.2h0M826 834h0M1398.1 912h0M1324.2 894.3h0M676.1 824h0M993.1 916.9h0M833.8 822.7h0M868.5 875.4h0M817 913.8h0M279.2 878.8h0M1102 933.9h0M848.1 926.2h0M864.4 809.1h0M484 759.6h0M176.7 897.1h0M795.4 807.7h0M1102.1 933.9h0M287 850.4h0M1237.7 900.9h0M627.3 817.2h0M853.6 952.5h0M1351.7 895.2h0M1138.2 868h0M1321.5 908.2h0M194.9 954h0M361.5 829.3h0M303.3 908.6h0M478.7 766.6h0M791.3 829.5h0M1283.9 902.7h0M856.1 872.8h0M834.9 828.8h0M924.1 935h0M138 990.7h0M361.3 829.4h0M1350.2 977.4h0M1346.5 990.5h0M220.8 972.9h0M937.7 811.3h0M672.9 801h0M627.4 817.1h0M476.2 848.8h0M794.6 812.3h0M1133.4 907.4h0M1114 877.6h0M949.1 834h0M745.5 788.8h0M204.5 884.4h0M173.9 911.3h0M1110.1 874.5h0M857.3 869.4h0M797.9 797.9h0M850.1 870.3h0M1237.1 968h0M159.1 925.1h0M673.7 856.2h0M172.2 986.2h0M955.6 920.4h0M273.2 978.3h0M1376.4 977.7h0M301.1 829.9h0M870.7 813.2h0M485.8 763.5h0M669.8 852.9h0M850 870.4h0M788.8 908.4h0M862.7 888.8h0M133.7 915.5h0M789.7 837.1h0M836.4 845.7h0M674.7 839.2h0M1132.5 840.9h0M1132.7 907.4h0M1322.5 965.8h0M1159.3 844.8h0M278.6 878.6h0M1055.9 927.5h0M1204.2 933.8h0M1236.3 967.9h0M275.6 965.3h0M476.9 848.4h0M1349.3 993.6h0M791.4 896.2h0M175.9 969.7h0M1318.9 1000.9h0M907.5 913.6h0M989.1 841.4h0M935.8 823.3h0M914.4 932.9h0M1398.5 912.7h0M1101.3 865.3h0M1350.8 976.9h0M706.1 746.4h0M1237.3 901.5h0M776.8 830.5h0M713.4 853.7h0M931.2 907.4h0M932.2 900.7h0M814.3 888.2h0M887.7 927.1h0M1147.8 922.8h0M777.2 852h0M1350.4 976.8h0M1100.4 861.8h0M1389.4 979.3h0M1056.3 922.8h0M1021.8 911.1h0M933.6 830.1h0M1349 1002.6h0M168.6 941.5h0M956.9 926.5h0M673.1 855.7h0M895 829.4h0M1072.4 850.5h0M746.1 787.3h0M810 862.8h0M860 908.1h0M770.8 712.5h0M1238.8 968.8h0M791.5 895.9h0M312.7 928.4h0M937.8 812.1h0M804.4 793.7h0M934 830.3h0M816 847.3h0M1062.9 846.1h0M846.9 916.7h0M1267.7 912.6h0M837.6 852.1h0M1136.1 854.8h0M1059.6 852.6h0M1108.9 943.5h0M1250 960.3h0M159 925.8h0M219.6 981.7h0M1225 907h0M273.9 977.5h0M801.6 858.5h0M275.2 964.7h0M957 869h0M663.1 860.8h0M1406.4 987.8h0M664.2 861.1h0M1218.9 948.3h0M744.4 735.7h0M169.7 1006.3h0M815.2 834.9h0M775.2 746.5h0M1269.5 899.3h0M847.4 855.2h0M956.2 926.2h0M126.4 909.8h0M485.1 764.4h0M137.4 989.6h0M807.5 858.6h0M813.6 813.2h0M911.9 855.7h0M1103.7 936.1h0M940.5 818.1h0M1250.9 895.2h0M168.3 942h0M937.6 812.4h0M1321.2 974.3h0M149.5 989.3h0M1236.3 967.2h0M486.3 767.9h0M146.9 988.9h0M1352.5 952.9h0M1396.4 917.5h0M676.3 822.6h0M485.1 764.5h0M864.5 875.2h0M1274 886.1h0M493.2 769.7h0M188.3 954.5h0M792.5 828.1h0M175.7 968.9h0M279.3 880.2h0M1246 955.6h0M149.2 924.6h0M1245.2 891.1h0M153.8 1000.5h0M171.9 931h0M1221.6 975.5h0M1408.8 920.9h0M860.6 843h0M858.1 929.6h0M1219 947.9h0M912.2 857.8h0M283.3 939.6h0M889.8 923.3h0M487.4 766.7h0M1397.5 979.8h0M857.6 935h0M170.5 1003.4h0M905.3 836.6h0M1437.7 906.1h0M1138.9 869.5h0M815.5 835.3h0M1266.3 988.3h0M1314.6 982.8h0M1136.8 919.6h0M1432.2 992.1h0M914.3 931.9h0M1152.1 910.8h0M1395.7 982.4h0M1269.3 963.9h0M823.6 902.6h0M894.4 831.3h0M776.3 765.4h0M776.3 765.4h0M993.8 915.2h0M1403.9 986.3h0M1134.1 843.9h0M1110.9 875.9h0M1210.7 858h0M275.1 964.1h0M816.8 912h0M599.1 751.9h0M847.1 855.8h0M712.1 837.6h0M1348.4 1001.6h0M1246.8 958.5h0M139 922.2h0M1133.1 842h0M892 913.6h0M1019.6 847.5h0M938.6 813.7h0M808.9 794h0M1324.2 896.3h0M1096.7 859.4h0M907.4 848.7h0M1155.7 840.8h0M278.7 880h0M1062.5 847.1h0M1353 952.2h0M958.7 940.1h0M173.8 913.1h0M955.8 918.7h0M153.3 999.9h0M163.8 946h0M162.6 941.3h0M1220.8 970.7h0M1349.4 992h0M169.9 1005.3h0M863.3 879.7h0M1204.1 932.2h0M814.5 823.6h0M1401.8 920.3h0M1149 925.4h0M1024 911.5h0M1162.9 919.4h0M835.5 839.1h0M642.1 864.9h0M1351.6 897.4h0M279.1 881h0M1135.6 849h0M950.8 899.5h0M195.2 954.4h0M860.9 843.8h0M841 858.1h0M775.4 747.5h0M789.2 838.9h0M816.9 911.5h0M1062 848.7h0M912.4 858.6h0M826.6 835.2h0M1138.3 933.1h0M774.4 734.5h0M1389.4 977.7h0M945.3 828.4h0M1440.8 904h0M1429 930.2h0M937.4 813.5h0M817.1 857.5h0M988.4 843.4h0M824.8 836.8h0M860.1 906.6h0M1203.8 871.4h0M675.7 828.9h0M945.1 891.1h0M1403.6 985.7h0M815.3 898.8h0M884.8 886.7h0M1147.8 921.1h0M1269.5 900.5h0M642.2 864.7h0M1270.7 895.9h0M1238.4 904.6h0M957.6 932.9h0M1156.2 841.8h0M1080 859.4h0M674.4 774.6h0M862.8 824.2h0M743 769h0M1343.1 907.4h0M1053.7 861.7h0M1071.9 848.7h0M929.1 853.3h0M219.6 980.3h0M287.1 852.8h0M775.5 747.7h0M1268.7 905.3h0M488.3 767.1h0M930 911.4h0M739.8 769.5h0M623.6 815.5h0M1062.7 910.1h0M1254.4 963h0M305.2 918.2h0M925.5 932.5h0M813.6 814.5h0M802.5 858.2h0M850.6 872.5h0M934.5 892h0M1114.4 942.3h0M851.7 878h0M1322.3 901.4h0M1267.5 976.4h0M1369.1 961h0M1269.1 962.9h0M935.8 825.3h0M936.3 818.3h0M140.2 982.2h0M665.9 860.2h0M194.4 951.5h0M929.6 853.5h0M1352.3 951.5h0M1299 973.2h0M1018.4 850.5h0M836.1 909.9h0M1391.2 976.9h0M1155.9 841.6h0M1272.6 890.1h0M1392.7 977.8h0M1413.9 985.3h0M149.6 925.9h0M775.6 809.9h0M1269.1 962.8h0M129 974.4h0M916.6 934.4h0M126.6 973.2h0M1270 900.9h0M860.7 844.4h0M861.9 896h0M859.9 856h0M171.6 932.4h0M990.9 904.2h0M1066.4 842.3h0M871.7 875.8h0M930.6 849.3h0M1371.1 964h0M774.9 735.1h0M1131.4 905.5h0M959.2 882.5h0M1315.7 921.8h0M990.7 904.2h0M1082.3 858.2h0M275.3 962.9h0M836.1 848.2h0M866.5 804.2h0M173.1 914.1h0M134.6 913.9h0M195.3 953.6h0M1279.1 901.3h0M1349.5 991.1h0M816.5 910.7h0M913.1 925.3h0M1403.8 985h0M831.7 827.3h0M776.4 828.1h0M831.3 827.3h0M1405 925.7h0M847.7 918.4h0M1353.3 886.7h0M854.7 949.4h0M1207.8 864.7h0M1018 912.1h0M188.9 952.7h0M1267.6 914.7h0M1217.1 872.8h0M815.5 898.1h0M928.2 919.7h0M1259.2 997h0M1266.3 986.8h0M1236.8 904.2h0M891 918.1h0M146.5 925.9h0M941.7 823.3h0M850.2 873.1h0M1268 967.1h0M1253.2 897.5h0M624 816h0M278.1 881.2h0M488.5 767.8h0M833.5 825.9h0M144.7 981.1h0M906.6 844h0M1218 933.9h0M1321.9 911.4h0M873.2 874.3h0M1321.4 911.4h0M1147 859.2h0M1051.5 921.1h0M942.5 825.6h0M941.2 884.4h0M274.8 970.9h0M1252.9 957.6h0M1134.9 845.4h0M274.8 970.9h0M1048.8 880.3h0M925.2 870.8h0M936 886.8h0M834.5 832h0M993.3 913.5h0M1400.6 980.5h0M275.1 901.7h0M775.3 748.6h0M1242.2 890.9h0M952.7 903.5h0M546.6 751.1h0M1348.3 1000.1h0M919.7 868h0M738.7 770.7h0M914.3 930.1h0M787.8 911.1h0M866.4 804.7h0M1103.3 873.4h0M122.7 911.4h0M949.2 897.7h0M1098.6 860.6h0M145.1 984.7h0M848.6 922.8h0M772.9 720.8h0M993.2 852.9h0M1270.3 957.4h0M777 827.6h0M1253.3 958.3h0M869 871.8h0M1387.8 910.3h0M1347.1 996.4h0M790.5 896h0M815.1 837.3h0M885.7 900.4h0M1154.7 842.9h0M143.2 916.7h0M817.7 858.7h0M1360.5 882.7h0M1320.6 985.3h0M1321.6 972h0M855 948.8h0M862.9 825.4h0M796.4 869h0M1211 862.2h0M1017.9 911.6h0M927.7 865h0M1099.8 861.5h0M816.7 910.1h0M777.9 849h0M278.2 881.7h0M937.9 814.9h0M1403.1 924.3h0M1345.9 979.3h0M795.5 811.5h0M1374.2 914.6h0M1349.2 990.4h0M1101.6 928.4h0M937.9 814.9h0M1269 961.7h0M774.7 736h0M921.6 870.3h0M1265 933.3h0M777.1 848.9h0M1136.7 917.3h0M1396.8 979.8h0M1161.9 912.3h0M835.2 840.8h0M769.8 708.2h0M773 721.2h0M850.8 933.5h0M932.7 837.9h0M1145.7 855.1h0M125.3 971.7h0M1341.7 961h0M859.5 857.1h0M932.6 897.4h0M790.2 895.6h0M816.8 909.8h0M1380 979.8h0M1277.6 891.8h0M1246.1 956.3h0M798.2 792.8h0M1235 967.5h0M1406.4 925.6h0M1132.6 844.5h0M792.7 830.8h0M813.9 816.1h0M778.7 870h0M776.6 827h0M1433.5 987.1h0M745.9 784.9h0M740.3 772.2h0M1102.4 929.8h0M1017.8 911.1h0M1104 874.1h0M676.5 819.8h0M1204.3 930.2h0M868.7 871.2h0M1138.2 872.1h0M1115.3 940h0M1399.2 917.8h0M951.5 840.5h0M1274.9 886.9h0M933.1 892.6h0M134.5 974.1h0M889.4 920.6h0M890.7 917.1h0M123.8 970.4h0M815.6 838h0M1271.7 894h0M671.8 802.1h0M867.1 807.8h0M1353.2 946.8h0M868.4 871.1h0M1050.5 866.8h0M1380 979.6h0M892.3 845.2h0M815.1 896.9h0M1058.2 856h0M1348.2 999.1h0M138.2 987h0M1278.9 956.9h0M675.2 826.9h0M995.9 921.6h0M1266.9 926.9h0M952.6 843.8h0M774.8 736.6h0M1319.2 995.2h0M967.3 940.6h0M219.2 978.3h0M1179.1 911.2h0M1311.5 980.3h0M1266.1 985.5h0M815.2 896.7h0M772.6 721.8h0M841 916.1h0M1199 922.1h0M142.4 975.3h0M992.1 907.4h0M1238.4 906.7h0M1219.9 958.8h0M846 854.8h0M971.1 913.4h0M953.6 906.6h0M1254.1 902.6h0M926.8 928.8h0M987.7 903.9h0M1150.8 920.5h0M946.3 891h0M1099 920.6h0M1266.1 985.3h0M1020.4 848.8h0M127.1 914h0M1233.9 910.3h0M868 808.2h0M1322.4 961.7h0M1268.3 965.6h0M860.6 904.3h0M135.7 914.6h0M1320 984.3h0M1160 848.9h0M957.4 930.7h0M1057 857.2h0M136.4 979.2h0M1142.5 925.8h0M1053.7 922h0M1441.3 962h0M675.1 826.5h0M1259.3 995.4h0M1318.1 996.8h0M1389.5 917.3h0M162.4 943.9h0M842.3 855.4h0M957.3 930.6h0M1265.2 992.2h0M278.8 882.8h0M823.3 841.6h0M1207.5 866.4h0M932.8 896.6h0M1018.7 852.6h0M1130.6 846.3h0M851.2 938h0M792.4 831.6h0M1321.8 913h0M854 947.7h0M1322.6 903.7h0M1444.5 944.2h0M1402.2 981.7h0M1047.7 943.9h0M1104 874.7h0M824.2 839.3h0M777.6 847.9h0M873.2 814.9h0M145.3 983.3h0M134.8 915.7h0M1107.4 941.9h0M1258.4 989h0M1095.8 917.2h0M1180.1 912.6h0M1241.6 895h0M1075.8 910.3h0M864.5 814h0M1350.2 972.6h0M1253.6 899.3h0M1393.4 920h0M1317.2 991.7h0M1051.4 861.9h0M745.5 784h0M1204.8 871.9h0M1273.3 889.8h0M958.3 879.6h0M1115.1 881.8h0M1204.8 929.3h0M815.4 896.2h0M957 930.3h0M1055.7 923h0M1388.5 973.5h0M931.9 903h0M741.2 774.4h0M224.5 949.4h0M1274.2 887.7h0M1138.9 930.3h0M678.1 790.8h0M1204.6 871.9h0M775.1 807.7h0M1259.3 937.7h0M1443.5 890.8h0M821.6 854.1h0M1154.5 844.4h0M1262.9 997.6h0M1181.2 912.4h0M1265.3 991.8h0M1374.1 973.2h0M1201.5 868.8h0M860.2 903.9h0M1362.8 952.2h0M1214.8 864.5h0M1232.3 910.2h0M791.1 834.5h0M1326.1 948.2h0M1207.3 866.8h0M1078.9 918h0M1408.7 981.6h0M1226.1 966.4h0M1316.5 985.6h0M1269.1 903.4h0M277.5 886.1h0M1380.2 978.6h0M930.1 908.6h0M865 809h0M945.8 888.2h0M1382.6 915.8h0M1206.8 926.4h0M862.8 827.1h0M907.6 852.1h0M673.2 794.4h0M934 889.2h0M1077.6 913.8h0M1199.9 864.5h0M994.3 859.3h0M876.7 818.9h0M1347.8 994.5h0M277.5 886.3h0M816.9 908.4h0M928.2 860.8h0M958.1 880.1h0M850.8 875.4h0M957.2 873.3h0M1138.2 873.4h0M1147.3 861.5h0M138.7 985.8h0M1428.8 982.5h0M1093 862.3h0M1048.7 939h0M1274.4 888.2h0M1207.9 867.1h0M1262.3 997.1h0M136.3 921.9h0M138.4 985.8h0M1213.1 863.5h0M1383.9 969.5h0M948.9 894.8h0M1138.1 929.8h0M1017.7 853.4h0M1254.6 960h0M1212.1 920.3h0M1004.5 930.8h0M853.3 947h0M860.6 847.1h0M887.8 922.2h0M1097.4 919.8h0M863.7 876.3h0M873.7 815.7h0M1408.2 981.2h0M814.7 827.1h0M1359.8 882.2h0M217.3 980.7h0M1162.3 859.8h0M673.7 794.8h0M1351.1 900.8h0M1236.6 906.7h0M1138.2 929.7h0M123.8 969h0M1139.8 930h0M1350.8 971.8h0M1223 972.9h0M223.1 949.2h0M676.7 818.2h0M217 980.6h0M675.3 769.6h0M1137.6 923.6h0M1116.1 937.9h0M130.4 974h0M930.1 908.1h0M1265.5 935.2h0M547.4 749.8h0M987.8 846.8h0M1207.6 867.4h0M905.6 840.9h0M977 833.3h0M966.7 941.1h0M1344 966.6h0M742.2 772.4h0M1141.2 924.6h0M856.3 878.5h0M968.9 879.7h0M1254 903.9h0M1439.3 961.1h0M1206.6 870.2h0M1153.6 846.9h0M863.3 820.3h0M1178.8 854.6h0M957.6 873.8h0M1147.5 917.6h0M1018 853.8h0M137.6 984.9h0M1116.6 882.1h0M136.8 977.9h0M1318.6 995.6h0M1073.5 910.7h0M860.5 847.5h0M1236.4 907h0M1266.2 984h0M837.2 857.1h0M874.8 874.9h0M1127.5 865.6h0M670.4 852.7h0M1446.2 940.3h0M1432.4 932.3h0M1123 944.9h0M860.9 902.9h0M1346.7 984.6h0M889.3 918.8h0M1391.5 918.3h0M1138.3 929.3h0M1321.9 914.2h0M914.2 927.4h0M1137.3 868h0M1405.3 984.1h0M943.6 883.9h0M1201.8 925.1h0M713.2 848.2h0M741.6 775.5h0M143.7 919.2h0M1430.6 992.7h0M1429.3 989.1h0M1258.6 932.5h0M788.3 902.7h0M1219.7 957.1h0M948 839.1h0M1219 943.3h0M933.5 835.5h0M1430.5 992.7h0M885.5 842.8h0M1278.3 900h0M1307.4 909h0M1446.4 885.1h0M1072.5 910.9h0M929.2 857h0M797.1 803.9h0M788.6 902.7h0M1223.1 971.1h0M814.9 827.7h0M793.2 826.7h0M1345.2 921.8h0M1116.5 937.4h0M821.2 910.2h0M968.7 880.2h0M940.8 823.2h0M980.6 891.3h0M1338 952.2h0M1321.3 969.3h0M140.4 978.5h0M973.6 852.6h0M859.8 859.5h0M998 929.5h0M815 840.1h0M789.3 897.7h0M906.4 847.2h0M1072.7 856h0M1224.4 912.4h0M1217.4 876.1h0M972.1 908.7h0M951.8 842.7h0M936.6 822.1h0M873.9 816.5h0M935 829.1h0M981.8 892.7h0M547.6 750.5h0M887.6 921.4h0M959.2 940.5h0M1349 987.7h0M889.3 918.3h0M1105.9 944.5h0M944.3 884.5h0M848.6 865.3h0M1049.3 930.8h0M939.3 820.9h0M854 946.1h0M131.7 975.9h0M815.5 894.7h0M143.2 919.6h0M861 837.9h0M1175.6 916h0M1256.8 918.4h0M131.5 921.5h0M1054.4 868.9h0M671.4 804.4h0M1341.2 958.3h0M1018.6 908.6h0M1310.6 920.5h0M1238.9 963.1h0M1351.1 901.7h0M974 901.9h0M1217.6 876.3h0M939.9 821h0M1317.1 990.1h0M1324 955.2h0M745.8 782.4h0M1348.3 996.8h0M142.4 919h0M851.2 936.2h0M1294.4 925h0M1105 944.4h0M1138.8 928.7h0M1286.7 964h0M1317.2 990h0M1370.3 902.8h0M943.6 829.2h0M1378.8 919.2h0M1260.5 996.8h0M1312.6 924.5h0M1443.2 946.5h0M1074.1 854.4h0M1383.6 914.4h0M1319.2 992.9h0M1021.9 851.1h0M126.5 915.4h0M864.1 815.8h0M814.9 828.2h0M859.6 859.9h0M1234.7 966.7h0M945.1 832.8h0M741.8 776.1h0M1381 977.1h0M1362 896.6h0M1443.9 892.6h0M1123.7 949.5h0M1234.7 966.6h0M947.2 890.9h0M855.1 939.7h0M816.2 853.2h0M815.7 840.6h0M817.8 915.7h0M1216.9 923.6h0M885.4 897.1h0M1380.7 977h0M933.8 889.9h0M1182.6 855.4h0M1295.2 978.5h0M1081 861.8h0M1344.3 970.5h0M1385.4 911.4h0M1341.7 958h0M1350.1 970.6h0M1101.1 925.2h0M930.8 906.9h0M137.6 983.8h0M1126.2 937.1h0M1165.9 868.6h0M1151 858.2h0M934.4 887.6h0M822.1 902.8h0M1042.1 888.2h0M1287 963.6h0M1376.1 917.6h0M1318.4 994.5h0M1365.4 952.4h0M1164.1 867.3h0M1207.4 868.7h0M1438.6 906.7h0M1350.2 917.2h0M797.1 804.7h0M1343.7 912.1h0M969.4 926.1h0M1050.3 869.6h0M953 850.8h0M1264.9 938.6h0M1093.8 861.5h0M978.9 889h0M1432.5 986.6h0M1120.7 885.3h0M746.3 781.1h0M1320.1 981.8h0M1159.8 851.4h0M1322.7 959.1h0M1441.5 959.5h0M1082.5 915.5h0M1046.3 942.5h0M1145.9 858.4h0M857.4 876.3h0M776.8 823.9h0M1104.9 937.5h0M816.1 906.5h0M1152.2 852.2h0M962.2 944h0M1143.6 868h0M126.4 915.9h0M864.3 869.3h0M1294.6 978.5h0M1207.1 868.9h0M1327 890.1h0M1199 919.3h0M1127 883.9h0M776.2 771h0M1079.6 917.1h0M975.8 840.3h0M1358.4 936.6h0M968 934h0M1258.9 933.7h0M859.1 913.3h0M1319.2 992.4h0M676.3 816.7h0M854.5 945.1h0M927.6 868.6h0M1207.3 869h0M851.3 935.5h0M1257.3 926.5h0M850.6 930h0M1223.2 969.9h0M1148.2 920.2h0M1387.4 914.1h0M1443.2 893.2h0M982.9 894.6h0M776.1 771.1h0M1379.7 975h0M968.2 933.9h0M1437 918.1h0M135 917.4h0M815.5 841.2h0M745.4 781.6h0M1077.8 859.2h0M135.3 917.4h0M995.7 866h0M999.7 881.6h0M957.5 875.3h0M840.3 915.8h0M1120.3 938.1h0M126.9 916.1h0M1276.7 890.8h0M1306.4 965.5h0M1290.6 971.4h0M276.1 896.1h0M855.1 939h0M1442.3 951.9h0M953.7 851.2h0M1258.9 986.3h0M844.8 852.8h0M1195.3 917.2h0M857.7 929h0M1126.1 936.5h0M965.7 889.9h0M933.9 889.2h0M969.4 925.6h0M122.6 967.8h0M1018 855.4h0M844.9 852.9h0M1410.4 921.1h0M1421.9 922.7h0M1353.5 943.4h0M1388.6 970.9h0M1219.9 903.5h0M1371.6 907.1h0M1224.7 913.6h0M959 887.2h0M837 910.9h0M816.4 906.1h0M1320.8 981.3h0M1434.4 928h0M1266.7 930.2h0M1214.8 919.2h0M1256 971.6h0M1343.4 912.7h0M852.4 940.7h0M966.3 939.2h0M968.3 933.6h0M1216.8 922.7h0M932.7 893.7h0M955.9 913h0M1218.4 889.7h0M1309.2 967.6h0M847.8 861.8h0M1345.9 975.2h0M1266.5 982.2h0M949 893.5h0M961.1 891.6h0M987 900.7h0M1369.2 955.8h0M1344.2 917.8h0M1413 977.4h0M1325.2 950.6h0M1176.7 914.4h0M1199.8 866.9h0M958.4 934.3h0M1215.5 868.7h0M1361.8 943.5h0M822.8 850.2h0M946.9 835.9h0M1312.5 925.7h0M972.4 907.3h0M1255.6 964.1h0M1435.1 975.3h0M1239.9 960h0M969.4 873.6h0M1349.7 986.3h0M1218.2 889.8h0M135.9 917.8h0M1266.5 982.1h0M1407.2 980.2h0M1320.1 981h0M1138.6 927.5h0M1104.1 936.8h0M127.6 917.3h0M1444.3 889.5h0M219.7 974.8h0M968.8 881.8h0M1042.8 940.7h0M1407.7 980.1h0M1215.3 920.3h0M1150.6 917.1h0M948.1 892.4h0M818.4 917.8h0M1092.7 864.8h0M122.1 967.4h0M1297.6 917.8h0M1256 964h0M959.2 887.5h0M1351.2 954.6h0M1447.3 884.5h0M1044.1 893.4h0M1083 916.9h0M151.3 989.3h0M1353 943h0M1016.8 854.8h0M1321.6 967.6h0M1058.3 859.7h0M997.3 927.8h0M1240.8 954.7h0M1448.3 881h0M1258.8 934.5h0M1433.8 983.1h0M276.7 896.6h0M884.8 881.1h0M1257.6 978.5h0M1058.6 859.7h0M987.1 900.4h0M1264.6 939.6h0M220 974.7h0M1165.6 921h0M1221.4 968.8h0M999.1 882.2h0M1428.9 928.7h0M1223.7 969.2h0M1074.1 855.8h0M1141.3 922.3h0M857.2 877.3h0M929.3 859h0M1306.9 913.8h0M1295.7 977.2h0M1220.8 964.6h0M1429.9 987.1h0M929.8 910.1h0M1219.5 955.1h0M1381 975.6h0M1349.2 985.9h0M1180.1 858.4h0M1345.9 974.8h0M1153.4 849.3h0M959.1 887.8h0M1016.1 905.9h0M1161.1 857h0M1161.2 857h0M838.2 914.1h0M1319.7 991.4h0M143.5 921.4h0M864.3 817.4h0M887.5 919.5h0M171.3 937.8h0M1311.3 976.4h0M1437.8 912.8h0M962 943h0M1257.2 927.4h0M152.1 992.3h0M171.6 988.6h0M1227.8 965.2h0M1118.2 883.1h0M1121.9 888.1h0M1073.8 857.5h0M853.3 944.2h0M671.2 806.2h0M1258.7 985.5h0M1256.9 920.2h0M1447.9 884.9h0M127.8 917.7h0M1089.4 925.7h0M676 822.9h0M1179.6 856.6h0M777.7 844.3h0M981.5 840.1h0M276.3 897h0M1346 974.6h0M1297.8 968.8h0M994.6 862.3h0M987.2 900.1h0M1321.8 967.2h0M788.4 900.4h0M1347 982.2h0M974.6 849.5h0M1310.6 972.9h0M1047.9 940.3h0M277.9 889.4h0M816.8 854.8h0M1258.2 985.4h0M776.7 772.2h0M997.3 876.9h0M1258.6 985.3h0M1170.4 924.3h0M1266.9 981.4h0M1024.5 906.3h0M130.4 920.9h0M794.4 820.7h0M1030.8 905.2h0M1343.2 913.6h0M1091.6 869.1h0M1335.3 895.3h0M1277.9 896.4h0M1033.2 900.8h0M744.1 793.4h0M883.3 822.4h0M861.9 890.3h0M993.1 858h0M998.4 880.7h0M1023.5 854.9h0M144 925.5h0M137.5 982.2h0M1179.1 856.8h0M1279.6 957.1h0M844.1 853.9h0M137.1 982.1h0M1058.6 860.4h0M144.2 925.6h0M1058.2 860.4h0M1281.9 912.7h0M956.8 868.6h0M397.9 844.2h0M1262.9 943.9h0M1257.4 927.8h0M1175.2 863.8h0M740.9 776.7h0M1288.5 967.2h0M1074.4 856.4h0M999.6 882.9h0M1416.1 928.9h0M1204.2 925.5h0M1445.5 887.9h0M1278.6 902.6h0M1091.8 919.2h0M815.1 892.4h0M1216.2 871.8h0M990.9 848.5h0M1361.4 942.5h0M998.3 880.9h0M1388.8 969.7h0M1204.5 925.5h0M815 842.6h0M1349.2 985.3h0M1338.5 952.4h0M1304.6 918.7h0M1267.2 970.1h0M1258 928h0M928.1 864.3h0M1415.9 929.3h0M1355.6 938.1h0M1131.1 849.9h0M926.3 924.4h0M1195.2 915.8h0M885.9 895.1h0M1371.1 908.4h0M834.7 837.6h0M1349.1 985.2h0M1346.8 981.7h0M1333.2 891.8h0M970.5 915.5h0M276.3 897.5h0M741.5 778.3h0M1002.4 888.6h0M906.6 849.8h0M1254.1 907.1h0M1262.6 944.2h0M1085.7 873h0M975 899.5h0M671.6 806.9h0M1295.7 976.3h0M1375 969.7h0M973.2 904.7h0M956.7 869h0M1381.2 973.1h0M991 848.7h0M851 933.8h0M817.6 913.5h0M859.4 862.2h0M1016.4 855.8h0M954.1 906.8h0M1123.9 947.2h0M1373 966.7h0M1256 920.9h0M1085.2 873.1h0M883.8 872.2h0M1022.8 854.5h0M966.3 937.8h0M885.9 894.9h0M1434.1 978.6h0M1309.2 917h0M1449.3 882h0M963.3 941.8h0M1234.2 964.3h0M1266.1 980.8h0M1256.3 921h0M1172.3 871.4h0M1260 945.1h0M776.9 772.8h0M1006.4 864.4h0M744.7 792.8h0M956.8 918.2h0M969.2 924.1h0M1284.9 958.9h0M713.4 845.2h0M885.6 894.8h0M875.2 873.2h0M1022.6 854.6h0M885.5 894.8h0M1380.6 974.6h0M1381.1 972.9h0M1338.4 903.1h0M970.4 866.3h0M1321.2 917.4h0M1277.7 897.1h0M1254.1 907.4h0M1028.3 855.1h0M1322.9 957h0M823.2 846.1h0M1146.7 861.2h0M1172.7 920.4h0M1346.5 981.3h0M1351.2 904.5h0M858.1 921.8h0M1267.4 969.7h0M1017.8 857.2h0M1267.3 969.7h0M1408.4 977.5h0M1004.7 878.3h0M1426.2 922.3h0M1176.7 864.1h0M1081.7 863.2h0M860.3 899.6h0M1084.5 870.1h0M1051.1 866.3h0M1262.1 993.3h0M171.9 987.5h0M1261.6 994.5h0M1432.8 984.3h0M1435.1 973.8h0M1148.1 918.1h0M1291.4 923.2h0M1174.7 865.5h0M863.9 872.4h0M1442.8 901.5h0M1057 865.6h0M1435.9 925.2h0M932.5 843.4h0M971.8 859.9h0M1130.9 851h0M976.5 837h0M1162.1 863.7h0M1032.6 854.8h0M955.6 911.2h0M973.7 855.8h0M1363.5 903.3h0M788.6 899.3h0M976.3 837h0M1356.2 888.2h0M1051.4 866.5h0M1308 912.8h0M1182 859.7h0M1284.3 910.3h0M984.8 849.7h0M839.6 914.8h0M135.5 919.5h0M1267.8 969.4h0M1225.6 913h0M673.4 798.7h0M1140.2 874.4h0M1381.6 972.5h0M1312.9 927.5h0M1361.3 893.5h0M135 919.6h0M1130.7 851.2h0M1168.6 875.6h0M1091.8 870.2h0M1004.5 878.6h0M120.6 968h0M672.4 810.5h0M1267.7 969.3h0M1418.4 974.1h0M1353.1 941.3h0M1142.8 920.8h0M1233.9 915.4h0M1309.5 917.7h0M1031.8 855.9h0M985.8 899.4h0M968.5 931.6h0M1346.4 980.9h0M1257.2 976.8h0M1005.3 920.2h0M1143.4 870.6h0M1350.5 967.7h0M1359.2 886.4h0M780.3 889.1h0M1173.6 916.2h0M814.4 831.2h0M1076.7 858.8h0M887.1 917.9h0M1179.4 905.7h0M1087.4 873h0M1259 984h0M1414.4 978.6h0M1427.2 924.4h0M966.6 889.4h0M984 847.7h0M877.3 869.1h0M1437.6 914.4h0M1442.5 901.9h0M1343.9 962.5h0M1040.1 861.9h0M1084.5 870.6h0M1330.7 934.9h0M1345.3 973.1h0M1232.7 915h0M1049.2 927.3h0M866.3 811.2h0M1345.4 973h0M1413.4 930.6h0M1441.5 956.7h0M1179.9 905.6h0M1160.4 855.2h0M1160.4 855.2h0M1049.4 879.9h0M1169.7 875.5h0M120.5 967.7h0M1280.2 911.5h0M1050.5 872.6h0M1126.2 934.1h0M1001.6 936.9h0M1296.8 924.4h0M1180.3 860.1h0M1297.4 919.9h0M822.7 852.4h0M1371.6 956.9h0M1049.9 927.2h0M957.2 878h0M1280.4 958.8h0M1368.2 954.2h0M878.7 868.1h0M1360.2 889.2h0M1254.1 908.2h0M858.5 921h0M1446.2 936.2h0M1168.2 923.3h0M1433.8 981.1h0M1131 851.7h0M676.5 813.8h0M1203.3 926.3h0M1035.6 843.9h0M887.5 917.7h0M1033.5 899.2h0M1152.8 855.1h0M1443.1 895.9h0M1338 904h0M1259.4 989.9h0M839.2 914.2h0M1145.8 861.4h0M1428.8 977.8h0M1219.6 953.1h0M1337.5 948.3h0M1439.4 909.7h0M833.5 832.9h0M860.9 898.8h0M1267.9 968.8h0M1443.9 896h0M1410.3 923.7h0M1231.9 962h0M1313 927.5h0M1232.4 962.2h0M996.3 920.9h0M968.3 931.1h0M959 889.8h0M882.4 869h0M992.2 854.7h0M129.6 920.1h0M886.9 909.2h0M1255.2 914.8h0M1138.1 925.1h0M1217.8 880h0M1281.8 961.2h0M1277.6 898.1h0M1334.3 895.9h0M1128.9 857.9h0M277.2 891.2h0M1447.8 886.9h0M966.1 889.9h0M1017.6 858.2h0M1166.3 873.8h0M1008.8 901.5h0M975.7 843.4h0M1427.2 924.9h0M1410.5 923.9h0M893.2 844.6h0M821 906.1h0M859.8 910.2h0M878.5 821.1h0M1006 912.3h0M1180.1 860.5h0M833.2 833.2h0M937.2 821.6h0M1041.9 924.4h0M1033.5 898.9h0M1136.7 864.2h0M972.3 858.2h0M1084.2 917.7h0M1327.8 939.8h0M1182.5 905.5h0M1178.6 859.2h0M1181.5 907h0M1195.6 914.2h0M1444 896.3h0M1058.1 862.2h0M1427.6 971.5h0M1000.3 886.9h0M1411.8 924.8h0M1136.6 864.3h0M957 870.5h0M821.1 906h0M1163.1 915.2h0M1360.6 936h0M1327.6 939.8h0M1418.7 926.9h0M1257.9 976h0M1233.2 916.3h0M1359.6 887.2h0M1334.4 896.2h0M1166.3 874.1h0M1184 905.1h0M1239.4 957.3h0M999 928.9h0M1342.8 911.1h0M1216 871.5h0M991.2 851.2h0M1364.6 904.2h0M1314.9 927.7h0M1008.8 855h0M1343.5 915.7h0M997.7 879.1h0M1256.6 922.5h0M780.8 888.2h0M959.8 890.2h0M833.5 833.4h0M1057.1 863.3h0M1036.5 845.5h0M969.1 876.5h0M1232.7 915.7h0M979.4 840.4h0M835.9 847.6h0M1264.4 942.3h0M1282.2 961.2h0M1285.8 911.4h0M972.4 858.5h0M1424.4 972.3h0M877.7 868.2h0M878.4 821.5h0M1349.5 983.4h0M1220 952.5h0M1344.3 920.8h0M1005.3 919.2h0M1127.7 870.4h0M1219.5 952.5h0M1152.3 855.8h0M1220.7 962h0M1331.6 888.3h0M1421.3 926h0M1371.6 910.3h0M277.1 891.7h0M1415.2 977h0M974.2 897.6h0M1253.9 905.2h0M741.4 780.2h0M1046.9 893.1h0M1143 917.3h0M1416.2 976.6h0M777.6 796.2h0M673.7 800h0M1287.4 917.5h0M1349.8 983.3h0M887.4 916.9h0M1216.6 873.9h0M1445.8 935.7h0M1080.8 865.8h0M120.5 966.8h0M1311.1 973.8h0M780.9 887.9h0M742 780.3h0M1105.1 940h0M1363 946.3h0M1370.7 907.1h0M1217.9 926.1h0M145.7 977.2h0M1228.7 918.2h0M1256.8 968.3h0M991.9 851.6h0M1136.9 864.8h0M957.3 924.3h0M1126.4 887.7h0M1331.4 888.5h0M1033.4 898.3h0M1049.5 926.3h0M978 839.7h0M885.6 893h0M744.9 790.9h0M1442 955.6h0M1056.4 867.2h0M1254.5 909.2h0M980.3 841.3h0M1344.6 921.1h0M1081.4 864.9h0M1428.9 976.8h0M673.6 845.4h0M145.5 977h0M1409.8 927.5h0M672.4 812h0M884.1 832.9h0M1127.9 870.8h0M1181.9 906.3h0M1362.7 946.1h0M1281.4 960.3h0M1145.3 862.4h0M1365.7 903.2h0M884.1 832.9h0M1295.5 974.1h0M969.1 922h0M816.3 902.5h0M1253.7 905.6h0M1227.2 917.3h0M936.4 827h0M853 941.3h0M992.6 855.7h0M978.9 884.8h0M1027 903.7h0M993.7 860.8h0M677.3 797.2h0M1364.4 949.6h0M882.3 823.2h0M1044.5 941.4h0M1050.9 873.9h0M1421 925.8h0M1217 874.4h0M776.1 775.1h0M1122.6 939.5h0M1048.5 933.1h0M1335.8 898.2h0M1369.1 907.6h0M1218.8 893.4h0M1258.8 982.4h0M815.3 845.2h0M936.1 827.2h0M1187.9 864.8h0M1443.7 897.2h0M1299.8 965.2h0M926.1 921.8h0M1183.9 859.7h0M1142.9 919h0M876.9 869.5h0M1047.8 892.8h0M1004.2 924.9h0M673.5 800.6h0M1082.5 866.8h0M1430.3 987.3h0M1293.2 973h0M221.5 950.6h0M857.8 924.9h0M1006.3 911.1h0M1304.1 965.7h0M1034.8 848.4h0M1344.9 921.6h0M818.9 914.1h0M1299.7 920.9h0M1261.6 992.3h0M1010.9 848h0M1047.5 893h0M1086.6 920h0M884.7 877.4h0M673.7 800.8h0M1194.5 912.8h0M1184.8 861.7h0M1124.9 948.3h0M1332.3 891h0M1254.4 909.8h0M1301.1 922.1h0M1014.6 904.3h0M889.2 913.1h0M967.8 889.3h0M1258.6 982.1h0M1258 938.2h0M1300.5 965.5h0M1340.7 907.8h0M1362.4 901.6h0M1287.7 962.2h0M879.3 822.2h0M1310.2 969.5h0M1447.9 932.1h0M968.4 929.5h0M1031.6 901.7h0M778.1 862.2h0M1419.4 970h0M1197.3 870.5h0M1327.4 938.4h0M1185.9 907.8h0M1033.9 897.5h0M1424.3 971.2h0M1435.2 971.3h0M1365.4 903.9h0M1259.5 944.6h0M1090.8 920.8h0M1254.1 910h0M1438.9 911.5h0M1347.4 988h0M1231.9 916.7h0M1326.1 941.4h0M1421.8 927.1h0M1127.3 915.1h0M1162.9 866.1h0M885.6 892h0M1257 967.3h0M882.6 823.9h0M1320.7 976.9h0M1423.7 927h0M969.4 877.8h0M1131 853.6h0M672.6 812.9h0M821.7 904.4h0M221.9 950.1h0M1256.7 967.2h0M1436.4 922.8h0M977.4 839h0M1129.9 855h0M1338 903.2h0M1331.6 889.6h0M1039.7 897.2h0M1128.6 859.7h0M1228.9 962.5h0M1442.5 947.3h0M1091.3 872.7h0M776.5 818.9h0M1446.7 934.1h0M1034.7 849h0M1000.7 931.6h0M968.6 929.1h0M776 757.5h0M1279.3 910.6h0M1428 926.8h0M675.5 819h0M1342.9 955.7h0M1015.5 859.8h0M956.9 872.2h0M885.5 891.7h0M776.5 776h0M981.2 844h0M674.3 827.3h0M1447.8 931.7h0M1283.7 914.9h0M1267.9 923.9h0M1434 978.9h0M1311.1 972.4h0M1144.2 867.8h0M1428.8 975.6h0M984.9 895.2h0M1046.4 937.3h0M1038.7 893h0M1179.4 860.6h0M857.7 924.1h0M1342.5 955.5h0M971.7 862.9h0M977.2 839.3h0M1145.8 863.6h0M1430.1 986.4h0M1217.2 924.7h0M1418.4 971.3h0M1230.8 918.1h0M886.5 907h0M1000.1 931.4h0M966.7 934.5h0M1049.1 924.8h0M996.1 918.6h0M1410.5 926h0M955.5 908.2h0M1347.4 987.4h0M1009 856.9h0M974.6 895.9h0M1350.1 965h0M860.1 854.1h0M1004.4 881.6h0M776.2 776.3h0M998.6 926.9h0M1284.3 913.3h0M672.8 813.4h0M998.9 884.7h0M1256.8 924.5h0M1034.4 849.4h0M975.3 845.6h0M1289 921.1h0M1050 882.5h0M1127 914.4h0M819.5 913h0M1123.4 943.6h0M1349 990.8h0M1045.3 937.8h0M819.3 912.9h0M1336.1 901h0M1048.8 931.8h0M1129 860.3h0M777.2 840h0M1352 907.9h0M1442.8 946.7h0M1367.1 907.7h0M1421.1 969.8h0M1363.6 948.4h0M1287.1 961.3h0M885.8 891.3h0M1197.1 871.4h0M1008.7 857.2h0M1336.5 901h0M1447.6 889.3h0M776.9 776.5h0M1130.6 854.4h0M1255.8 917.4h0M1327.4 895.7h0M886.3 906.6h0M1041.5 922h0M836 849.8h0M1014.8 903.1h0M1050.3 875.5h0M741.4 782.2h0M1005.7 917.1h0M1436.9 965.2h0M1349.6 981.2h0M835.9 849.8h0M1004.2 923.5h0M744.5 789h0M1342 955h0M1014.5 903.1h0M822.9 855.3h0M1268.7 915.8h0M1286.5 916.2h0M775.9 758.3h0M1034.3 849.8h0M1172.2 916.7h0M1301.9 923.4h0M1003.9 888.1h0M1043.3 941h0M1336.9 901.4h0M1361.6 938.2h0M1124.4 946.9h0M1172.5 916.6h0M1035 850h0M1175.2 868.3h0M1267.1 924.8h0M1127 913.8h0M1049 890.3h0M1126.2 930.8h0M1286.6 916.4h0M1441.7 953.4h0M1217.4 882.9h0M1004.1 923.1h0M1217 882.9h0M1441.6 953.4h0M995.4 871.9h0M675.9 817.9h0M1428.9 974.7h0M170.8 991.6h0M1429.4 981.9h0M1333.1 936.9h0M1267.1 925h0M833.9 836.2h0M882.9 825.3h0M775.6 758.7h0M674.5 826.2h0M672.6 814.3h0M1268.6 916.3h0M1186.7 907.1h0M1001.5 933.5h0M1342 954.5h0M994.3 867.4h0M1327.9 936.8h0M815.6 847.3h0M1037.6 850.2h0M994.1 867.5h0M1350 963.9h0M1350.5 963.9h0M1344.3 963.8h0M1123.1 942.6h0M1196.2 911.5h0M1278.5 907.5h0M1039.4 895.7h0M1257.1 972.9h0M1219.6 949.6h0M673.6 802.8h0M884.3 875.4h0M1126.5 930.3h0M1447.7 890.3h0M994.8 867.7h0M1359.9 890.4h0M1145.4 865h0M1351.3 909h0M1334.2 939.2h0M1359.7 890.4h0M1334.6 939.1h0M974.3 894.6h0M1007.6 902.8h0M1089.1 920.2h0M1428.2 974h0M1338.7 947.4h0M741.2 783.3h0M170.8 991h0M1218.1 896h0M1338.5 947.3h0M1049.2 883.9h0M971.3 864.5h0M1001.3 932.9h0M1002.6 933h0M778.1 820.7h0M1036.8 848.8h0M883 827.9h0M1435.9 969.1h0M1436.2 924.7h0M1189.8 867.6h0M1045 938.7h0M1448.4 887h0M1037.3 850.7h0M1331 891.6h0M1305 924h0M1191 868.2h0M1005 883.1h0M997.3 921.7h0M777 838.5h0M1217.6 883.9h0M995.3 872.8h0M885.8 889.8h0M1050.4 876.8h0M1014.3 901.8h0M1285.3 914.9h0M1190.5 867.4h0M888.9 913.5h0M1433.9 977h0M1412 928.5h0M1350 979.9h0M1267 925.9h0M1349.8 979.8h0M965.9 935.4h0M1042.7 934.3h0M956.8 913h0M674.2 825.2h0M1254.3 912.5h0M1218.7 896.4h0M1047.5 934.3h0M1343.9 919.4h0M886.6 905h0M882.9 826.3h0M1325.7 944h0M1008 897.4h0M1258 979.4h0M780.6 884.4h0M1009.8 853.6h0M1010.6 850.8h0M968.5 888.5h0M956.2 912.8h0M885.7 851.2h0M1218.5 896.6h0M998.4 924.9h0M822.3 856.9h0M1037.5 851.2h0M1337.7 943.8h0M1124.9 945.3h0M1278.8 908.4h0M1127.6 874.3h0M777.4 838h0M1011 851h0M887.9 913.1h0M1351 909.9h0M974.2 893.7h0M170.7 990.2h0M1328.9 895.8h0M1337.7 943.6h0M1320 984.8h0M1043 933.8h0M1171.8 917.4h0M1188.7 906.3h0M676 816.3h0M1196.4 910.2h0M1037.6 851.6h0M1043.4 939.1h0M882.8 826.9h0M1192.5 907.8h0M1197 872.8h0M883.6 828.9h0M1049.6 884.9h0M1218.5 897h0M1126.5 929h0M1047.8 933.7h0M1336.3 940.6h0M1434 976.1h0M778 859h0M1005.4 914.9h0M1007 870.4h0M1041.9 919.7h0M1434.9 972.6h0M1004.1 921.2h0M1195.1 872.5h0M1040.5 904.3h0M1218.9 897.1h0M970.8 872.2h0M1033.9 894.2h0M1285.7 915.8h0M775.7 760.5h0M776.9 815.9h0M1048.6 929.3h0M1050.1 877.8h0M860.3 893.7h0M1004.6 921.1h0M672.8 816.1h0M1218.7 897.3h0M975.8 885.1h0M1043.8 938.8h0M1040.9 904.1h0M886.7 904.1h0M1015.3 899.6h0M1014.3 900.6h0M995.7 874h0M1041.6 882.8h0M776.1 779.2h0M1042.2 933.1h0M1254.8 913.6h0M1043.8 938.5h0M1128 875.2h0M1219.4 947.7h0M1218.2 897.6h0M1219.4 947.6h0M1012.5 895.6h0M1011.3 854.4h0M883.2 829.5h0M1435.7 967.5h0M1218.8 897.7h0M1127.8 875.3h0M969.4 917.5h0M1254.7 913.8h0M1008.5 896.1h0M884.2 837.5h0M1191.1 869.8h0M1258.5 942.2h0M1006.5 871.1h0M1218.2 897.8h0M1268.3 918.6h0M1014.6 900.2h0M1003.6 926.6h0M1128.9 863.4h0M1014.2 900.1h0M994.7 869.8h0M1049.7 885.7h0M1011.2 854.6h0M1041.7 918.9h0M1012 895.4h0M1319.6 983.7h0M1037.8 852.5h0M1004.9 920.5h0M1330.6 893.4h0M1218.9 898h0M1041 883.4h0M1217.9 885.7h0M974.9 892.4h0M1218.5 933.3h0M974.5 892.4h0M1218.4 933.3h0M673.6 840.4h0M1008.7 895.7h0M1219 947.2h0M1049.3 886h0M1128.9 863.7h0M1034.6 852.9h0M1258.8 942.6h0M1042.7 932.4h0M172.3 935.3h0M1127.7 875.8h0M674.1 823.3h0M994.9 870.2h0M677.2 792.2h0M1254.8 914.4h0M1042.8 932.3h0M858.6 914.8h0M1126.6 927.7h0M1441.7 950.3h0M1129.1 859.3h0M815.7 850.2h0M1219.4 946.9h0M1127.1 876h0M1004.1 885.4h0M887.5 911.3h0M744.6 785.5h0M1011.2 855.2h0M1265.8 980.4h0M1039.5 858.5h0M1127.7 910.5h0M815.7 850.3h0M1444.4 898.2h0M1003.8 925.8h0M1218.3 932.8h0M1010.1 853h0M1012.4 860.5h0M1004.2 885.7h0M1194.6 907.8h0M1041 902.7h0M1124.9 943.2h0M1041.8 918h0M884.8 838.5h0M1125.5 940.1h0M1013.7 898.2h0M1040 868.9h0M1044.1 935.8h0M858.7 914.2h0M1042 917.9h0M1006.1 905.7h0M969.8 882.8h0M886.4 902.4h0M1127.1 910h0M835.6 853.9h0M1040.8 902.3h0M776 814h0M1007.7 866.5h0M1218 899.1h0M1008.5 861.5h0M1218 899.2h0M741.4 786.6h0M1127.7 876.9h0M974.2 891.2h0M969.9 883.1h0M1192.7 872.8h0M1044.1 935.4h0M1041.4 884.8h0M1127.3 909.6h0M778.1 856.7h0M1441.9 949.3h0M883.9 831.3h0M674.8 789.7h0M1006.6 872.8h0M884.5 839.3h0M1127.4 877.2h0M1040.3 869.7h0M781 886.7h0M1265.7 979.2h0M1218.1 899.7h0M1007.5 867h0M1306.2 923.3h0M859 913.4h0M1125.6 939.2h0M835.8 854.6h0M1218.6 899.7h0M1127.4 877.4h0M672.7 818.7h0M1306.2 923.5h0M1042.4 930.7h0M1037.1 854.6h0M1049.3 888h0M1043.8 935.9h0M741.3 787.5h0M1277.8 906h0M1042.6 930.4h0M1219.2 945h0M1350.5 959.2h0M1126.2 925.7h0M1125.7 938.6h0M1350 975.8h0M1257.1 968.2h0M957.4 916.9h0M1127.4 878.1h0M1040.1 870.5h0M1002.9 928.6h0M1040.3 900.9h0M1042 930.1h0M1006.8 904.2h0M1218.7 900.5h0M1351 959h0M781.1 885.9h0M1127.3 908.5h0M1041.8 916.3h0M1049.4 888.5h0M1037.2 855.3h0M1307.3 921.5h0M972 869.2h0M1349.8 975.4h0M974.3 889.7h0M836 855.6h0M1009.2 857.9h0M781.2 885.6h0M1049.2 888.7h0M1218.8 930.5h0M1127.3 878.5h0M1006.4 874.2h0M781 885.5h0M970 884.7h0M1126.6 925.1h0M1007.6 897.8h0M969.2 884.8h0M1007 868.5h0M884.8 840.9h0M1039.7 861.1h0M969 922.1h0M1043.1 934.8h0M1010.4 855.6h0M1307.1 922.1h0M1219.3 943.9h0M1003 927.7h0M1038.8 857.4h0M1011.1 858.2h0M1218.2 929.9h0M1049.3 889.4h0M1266.9 970.3h0M675.8 811.6h0M971.5 870.1h0M220.9 953.4h0M1005.4 910.3h0M1011.4 858.5h0M1011.6 858.5h0M1011.6 858.5h0M1126 937.2h0M1129.4 862.7h0M968.9 921.5h0M1126.2 924.2h0M1126.2 924.2h0M1005.1 882.5h0M1011.8 858.7h0M1040.5 872.1h0M1049.2 889.9h0M675.7 811.2h0M1041.9 914.7h0M1007.1 869.6h0M1219.2 943h0M1127.5 879.9h0M673.5 809.4h0M885.8 883.7h0M1219.1 942.9h0M1041.5 914.4h0M1041.7 888h0M1007.4 869.9h0M1040.8 872.6h0M1042.2 928h0M1006.2 875.9h0M1258 939.8h0M1005.9 909.3h0M1217.8 890.4h0M1350.7 956.8h0M883.6 834.5h0M1128.2 868.3h0M1126 923.1h0M1350.9 956.5h0M1010.7 857.3h0M675.1 810.1h0M885.4 882.9h0M1040.8 873.1h0M740 788.1h0M1039.5 863.1h0M1049.1 891.1h0M814.8 842.6h0M885.1 882.7h0M1041.8 913.5h0M1005.1 884h0M1041.5 913.3h0M1127.3 881.2h0M1218.3 927.8h0M1218.3 927.8h0M968.8 919.6h0M814.8 843.3h0M1217.6 891.6h0M1126.4 922.1h0M974.1 886.5h0M1219.2 941.3h0M1042.4 926.5h0M968.8 919.2h0M739.7 789.2h0M1041.8 912.6h0M1041.6 889.7h0M1041.9 912.5h0M1040.3 874.4h0M1039 864.4h0M1039.7 864.5h0M1126.1 921.3h0M1041.3 912h0M974.8 885.6h0M1040.5 875h0M1126.1 921h0M1041.6 890.5h0M741.2 792.7h0M1040 865.4h0M1041.5 911.3h0M1125.8 933.3h0M1042 924.8h0M1040.4 875.8h0M1039.6 865.8h0M1041.6 911h0M1041.8 910.9h0M1349.9 970.1h0M1005.7 905.8h0M1041.2 910.6h0M1126.3 919.8h0M1126.5 919.7h0M1125.7 932.5h0M1042.3 924.1h0M1126.4 919.4h0M1125.8 932.2h0M1126.8 919h0M1039.8 867h0M1042.2 923.3h0M1039.7 867.6h0M1126.9 918.3h0M884.3 847.6h0M1041.8 908.7h0M1041.2 908.6h0M1127.1 885.9h0M1040 878.3h0M973.6 887.4h0M1126.6 917.7h0M885.2 877.6h0M1127.4 886.1h0M884.9 848.3h0M885.1 877.3h0M1040.7 878.7h0M884.6 848.6h0M1041.4 907.7h0M1126.6 916.8h0M1039.9 869.3h0M1040.4 879.4h0M777.2 825.3h0M1127 916.4h0M1042.1 920.6h0M1040.6 880.9h0M1041.1 905.8h0M1041.2 905.8h0M675.8 802h0M1041.2 905.5h0M674.7 810.1h0M675 810.1h0M1126.8 914.2h0M674.3 809.4h0M777.7 822.2h0M674.8 808.3h0M1126.7 912.2h0M775.7 777.8h0M1126.9 911.2h0M775.7 778.2h0M776 779.7h0" stroke="#1f77b4" stroke-width="5.50" stroke-linecap="round" fill="none"/>
<path d="M119.5 946 L120.5 952.2 L121.5 947.9 L122.5 942.4 L123.5 944 L124.5 948.3 L125.5 945.8 L126.5 941.5 L127.5 937.8 L128.5 944.2 L129.5 948.8 L130.5 956.2 L131.5 952.8 L132.5 949.9 L133.5 947.9 L134.5 948.2 L135.5 944 L136.5 950.7 L137.5 970.3 L138.5 971.7 L139.5 954.7 L140.5 948.3 L141.5 952.3 L142.5 950.3 L143.5 961 L144.5 958.2 L145.5 958.5 L146.5 952.6 L147.5 957.9 L148.5 964.6 L149.5 962.5 L150.5 965.4 L151.5 981.4 L152.5 978.6 L153.5 969.1 L154.5 961.7 L155.5 964.9 L156.5 974.1 L157.5 961.8 L158.5 956.2 L159.5 957.6 L160.5 973.3 L161.5 975.9 L162.5 982.8 L163.5 984.8 L164.5 984 L165.5 993.1 L166.5 991.3 L167.5 977.1 L168.5 987.8 L169.5 1002.3 L170.5 981.9 L171.5 966 L172.5 947.8 L173.5 945.3 L174.5 941.3 L175.5 942.6 L176.5 931.4 L177.5 921.8 L178.5 929.2 L179.5 922.2 L180.5 915.1 L181.5 918.8 L182.5 918.2 L183.5 923.4 L184.5 921.2 L185.5 920.5 L186.5 925.2 L187.5 920.5 L188.5 922.9 L189.5 909 L190.5 920.3 L191.5 915 L192.5 908.9 L193.5 913.1 L194.5 924.5 L195.5 925.1 L196.5 930.4 L197.5 939.6 L198.5 931.1 L199.5 928.3 L200.5 937.2 L201.5 944.4 L202.5 934.3 L203.5 925.7 L204.5 923.5 L205.5 931.5 L206.5 935.9 L207.5 926.5 L208.5 933 L209.5 941.7 L210.5 951.4 L211.5 957.1 L212.5 944.2 L213.5 937.3 L214.5 936.4 L215.5 926.5 L216.5 934.7 L217.5 948.1 L218.5 955.5 L219.5 952.2 L220.5 943.5 L221.5 942.1 L222.5 923.2 L223.5 923.1 L224.5 932.3 L225.5 926.7 L226.5 917.1 L227.5 921.2 L228.5 927.7 L229.5 927.2 L230.5 928.4 L231.5 922.9 L232.5 924.6 L233.5 916.7 L234.5 922.2 L235.5 935.8 L236.5 953.2 L237.5 948.2 L238.5 945.1 L239.5 939.1 L240.5 941.5 L241.5 938.9 L242.5 934.1 L243.5 933.9 L244.5 919 L245.5 936.8 L246.5 957.1 L247.5 944 L248.5 941 L249.5 933.5 L250.5 936.6 L251.5 937 L252.5 954.4 L253.5 947.1 L254.5 925 L255.5 913.4 L256.5 908.3 L257.5 921.3 L258.5 930.9 L259.5 916.7 L260.5 908 L261.5 919.7 L262.5 933.1 L263.5 929.5 L264.5 948.8 L265.5 941.4 L266.5 922.7 L267.5 942.6 L268.5 937.7 L269.5 948.3 L270.5 954.2 L271.5 932.3 L272.5 924.5 L273.5 928.6 L274.5 929.3 L275.5 927.3 L276.5 917.3 L277.5 909.1 L278.5 907.1 L279.5 908.5 L280.5 909.7 L281.5 917.2 L282.5 913.4 L283.5 904.9 L284.5 908.2 L285.5 890.4 L286.5 889.4 L287.5 881.5 L288.5 883.7 L289.5 886.1 L290.5 888.6 L291.5 886 L292.5 878 L293.5 893.8 L294.5 881 L295.5 861 L296.5 859.4 L297.5 881.5 L298.5 878.1 L299.5 864.3 L300.5 869.9 L301.5 877.3 L302.5 872.8 L303.5 873.1 L304.5 883.8 L305.5 894.5 L306.5 890.1 L307.5 883.2 L308.5 886.5 L309.5 874.2 L310.5 884.6 L311.5 905 L312.5 902.7 L313.5 896.7 L314.5 894.8 L315.5 894.6 L316.5 879.1 L317.5 866.5 L318.5 872.9 L319.5 855.8 L320.5 862.5 L321.5 891.9 L322.5 891.3 L323.5 872.9 L324.5 866 L325.5 866.5 L326.5 865.8 L327.5 849.6 L328.5 841.7 L329.5 844.6 L330.5 852.7 L331.5 855.6 L332.5 853.7 L333.5 854.4 L334.5 843.6 L335.5 846.1 L336.5 846.2 L337.5 849.6 L338.5 862.7 L339.5 855.9 L340.5 852 L341.5 859.5 L342.5 861.1 L343.5 872 L344.5 878.3 L345.5 872.9 L346.5 855.7 L347.5 860.5 L348.5 874.4 L349.5 868.4 L350.5 874.1 L351.5 871.8 L352.5 857.2 L353.5 870.5 L354.5 876.4 L355.5 880.5 L356.5 886.2 L357.5 878.9 L358.5 875.2 L359.5 875.9 L360.5 868.1 L361.5 861.3 L362.5 850.6 L363.5 866.8 L364.5 862.5 L365.5 869.9 L366.5 876.8 L367.5 876.6 L368.5 873.5 L369.5 865.9 L370.5 854.8 L371.5 863.8 L372.5 876 L373.5 866.4 L374.5 871.1 L375.5 894.9 L376.5 899.4 L377.5 894.5 L378.5 880 L379.5 882.6 L380.5 893.4 L381.5 888.7 L382.5 868.3 L383.5 848.9 L384.5 847.5 L385.5 855.4 L386.5 882.7 L387.5 880.5 L388.5 876 L389.5 874.8 L390.5 873.2 L391.5 873.1 L392.5 858.2 L393.5 852.8 L394.5 872.6 L395.5 855.1 L396.5 847.6 L397.5 854.8 L398.5 868.9 L399.5 885.6 L400.5 897 L401.5 894.4 L402.5 911.1 L403.5 911.7 L404.5 907.4 L405.5 872.7 L406.5 872.1 L407.5 868.1 L408.5 837.7 L409.5 835.9 L410.5 827.6 L411.5 819.2 L412.5 839.5 L413.5 858.3 L414.5 845.5 L415.5 831.5 L416.5 831.5 L417.5 838.5 L418.5 843 L419.5 834.7 L420.5 831.8 L421.5 828.8 L422.5 795.6 L423.5 776.6 L424.5 777.3 L425.5 796.8 L426.5 775 L427.5 790.9 L428.5 805.7 L429.5 785 L430.5 784.1 L431.5 797 L432.5 806.9 L433.5 790 L434.5 798.8 L435.5 798.8 L436.5 790.5 L437.5 802.2 L438.5 823.3 L439.5 816.7 L440.5 808.3 L441.5 812.1 L442.5 824.7 L443.5 819.1 L444.5 821.9 L445.5 824.5 L446.5 828.8 L447.5 810.6 L448.5 813.7 L449.5 819.6 L450.5 820.2 L451.5 821.9 L452.5 819.9 L453.5 836.2 L454.5 850 L455.5 828.9 L456.5 793.6 L457.5 787.2 L458.5 811.9 L459.5 819.3 L460.5 821 L461.5 819 L462.5 828.1 L463.5 824.5 L464.5 808.9 L465.5 810.9 L466.5 803 L467.5 792.9 L468.5 802.7 L469.5 803.7 L470.5 816.7 L471.5 841 L472.5 840.4 L473.5 829.6 L474.5 811.5 L475.5 808.8 L476.5 821.7 L477.5 808.9 L478.5 798.7 L479.5 795.7 L480.5 804.9 L481.5 815.9 L482.5 799.4 L483.5 791.2 L484.5 794 L485.5 796.1 L486.5 788.7 L487.5 783.4 L488.5 789.9 L489.5 797.4 L490.5 797.9 L491.5 794.8 L492.5 793.1 L493.5 796.5 L494.5 798.6 L495.5 795 L496.5 801.9 L497.5 807.8 L498.5 801.5 L499.5 792.8 L500.5 799.9 L501.5 810.6 L502.5 816.7 L503.5 809.8 L504.5 826.1 L505.5 828.1 L506.5 833.8 L507.5 835.3 L508.5 819.9 L509.5 814.6 L510.5 824.1 L511.5 833.6 L512.5 821.8 L513.5 808.7 L514.5 815.3 L515.5 831.4 L516.5 838.6 L517.5 829.4 L518.5 826.9 L519.5 829.4 L520.5 826.6 L521.5 818.7 L522.5 825.4 L523.5 837.1 L524.5 841.1 L525.5 840.4 L526.5 834.1 L527.5 832.5 L528.5 833.2 L529.5 843.3 L530.5 843.8 L531.5 833 L532.5 827.7 L533.5 809.3 L534.5 795.9 L535.5 785 L536.5 788.4 L537.5 788 L538.5 796.5 L539.5 801.5 L540.5 790 L541.5 778.4 L542.5 783.1 L543.5 787.9 L544.5 792.7 L545.5 793.7 L546.5 780.4 L547.5 780.2 L548.5 802.8 L549.5 809 L550.5 798.5 L551.5 790.3 L552.5 794.3 L553.5 801.8 L554.5 811.3 L555.5 823.6 L556.5 813.6 L557.5 809.4 L558.5 802.5 L559.5 802.6 L560.5 798.7 L561.5 792.2 L562.5 798.4 L563.5 797 L564.5 798.6 L565.5 787.3 L566.5 792.1 L567.5 793.4 L568.5 774.1 L569.5 776.6 L570.5 794.8 L571.5 789.8 L572.5 771.7 L573.5 770.3 L574.5 767.3 L575.5 781.9 L576.5 810.2 L577.5 808.5 L578.5 817.6 L579.5 790.4 L580.5 787.4 L581.5 816.5 L582.5 818.7 L583.5 818.5 L584.5 821.9 L585.5 816.2 L586.5 805.3 L587.5 784.4 L588.5 793.1 L589.5 807.1 L590.5 805.6 L591.5 802.6 L592.5 801.4 L593.5 818.5 L594.5 830.2 L595.5 823.6 L596.5 820.3 L597.5 813.7 L598.5 803.4 L599.5 787.8 L600.5 780.2 L601.5 787 L602.5 789.4 L603.5 786.3 L604.5 796.2 L605.5 797.6 L606.5 796.9 L607.5 797.4 L608.5 802.3 L609.5 797.4 L610.5 785.9 L611.5 790.4 L612.5 799.1 L613.5 799.2 L614.5 787.5 L615.5 783.6 L616.5 785.7 L617.5 785.8 L618.5 797.3 L619.5 777.5 L620.5 771.1 L621.5 779.2 L622.5 771.6 L623.5 763 L624.5 774.2 L625.5 771.5 L626.5 767.3 L627.5 763.7 L628.5 770 L629.5 775.1 L630.5 772.4 L631.5 763.6 L632.5 764.1 L633.5 771.4 L634.5 786 L635.5 787.9 L636.5 788.3 L637.5 805.7 L638.5 804.4 L639.5 814 L640.5 815.3 L641.5 828.1 L642.5 832 L643.5 837.4 L644.5 845.7 L645.5 845.4 L646.5 835.9 L647.5 822.9 L648.5 811.5 L649.5 818.7 L650.5 788.9 L651.5 786.3 L652.5 829.9 L653.5 866.3 L654.5 900.7 L655.5 903.3 L656.5 897.1 L657.5 874.3 L658.5 879.3 L659.5 890 L660.5 876.6 L661.5 855.8 L662.5 829.7 L663.5 800.1 L664.5 789 L665.5 792.5 L666.5 817.2 L667.5 805.9 L668.5 799.9 L669.5 816.7 L670.5 822.8 L671.5 862.4 L672.5 883.8 L673.5 839.9 L674.5 784.8 L675.5 776.8 L676.5 820.2 L677.5 787.9 L678.5 750.2 L679.5 764.4 L680.5 748 L681.5 757.3 L682.5 765.1 L683.5 765.5 L684.5 777.2 L685.5 812 L686.5 795.6 L687.5 795.8 L688.5 792.3 L689.5 776.9 L690.5 787.2 L691.5 803 L692.5 807.4 L693.5 796.2 L694.5 799 L695.5 801 L696.5 796.6 L697.5 771.8 L698.5 787.9 L699.5 794.4 L700.5 792.2 L701.5 777.7 L702.5 794.6 L703.5 822.1 L704.5 826.3 L705.5 784.3 L706.5 770.1 L707.5 787.1 L708.5 789.2 L709.5 775 L710.5 773.8 L711.5 786.4 L712.5 814.5 L713.5 839 L714.5 851.6 L715.5 834.2 L716.5 809 L717.5 798.2 L718.5 803.1 L719.5 800.7 L720.5 816.5 L721.5 810.8 L722.5 810.7 L723.5 802.3 L724.5 811.7 L725.5 809.3 L726.5 796.6 L727.5 783.8 L728.5 785.4 L729.5 805.4 L730.5 793.8 L731.5 772.9 L732.5 771.7 L733.5 761.6 L734.5 742.2 L735.5 745.2 L736.5 772.8 L737.5 785.8 L738.5 785.5 L739.5 838.5 L740.5 882.3 L741.5 857.8 L742.5 783.7 L743.5 771.1 L744.5 755.1 L745.5 714.7 L746.5 718.8 L747.5 788.8 L748.5 792 L749.5 775.4 L750.5 785.4 L751.5 780.5 L752.5 769.3 L753.5 766.1 L754.5 771.5 L755.5 772.8 L756.5 761 L757.5 755.2 L758.5 749.6 L759.5 732.9 L760.5 748.6 L761.5 751.9 L762.5 750.2 L763.5 752.3 L764.5 756.6 L765.5 754.8 L766.5 748.3 L767.5 739.1 L768.5 735.7 L769.5 737.8 L770.5 747.1 L771.5 737.4 L772.5 748.8 L773.5 756.9 L774.5 755.6 L775.5 775.5 L776.5 807.3 L777.5 818.7 L778.5 819.3 L779.5 822.4 L780.5 857.8 L781.5 875 L782.5 888.8 L783.5 900.3 L784.5 891.1 L785.5 886.8 L786.5 881 L787.5 878.6 L788.5 876.7 L789.5 876.4 L790.5 869.4 L791.5 858.5 L792.5 858.7 L793.5 860.3 L794.5 844.6 L795.5 849.2 L796.5 854.9 L797.5 841.4 L798.5 829.6 L799.5 830.4 L800.5 828 L801.5 826.4 L802.5 828.4 L803.5 835 L804.5 836.1 L805.5 836.3 L806.5 827.3 L807.5 822.9 L808.5 823 L809.5 826 L810.5 828.3 L811.5 840.9 L812.5 841.9 L813.5 829.4 L814.5 824 L815.5 851.1 L816.5 884.1 L817.5 891.2 L818.5 892.1 L819.5 890.7 L820.5 886.7 L821.5 871.6 L822.5 860.8 L823.5 858.2 L824.5 866.4 L825.5 873.5 L826.5 871.3 L827.5 862.1 L828.5 857.5 L829.5 869.2 L830.5 864.3 L831.5 856.8 L832.5 852.2 L833.5 850.5 L834.5 854.3 L835.5 862 L836.5 870.4 L837.5 883.3 L838.5 889.9 L839.5 892.4 L840.5 884 L841.5 889.6 L842.5 885.7 L843.5 878.6 L844.5 872.2 L845.5 871 L846.5 875.6 L847.5 889.3 L848.5 894.5 L849.5 903.6 L850.5 908.7 L851.5 907.5 L852.5 911.6 L853.5 918.4 L854.5 924.6 L855.5 916.3 L856.5 909.5 L857.5 907.9 L858.5 903.2 L859.5 897.8 L860.5 877 L861.5 873.9 L862.5 864.2 L863.5 846.4 L864.5 846.2 L865.5 842.5 L866.5 838.2 L867.5 832.4 L868.5 838.4 L869.5 839 L870.5 845.5 L871.5 852.3 L872.5 840.1 L873.5 828.6 L874.5 833.8 L875.5 842.2 L876.5 848.7 L877.5 841.3 L878.5 838.6 L879.5 846.8 L880.5 847.3 L881.5 845.9 L882.5 844.9 L883.5 852.1 L884.5 853.8 L885.5 857.8 L886.5 873.3 L887.5 885.6 L888.5 892.5 L889.5 894.1 L890.5 882.7 L891.5 881.3 L892.5 890.3 L893.5 873.1 L894.5 859.9 L895.5 857.8 L896.5 856.9 L897.5 872.5 L898.5 880.3 L899.5 875.8 L900.5 880.2 L901.5 874.6 L902.5 867.8 L903.5 855.9 L904.5 850.3 L905.5 853.4 L906.5 870.8 L907.5 877.9 L908.5 879.4 L909.5 876.6 L910.5 876.9 L911.5 882.5 L912.5 892 L913.5 896 L914.5 897.1 L915.5 907.6 L916.5 915.6 L917.5 910.9 L918.5 916.6 L919.5 926.8 L920.5 940 L921.5 920.8 L922.5 907.8 L923.5 898.5 L924.5 899.8 L925.5 896 L926.5 885.3 L927.5 885.3 L928.5 893.9 L929.5 892.7 L930.5 889.5 L931.5 872 L932.5 851 L933.5 857 L934.5 856.5 L935.5 851 L936.5 843.6 L937.5 836.8 L938.5 840.4 L939.5 854.6 L940.5 854.4 L941.5 850.4 L942.5 854.5 L943.5 861.1 L944.5 861.1 L945.5 859.2 L946.5 855 L947.5 857.3 L948.5 856.4 L949.5 857.1 L950.5 868.3 L951.5 869 L952.5 868.8 L953.5 873 L954.5 889 L955.5 904.4 L956.5 905.8 L957.5 906.8 L958.5 902.8 L959.5 912.3 L960.5 919.9 L961.5 924.1 L962.5 918.4 L963.5 912.9 L964.5 914.7 L965.5 916.2 L966.5 920.2 L967.5 917.4 L968.5 910.8 L969.5 902.4 L970.5 894.3 L971.5 881.4 L972.5 872.8 L973.5 871.3 L974.5 877.8 L975.5 871.6 L976.5 864.9 L977.5 864.1 L978.5 868 L979.5 863.5 L980.5 866.2 L981.5 862.8 L982.5 863.3 L983.5 865.6 L984.5 871.8 L985.5 874.8 L986.5 876 L987.5 870.1 L988.5 867.6 L989.5 877.2 L990.5 883.2 L991.5 881 L992.5 879.9 L993.5 881.8 L994.5 879.5 L995.5 889.7 L996.5 902.5 L997.5 904.6 L998.5 904 L999.5 910 L1000.5 911.7 L1001.5 913.8 L1002.5 907.7 L1003.5 904.9 L1004.5 903.4 L1005.5 898.5 L1006.5 891.4 L1007.5 883.4 L1008.5 877.9 L1009.5 875.3 L1010.5 871.7 L1011.5 867.5 L1012.5 874.2 L1013.5 880.2 L1014.5 883.8 L1015.5 883.7 L1016.5 876.3 L1017.5 878.3 L1018.5 871 L1019.5 870.5 L1020.5 872.7 L1021.5 874.3 L1022.5 874.4 L1023.5 875.8 L1024.5 878.1 L1025.5 877.3 L1026.5 870.8 L1027.5 870.4 L1028.5 876.2 L1029.5 882.9 L1030.5 889.1 L1031.5 893.2 L1032.5 882.4 L1033.5 872.9 L1034.5 870.9 L1035.5 870.3 L1036.5 868.4 L1037.5 866.6 L1038.5 869.8 L1039.5 873.6 L1040.5 879.7 L1041.5 896.2 L1042.5 914.5 L1043.5 912.6 L1044.5 915.9 L1045.5 917.8 L1046.5 922.2 L1047.5 918.3 L1048.5 909.9 L1049.5 907 L1050.5 899 L1051.5 902.2 L1052.5 901 L1053.5 897.1 L1054.5 900.4 L1055.5 895 L1056.5 887.2 L1057.5 891.5 L1058.5 891.8 L1059.5 893.5 L1060.5 893.8 L1061.5 892.6 L1062.5 887.5 L1063.5 880.1 L1064.5 878.2 L1065.5 877 L1066.5 872.9 L1067.5 875.9 L1068.5 885.6 L1069.5 883.7 L1070.5 885.6 L1071.5 879.4 L1072.5 880.9 L1073.5 879.7 L1074.5 878.1 L1075.5 879 L1076.5 880.9 L1077.5 886.3 L1078.5 898.5 L1079.5 895.6 L1080.5 885.4 L1081.5 885.1 L1082.5 892.3 L1083.5 893.9 L1084.5 894 L1085.5 898.5 L1086.5 892.6 L1087.5 895.1 L1088.5 900.5 L1089.5 892 L1090.5 895.8 L1091.5 897.7 L1092.5 890.1 L1093.5 882.9 L1094.5 877.9 L1095.5 874.6 L1096.5 880.9 L1097.5 888.3 L1098.5 887.7 L1099.5 890 L1100.5 894.3 L1101.5 896.2 L1102.5 890.3 L1103.5 897.6 L1104.5 907.6 L1105.5 912.8 L1106.5 907 L1107.5 900.1 L1108.5 911.7 L1109.5 920.6 L1110.5 924.4 L1111.5 918.6 L1112.5 919.8 L1113.5 916.2 L1114.5 911.2 L1115.5 910.2 L1116.5 905.6 L1117.5 907.6 L1118.5 906.6 L1119.5 907.4 L1120.5 917.9 L1121.5 921.8 L1122.5 923 L1123.5 930 L1124.5 934.7 L1125.5 923.1 L1126.5 903.1 L1127.5 888.3 L1128.5 883 L1129.5 876.4 L1130.5 870.7 L1131.5 879.6 L1132.5 881.7 L1133.5 887.5 L1134.5 886.4 L1135.5 880.7 L1136.5 885.5 L1137.5 889.8 L1138.5 895.3 L1139.5 900 L1140.5 902.8 L1141.5 902.8 L1142.5 896.2 L1143.5 896.6 L1144.5 890.3 L1145.5 886.1 L1146.5 890.7 L1147.5 892.8 L1148.5 900.3 L1149.5 894.3 L1150.5 887.4 L1151.5 884.5 L1152.5 870.2 L1153.5 865.3 L1154.5 869.7 L1155.5 871.6 L1156.5 867.5 L1157.5 860.2 L1158.5 866.6 L1159.5 879.2 L1160.5 881 L1161.5 879.1 L1162.5 888.1 L1163.5 895.3 L1164.5 898 L1165.5 896.2 L1166.5 902.1 L1167.5 902.3 L1168.5 906.6 L1169.5 903.7 L1170.5 896.3 L1171.5 896.7 L1172.5 898.3 L1173.5 895.2 L1174.5 884.7 L1175.5 885.6 L1176.5 891.5 L1177.5 887.9 L1178.5 877 L1179.5 876.7 L1180.5 882.8 L1181.5 880.4 L1182.5 883.4 L1183.5 886.1 L1184.5 881.7 L1185.5 878.3 L1186.5 889.2 L1187.5 894 L1188.5 894.7 L1189.5 890 L1190.5 884.4 L1191.5 891.1 L1192.5 893.2 L1193.5 894 L1194.5 891.4 L1195.5 890 L1196.5 892.7 L1197.5 899.1 L1198.5 896.3 L1199.5 890.8 L1200.5 888.7 L1201.5 897.8 L1202.5 903.1 L1203.5 905.8 L1204.5 908 L1205.5 905.1 L1206.5 900.6 L1207.5 897.5 L1208.5 893.1 L1209.5 894.3 L1210.5 895.8 L1211.5 893.1 L1212.5 890.1 L1213.5 896.2 L1214.5 897.3 L1215.5 892 L1216.5 896.2 L1217.5 898.5 L1218.5 903.9 L1219.5 927 L1220.5 943.1 L1221.5 939.9 L1222.5 941.8 L1223.5 945.7 L1224.5 934.2 L1225.5 930.2 L1226.5 936 L1227.5 943.2 L1228.5 943.9 L1229.5 939.3 L1230.5 937.7 L1231.5 937.9 L1232.5 935.9 L1233.5 933 L1234.5 933.9 L1235.5 939.6 L1236.5 941.2 L1237.5 952.3 L1238.5 944.1 L1239.5 931.7 L1240.5 928.5 L1241.5 926.7 L1242.5 925.5 L1243.5 925.5 L1244.5 924.9 L1245.5 925.4 L1246.5 935.4 L1247.5 942.3 L1248.5 930.5 L1249.5 927.5 L1250.5 934 L1251.5 938 L1252.5 937 L1253.5 936.5 L1254.5 933.8 L1255.5 938.6 L1256.5 950.2 L1257.5 961.1 L1258.5 973 L1259.5 974.2 L1260.5 965.2 L1261.5 969.8 L1262.5 963.7 L1263.5 956.3 L1264.5 963.1 L1265.5 962.2 L1266.5 951.3 L1267.5 935 L1268.5 927.4 L1269.5 925.3 L1270.5 918 L1271.5 920.2 L1272.5 921.2 L1273.5 918.6 L1274.5 917.7 L1275.5 913.4 L1276.5 908.2 L1277.5 914 L1278.5 928.1 L1279.5 937 L1280.5 936.7 L1281.5 936.1 L1282.5 935.4 L1283.5 927.3 L1284.5 926.6 L1285.5 930.9 L1286.5 935.4 L1287.5 938.3 L1288.5 938.6 L1289.5 936.8 L1290.5 941.1 L1291.5 944.7 L1292.5 939.9 L1293.5 942.4 L1294.5 950.9 L1295.5 958.7 L1296.5 956 L1297.5 953.8 L1298.5 949.7 L1299.5 943 L1300.5 941.2 L1301.5 941.3 L1302.5 947.9 L1303.5 949.2 L1304.5 948.1 L1305.5 946.5 L1306.5 942.6 L1307.5 938.6 L1308.5 940.3 L1309.5 946.2 L1310.5 944.2 L1311.5 944.7 L1312.5 951.8 L1313.5 957.1 L1314.5 953.7 L1315.5 953.7 L1316.5 961.1 L1317.5 961.2 L1318.5 953.2 L1319.5 948.9 L1320.5 937.3 L1321.5 934.3 L1322.5 930.3 L1323.5 935 L1324.5 938.7 L1325.5 925.5 L1326.5 918.1 L1327.5 910.5 L1328.5 901.4 L1329.5 904.4 L1330.5 907.5 L1331.5 910 L1332.5 908.4 L1333.5 911.3 L1334.5 919.6 L1335.5 919.7 L1336.5 917.3 L1337.5 920 L1338.5 926.5 L1339.5 934 L1340.5 935.1 L1341.5 929.7 L1342.5 937.5 L1343.5 941.5 L1344.5 947.4 L1345.5 954.5 L1346.5 963.8 L1347.5 997.1 L1348.5 1008.8 L1349.5 986.2 L1350.5 952.6 L1351.5 945 L1352.5 936.1 L1353.5 925.2 L1354.5 917.7 L1355.5 914.6 L1356.5 920.7 L1357.5 921.1 L1358.5 916.3 L1359.5 910.9 L1360.5 911.2 L1361.5 918.9 L1362.5 927.8 L1363.5 925.9 L1364.5 929.1 L1365.5 934.3 L1366.5 935.2 L1367.5 938.4 L1368.5 936.1 L1369.5 935 L1370.5 938 L1371.5 939.1 L1372.5 940 L1373.5 938.2 L1374.5 939.4 L1375.5 949.2 L1376.5 943.8 L1377.5 941.9 L1378.5 947.9 L1379.5 943.7 L1380.5 941.4 L1381.5 943.5 L1382.5 943.7 L1383.5 943.8 L1384.5 945 L1385.5 943.9 L1386.5 939.4 L1387.5 942.2 L1388.5 944.2 L1389.5 944.2 L1390.5 948.1 L1391.5 952.1 L1392.5 958.2 L1393.5 954.5 L1394.5 949.3 L1395.5 952.4 L1396.5 953.1 L1397.5 953 L1398.5 938.6 L1399.5 939.7 L1400.5 945.9 L1401.5 951.2 L1402.5 949.6 L1403.5 943 L1404.5 944.7 L1405.5 957.1 L1406.5 966.2 L1407.5 964.3 L1408.5 955.1 L1409.5 950.5 L1410.5 941.8 L1411.5 942.3 L1412.5 956.1 L1413.5 959.1 L1414.5 954.4 L1415.5 953.9 L1416.5 957.9 L1417.5 955 L1418.5 950 L1419.5 949.2 L1420.5 948.2 L1421.5 946.7 L1422.5 946.9 L1423.5 950.8 L1424.5 947.7 L1425.5 946.3 L1426.5 954 L1427.5 957.1 L1428.5 959 L1429.5 962.9 L1430.5 963.9 L1431.5 956.6 L1432.5 958.3 L1433.5 958.8 L1434.5 954.7 L1435.5 950.3 L1436.5 942.3 L1437.5 935.7 L1438.5 926.6 L1439.5 929.6 L1440.5 930.1 L1441.5 924.7 L1442.5 921.6 L1443.5 918.1 L1444.5 914.3 L1445.5 915.5 L1446.5 912.8 L1447.5 914.7 L1448.5 910.3 L1449.5 904.7" stroke="#ff7f0e" stroke-width="2.08" fill="none" stroke-linejoin="round"/>
</g>
<rect x="119.5" y="575.5" width="1330.0" height="479.0" fill="none" stroke="#000" stroke-width="1.11"/>
<path d="M119.5 1054.5v4.86M285.8 1054.5v4.86M452.1 1054.5v4.86M618.4 1054.5v4.86M784.6 1054.5v4.86M950.9 1054.5v4.86M1117.2 1054.5v4.86M1283.5 1054.5v4.86M119.5 1033.5h-4.86M119.5 977.6h-4.86M119.5 921.8h-4.86M119.5 865.9h-4.86M119.5 810h-4.86M119.5 754.1h-4.86M119.5 698.2h-4.86M119.5 642.4h-4.86M119.5 586.5h-4.86" stroke="#000" stroke-width="1.11" fill="none"/>
<text x="108.3" y="1041.4" font-size="22.22" text-anchor="end">0.010</text>
<text x="108.3" y="985.5" font-size="22.22" text-anchor="end">0.012</text>
<text x="108.3" y="929.6" font-size="22.22" text-anchor="end">0.014</text>
<text x="108.3" y="873.8" font-size="22.22" text-anchor="end">0.016</text>
<text x="108.3" y="817.9" font-size="22.22" text-anchor="end">0.018</text>
<text x="108.3" y="762" font-size="22.22" text-anchor="end">0.020</text>
<text x="108.3" y="706.1" font-size="22.22" text-anchor="end">0.022</text>
<text x="108.3" y="650.3" font-size="22.22" text-anchor="end">0.024</text>
<text x="108.3" y="594.4" font-size="22.22" text-anchor="end">0.026</text>
<text x="118.9" y="567.1" font-size="27.08" text-anchor="start" textLength="43.1" lengthAdjust="spacing">(b)</text>
<text x="0" y="0" font-size="21.53" text-anchor="middle" textLength="211.6" lengthAdjust="spacing" transform="translate(27.8 815.5) rotate(-90)">Peak Voltage [V]</text>
<rect x="1035" y="584.6" width="405.4" height="80.4" rx="3.5" fill="#fff" fill-opacity="0.8" stroke="#cccccc" stroke-width="1.11"/>
<path d="M1060.6 599.5h0" stroke="#1f77b4" stroke-width="6" stroke-linecap="round"/>
<path d="M1040.9 638.8H1079.8" stroke="#ff7f0e" stroke-width="2.08"/>
<text x="1093.2" y="605.1" font-size="18.06" text-anchor="start" textLength="100" lengthAdjust="spacing">Raw Data</text>
<text x="1093.2" y="632.8" font-size="18.06" text-anchor="start" textLength="270.8" lengthAdjust="spacing">Butterworth Filtered Data</text>
<text x="1093.2" y="654.1" font-size="18.06" text-anchor="start" textLength="340.2" lengthAdjust="spacing">(N=6, Tc=3.3333 min, Type: low)</text>
<path d="M242.6 95.1h0M242.6 121.4h0M242.6 123h0M242.6 128h0M408.3 110.3h0M408.3 122.2h0M408.3 157.2h0M408.3 174h0M602.4 97.6h0M602.4 102.1h0M602.4 133.3h0M602.4 192.1h0M602.4 203.2h0M795.3 108.3h0M795.3 126.3h0M795.3 135.4h0M795.3 174h0M960.4 60.5h0M960.4 67.5h0M960.4 71.4h0M960.4 73.4h0M1033.2 340.4h0M1033.2 421.2h0M1033.2 457.4h0M1033.2 483.4h0M1033.2 485.3h0M1102.3 470.3h0M1102.3 478.5h0M1102.3 485.3h0M1102.3 496.3h0M1165.3 345.9h0M1165.3 348.6h0M1165.3 355.2h0M1245.4 342.3h0M1252.2 333.3h0M1252.2 415.5h0M1252.2 437.4h0M1252.2 478.5h0M1349.6 331.4h0M1364.4 364.2h0M1364.4 390.3h0M1364.4 450.5h0M1364.4 454.7h0M1364.4 463.4h0M920.3 943h0M920.3 948h0M920.3 953h0M920.3 958h0M920.3 963h0M920.3 968h0M920.3 974h0M920.3 980h0M920.3 987h0M920.3 996h0M920.3 1005h0M920.3 1013h0M920.3 1020h0M920.3 1027h0M920.3 1032h0M932.9 918h0M932.9 924h0M932.9 931h0M932.9 938h0M932.9 946h0M932.9 955h0M932.9 963h0M932.9 972h0M932.9 982h0M932.9 993h0M829.6 896h0M829.6 905h0M829.6 914h0M829.6 922h0M829.6 931h0M829.6 940h0M829.6 950h0M829.6 959h0M829.6 968h0M741.4 903h0M741.4 918h0M741.4 933h0M741.4 944h0M741.4 955h0M741.4 966h0M741.4 978h0M741.4 985h0M741.4 1006h0M653 975h0M653 985h0M653 996.7h0M658.5 980h0M658.5 988h0M666.8 975h0M666.8 984h0M1222.5 975h0M1222.5 983h0M1222.5 990h0M1222.5 996.6h0M1244 847.5h0M1244 859h0M1157 818h0M1157 824h0M1157 830h0M1209 844.6h0M950.6 902.8h0M221.5 847.7h0M221.5 856.6h0M162.5 903h0M398 1003h0M398 1010h0M403.5 1015h0M403.5 1022h0M403.5 1029h0M1319.6 1005h0M1319.6 1012h0M1319.6 1019h0M741.8 597h0M741.8 609h0M741.8 616h0M741.8 628h0M741.8 640h0M741.8 652h0M746 609h0M746 621h0M746 634h0M746 646h0M746 658h0M743.8 662h0M743.8 668h0M743.8 676h0M672.6 642h0M672.6 650h0M672.6 660h0M669 653h0M669 667h0" stroke="#1f77b4" stroke-width="5.50" stroke-linecap="round" fill="none"/>
<text x="0" y="0" font-size="22.22" text-anchor="end" transform="translate(116.5 1078) rotate(-30)">05-10 00</text>
<text x="0" y="0" font-size="22.22" text-anchor="end" transform="translate(282.8 1078) rotate(-30)">05-10 03</text>
<text x="0" y="0" font-size="22.22" text-anchor="end" transform="translate(449.1 1078) rotate(-30)">05-10 06</text>
<text x="0" y="0" font-size="22.22" text-anchor="end" transform="translate(615.4 1078) rotate(-30)">05-10 09</text>
<text x="0" y="0" font-size="22.22" text-anchor="end" transform="translate(781.6 1078) rotate(-30)">05-10 12</text>
<text x="0" y="0" font-size="22.22" text-anchor="end" transform="translate(947.9 1078) rotate(-30)">05-10 15</text>
<text x="0" y="0" font-size="22.22" text-anchor="end" transform="translate(1114.2 1078) rotate(-30)">05-10 18</text>
<text x="0" y="0" font-size="22.22" text-anchor="end" transform="translate(1280.5 1078) rotate(-30)">05-10 21</text>
<text x="784.5" y="1157.8" font-size="22.22" text-anchor="middle">UTC</text>
</svg></body></html>
